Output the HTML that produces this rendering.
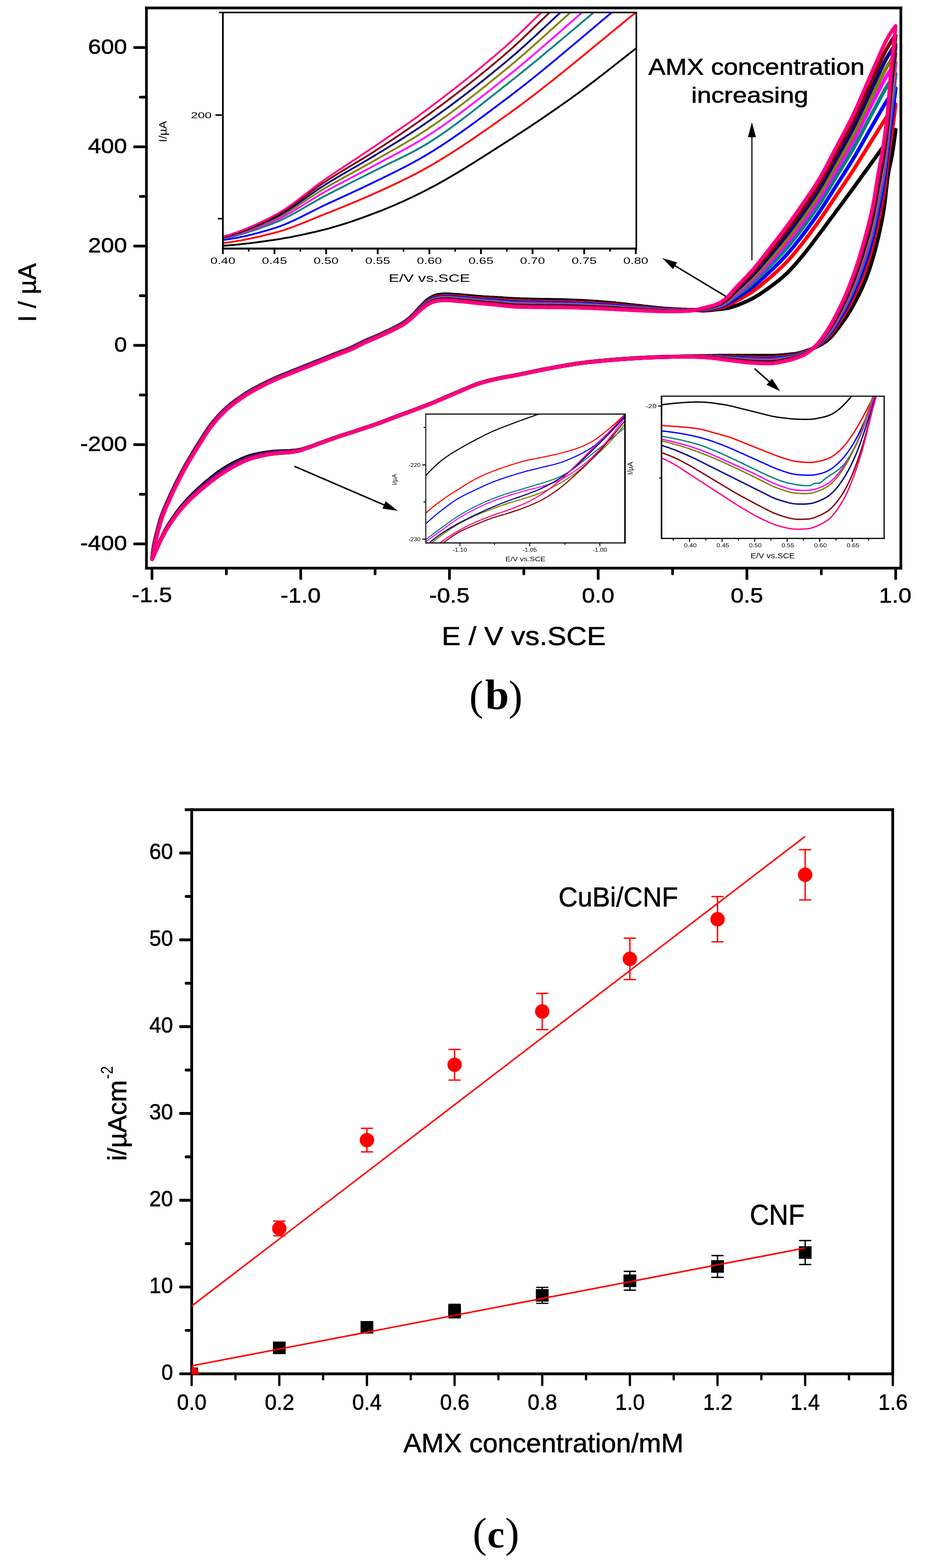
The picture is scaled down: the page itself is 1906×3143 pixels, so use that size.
<!DOCTYPE html>
<html lang="en"><head><meta charset="utf-8"><title>Figure (b), (c)</title>
<style>
html,body{margin:0;padding:0;background:#fff;}
body{width:1906px;height:3143px;overflow:hidden;font-family:"Liberation Sans",sans-serif;}
svg{display:block;}
</style></head><body>
<svg width="1906" height="3143" viewBox="0 0 1906 3143" role="img" aria-label="Cyclic voltammograms (b) and calibration plot (c)">
<g id="cv-main">
<path d="M304.8,1120.5 L306.0,1108.6 L307.0,1100.5 L308.0,1094.4 L309.0,1089.2 L310.0,1084.6 L311.0,1080.2 L312.0,1075.9 L313.0,1071.7 L314.0,1067.7 L315.0,1063.9 L316.0,1060.1 L317.0,1056.3 L318.0,1052.6 L319.0,1049.0 L320.0,1045.5 L321.0,1042.1 L322.0,1039.0 L323.0,1036.0 L324.0,1033.1 L325.0,1030.3 L326.0,1027.6 L327.0,1025.0 L328.0,1022.5 L329.0,1020.0 L330.0,1017.6 L334.0,1008.5 L338.0,999.8 L342.0,990.9 L346.0,982.2 L350.0,973.8 L354.0,965.8 L358.0,957.9 L362.0,950.1 L366.0,942.5 L370.0,935.3 L374.0,928.3 L378.0,921.5 L382.0,914.7 L386.0,907.9 L390.0,901.3 L394.0,894.8 L398.0,888.5 L402.0,882.2 L406.0,875.8 L410.0,869.5 L414.0,863.4 L418.0,857.6 L422.0,852.2 L426.0,847.1 L430.0,842.2 L434.0,837.6 L438.0,833.1 L442.0,828.9 L446.0,824.8 L450.0,820.9 L454.0,817.2 L458.0,813.7 L462.0,810.3 L466.0,807.2 L470.0,804.2 L474.0,801.3 L478.0,798.5 L482.0,795.7 L486.0,793.0 L490.0,790.3 L494.0,787.8 L498.0,785.3 L502.0,782.9 L506.0,780.6 L510.0,778.4 L514.0,776.3 L518.0,774.2 L522.0,772.1 L526.0,770.0 L530.0,768.0 L534.0,766.0 L538.0,764.1 L542.0,762.2 L546.0,760.3 L550.0,758.5 L554.0,756.7 L558.0,755.0 L562.0,753.3 L566.0,751.6 L570.0,750.1 L574.0,748.5 L578.0,746.9 L582.0,745.3 L586.0,743.7 L590.0,742.1 L594.0,740.5 L598.0,738.9 L602.0,737.3 L606.0,735.7 L610.0,734.1 L614.0,732.5 L618.0,730.9 L622.0,729.3 L626.0,727.7 L630.0,726.1 L634.0,724.6 L638.0,723.0 L642.0,721.4 L646.0,719.7 L650.0,718.1 L654.0,716.5 L658.0,714.9 L662.0,713.3 L666.0,711.6 L670.0,710.0 L674.0,708.4 L678.0,706.9 L682.0,705.3 L686.0,703.9 L690.0,702.5 L694.0,701.0 L698.0,699.5 L702.0,697.8 L706.0,695.9 L710.0,693.9 L714.0,691.9 L718.0,689.8 L722.0,687.8 L726.0,685.8 L730.0,684.0 L734.0,682.3 L738.0,680.5 L742.0,678.8 L746.0,677.1 L750.0,675.4 L754.0,673.7 L758.0,671.9 L762.0,670.1 L766.0,668.3 L770.0,666.5 L774.0,664.6 L778.0,662.8 L782.0,660.8 L786.0,658.9 L790.0,656.9 L794.0,654.8 L798.0,652.7 L802.0,650.6 L806.0,648.3 L810.0,645.7 L814.0,642.8 L818.0,639.7 L822.0,636.3 L826.0,632.6 L830.0,628.7 L834.0,624.3 L838.0,619.7 L842.0,615.3 L846.0,611.3 L850.0,607.3 L854.0,603.5 L858.0,600.3 L862.0,597.8 L866.0,595.5 L870.0,593.6 L874.0,592.1 L878.0,591.3 L882.0,590.8 L886.0,590.3 L890.0,590.1 L894.0,590.0 L898.0,590.1 L902.0,590.2 L906.0,590.4 L910.0,590.7 L914.0,591.0 L918.0,591.3 L922.0,591.6 L926.0,591.9 L930.0,592.3 L934.0,592.6 L938.0,593.0 L942.0,593.4 L946.0,593.8 L950.0,594.1 L954.0,594.5 L958.0,594.8 L962.0,595.1 L966.0,595.4 L970.0,595.7 L974.0,595.9 L978.0,596.1 L982.0,596.4 L986.0,596.6 L990.0,596.8 L994.0,597.0 L998.0,597.3 L1002.0,597.5 L1006.0,597.8 L1010.0,598.1 L1014.0,598.3 L1018.0,598.6 L1022.0,598.8 L1026.0,599.1 L1030.0,599.3 L1034.0,599.5 L1038.0,599.6 L1042.0,599.8 L1046.0,599.9 L1050.0,600.0 L1054.0,600.1 L1058.0,600.2 L1062.0,600.3 L1066.0,600.4 L1070.0,600.5 L1074.0,600.6 L1078.0,600.7 L1082.0,600.7 L1086.0,600.8 L1090.0,600.9 L1094.0,600.9 L1098.0,601.0 L1102.0,601.1 L1106.0,601.2 L1110.0,601.2 L1114.0,601.3 L1118.0,601.4 L1122.0,601.5 L1126.0,601.6 L1130.0,601.7 L1134.0,601.8 L1138.0,601.9 L1142.0,602.1 L1146.0,602.2 L1150.0,602.4 L1154.0,602.5 L1158.0,602.7 L1162.0,602.9 L1166.0,603.1 L1170.0,603.3 L1174.0,603.6 L1178.0,603.8 L1182.0,604.0 L1186.0,604.3 L1190.0,604.6 L1194.0,604.8 L1198.0,605.1 L1202.0,605.4 L1206.0,605.7 L1210.0,605.9 L1214.0,606.3 L1218.0,606.6 L1222.0,607.0 L1226.0,607.3 L1230.0,607.7 L1234.0,608.1 L1238.0,608.6 L1242.0,609.0 L1246.0,609.4 L1250.0,609.8 L1254.0,610.3 L1258.0,610.7 L1262.0,611.1 L1266.0,611.6 L1270.0,612.0 L1274.0,612.4 L1278.0,612.8 L1282.0,613.2 L1286.0,613.6 L1290.0,614.1 L1294.0,614.6 L1298.0,615.0 L1302.0,615.5 L1306.0,615.9 L1310.0,616.3 L1314.0,616.8 L1318.0,617.2 L1322.0,617.6 L1326.0,617.9 L1330.0,618.3 L1334.0,618.6 L1338.0,618.9 L1342.0,619.1 L1346.0,619.3 L1350.0,619.5 L1354.0,619.7 L1358.0,619.9 L1362.0,620.0 L1366.0,620.2 L1370.0,620.4 L1374.0,620.5 L1378.0,620.7 L1382.0,620.9 L1386.0,621.0 L1390.0,621.2 L1394.0,621.4 L1398.0,621.8 L1402.0,622.3 L1406.0,622.7 L1410.0,622.7 L1414.0,622.5 L1418.0,622.2 L1422.0,621.9 L1426.0,621.5 L1430.0,621.1 L1434.0,620.6 L1438.0,620.2 L1442.0,619.8 L1446.0,619.4 L1450.0,619.0 L1454.0,618.4 L1458.0,617.8 L1462.0,616.8 L1466.0,615.7 L1470.0,614.4 L1474.0,613.1 L1478.0,611.7 L1482.0,610.2 L1486.0,608.6 L1490.0,606.9 L1494.0,605.1 L1498.0,603.3 L1502.0,601.3 L1506.0,599.3 L1510.0,597.2 L1514.0,595.0 L1518.0,592.6 L1522.0,590.1 L1526.0,587.4 L1530.0,584.7 L1534.0,581.9 L1538.0,579.1 L1542.0,576.2 L1546.0,573.3 L1550.0,570.4 L1554.0,567.3 L1558.0,564.2 L1562.0,561.0 L1566.0,557.7 L1570.0,554.2 L1574.0,550.6 L1578.0,546.9 L1582.0,542.8 L1586.0,538.6 L1590.0,534.3 L1594.0,529.8 L1598.0,525.1 L1602.0,520.4 L1606.0,515.7 L1610.0,510.9 L1614.0,506.0 L1618.0,500.9 L1622.0,495.7 L1626.0,490.4 L1630.0,485.1 L1634.0,479.7 L1638.0,474.4 L1642.0,469.1 L1646.0,463.8 L1650.0,458.4 L1654.0,453.0 L1658.0,447.6 L1662.0,442.2 L1666.0,436.8 L1670.0,431.4 L1674.0,425.9 L1678.0,420.6 L1682.0,415.2 L1686.0,409.8 L1690.0,404.4 L1694.0,399.0 L1698.0,393.6 L1700.0,390.9 L1701.0,389.5 L1702.0,388.2 L1703.0,386.8 L1704.0,385.5 L1705.0,384.1 L1706.0,382.7 L1707.0,381.4 L1708.0,380.0 L1709.0,378.6 L1710.0,377.3 L1711.0,375.9 L1712.0,374.5 L1713.0,373.1 L1714.0,371.7 L1715.0,370.4 L1716.0,369.0 L1717.0,367.6 L1718.0,366.2 L1719.0,364.8 L1720.0,363.4 L1721.0,362.1 L1722.0,360.7 L1723.0,359.3 L1724.0,357.9 L1725.0,356.5 L1726.0,355.1 L1727.0,353.7 L1728.0,352.3 L1729.0,351.0 L1730.0,349.6 L1731.0,348.2 L1732.0,346.8 L1733.0,345.4 L1734.0,344.1 L1735.0,342.7 L1736.0,341.3 L1737.0,339.9 L1738.0,338.5 L1739.0,337.2 L1740.0,335.8 L1741.0,334.4 L1742.0,333.0 L1743.0,331.6 L1744.0,330.3 L1745.0,328.9 L1746.0,327.5 L1747.0,326.1 L1748.0,324.7 L1749.0,323.4 L1750.0,322.0 L1751.0,320.6 L1752.0,319.2 L1753.0,317.8 L1754.0,316.5 L1755.0,315.1 L1756.0,313.7 L1757.0,312.3 L1758.0,311.0 L1759.0,309.6 L1760.0,308.2 L1761.0,306.8 L1762.0,305.4 L1763.0,304.1 L1764.0,302.7 L1765.0,301.3 L1766.0,299.9 L1767.0,298.5 L1768.0,297.2 L1769.0,295.8 L1770.0,294.4 L1771.0,293.0 L1772.0,291.7 L1773.0,290.3 L1774.0,288.9 L1775.0,287.5 L1776.0,286.1 L1777.0,284.8 L1778.0,283.4 L1779.0,282.0 L1780.0,280.6 L1781.0,279.3 L1782.0,277.9 L1783.0,276.5 L1784.0,275.1 L1785.0,273.8 L1786.0,272.4 L1787.0,271.0 L1788.0,269.6 L1789.0,268.3 L1790.0,266.9 L1791.0,265.5 L1792.0,264.1 L1793.0,262.8 L1794.0,261.4 L1795.0,260.0 L1795.0,260.0 L1794.0,268.0 L1793.0,275.8 L1792.0,283.3 L1791.0,290.5 L1790.0,297.4 L1789.0,303.9 L1788.0,310.0 L1787.0,315.6 L1786.0,320.6 L1785.0,325.2 L1784.0,329.7 L1783.0,334.2 L1782.0,339.0 L1781.0,344.2 L1780.0,350.0 L1779.0,356.9 L1778.0,364.9 L1777.0,373.7 L1776.0,382.9 L1775.0,392.1 L1774.0,400.9 L1773.0,409.0 L1772.0,416.0 L1771.0,422.2 L1770.0,428.1 L1769.0,433.8 L1768.0,439.3 L1767.0,444.6 L1766.0,449.6 L1765.0,454.5 L1764.0,459.2 L1763.0,463.8 L1762.0,468.2 L1761.0,472.6 L1760.0,476.8 L1759.0,481.0 L1758.0,485.0 L1757.0,489.1 L1756.0,493.0 L1755.0,496.9 L1754.0,500.7 L1753.0,504.5 L1752.0,508.1 L1751.0,511.7 L1750.0,515.3 L1749.0,518.8 L1748.0,522.2 L1747.0,525.5 L1746.0,528.8 L1745.0,532.0 L1744.0,535.1 L1743.0,538.1 L1742.0,541.1 L1741.0,544.0 L1740.0,546.9 L1739.0,549.6 L1738.0,552.3 L1737.0,555.0 L1736.0,557.6 L1735.0,560.1 L1734.0,562.6 L1733.0,565.0 L1732.0,567.4 L1731.0,569.8 L1730.0,572.1 L1729.0,574.4 L1728.0,576.6 L1727.0,578.8 L1726.0,581.0 L1725.0,583.1 L1724.0,585.2 L1723.0,587.3 L1722.0,589.3 L1721.0,591.3 L1720.0,593.3 L1719.0,595.3 L1718.0,597.2 L1717.0,599.1 L1716.0,601.1 L1715.0,602.9 L1714.0,604.8 L1713.0,606.7 L1712.0,608.5 L1711.0,610.3 L1710.0,612.1 L1709.0,613.9 L1708.0,615.7 L1707.0,617.4 L1706.0,619.2 L1705.0,620.9 L1704.0,622.6 L1703.0,624.2 L1702.0,625.9 L1701.0,627.5 L1700.0,629.1 L1698.0,632.3 L1694.0,638.4 L1690.0,644.1 L1686.0,649.6 L1682.0,655.1 L1678.0,660.4 L1674.0,665.6 L1670.0,670.4 L1666.0,674.9 L1662.0,678.8 L1658.0,682.2 L1654.0,685.1 L1650.0,687.8 L1646.0,690.2 L1642.0,692.5 L1638.0,694.6 L1634.0,696.4 L1630.0,698.2 L1626.0,699.8 L1622.0,701.2 L1618.0,702.6 L1614.0,704.0 L1610.0,705.3 L1606.0,706.4 L1602.0,707.5 L1598.0,708.4 L1594.0,709.1 L1590.0,709.6 L1586.0,710.1 L1582.0,710.5 L1578.0,710.9 L1574.0,711.3 L1570.0,711.7 L1566.0,712.0 L1562.0,712.3 L1558.0,712.5 L1554.0,712.7 L1550.0,712.9 L1546.0,713.0 L1542.0,713.0 L1538.0,713.0 L1534.0,713.0 L1530.0,713.0 L1526.0,713.0 L1522.0,713.0 L1518.0,713.0 L1514.0,713.0 L1510.0,713.0 L1506.0,713.0 L1502.0,713.0 L1498.0,713.0 L1494.0,713.0 L1490.0,713.0 L1486.0,713.0 L1482.0,713.0 L1478.0,713.0 L1474.0,713.0 L1470.0,713.0 L1466.0,713.0 L1462.0,713.0 L1458.0,713.0 L1454.0,713.1 L1450.0,713.1 L1446.0,713.1 L1442.0,713.1 L1438.0,713.2 L1434.0,713.2 L1430.0,713.3 L1426.0,713.3 L1422.0,713.3 L1418.0,713.4 L1414.0,713.4 L1410.0,713.5 L1406.0,713.5 L1402.0,713.6 L1398.0,713.7 L1394.0,713.8 L1390.0,713.9 L1386.0,714.0 L1382.0,714.1 L1378.0,714.2 L1374.0,714.3 L1370.0,714.4 L1366.0,714.5 L1362.0,714.6 L1358.0,714.6 L1354.0,714.7 L1350.0,714.8 L1346.0,714.9 L1342.0,715.0 L1338.0,715.1 L1334.0,715.2 L1330.0,715.3 L1326.0,715.4 L1322.0,715.5 L1318.0,715.6 L1314.0,715.8 L1310.0,715.9 L1306.0,716.0 L1302.0,716.2 L1298.0,716.4 L1294.0,716.5 L1290.0,716.7 L1286.0,716.9 L1282.0,717.2 L1278.0,717.4 L1274.0,717.6 L1270.0,717.9 L1266.0,718.2 L1262.0,718.4 L1258.0,718.7 L1254.0,719.0 L1250.0,719.3 L1246.0,719.6 L1242.0,719.9 L1238.0,720.1 L1234.0,720.4 L1230.0,720.8 L1226.0,721.1 L1222.0,721.4 L1218.0,721.8 L1214.0,722.1 L1210.0,722.5 L1206.0,722.8 L1202.0,723.2 L1198.0,723.6 L1194.0,724.0 L1190.0,724.4 L1186.0,724.9 L1182.0,725.3 L1178.0,725.8 L1174.0,726.2 L1170.0,726.7 L1166.0,727.2 L1162.0,727.8 L1158.0,728.3 L1154.0,728.9 L1150.0,729.5 L1146.0,730.2 L1142.0,730.8 L1138.0,731.5 L1134.0,732.2 L1130.0,732.9 L1126.0,733.6 L1122.0,734.3 L1118.0,735.0 L1114.0,735.7 L1110.0,736.4 L1106.0,737.1 L1102.0,737.9 L1098.0,738.6 L1094.0,739.4 L1090.0,740.2 L1086.0,741.0 L1082.0,741.8 L1078.0,742.6 L1074.0,743.5 L1070.0,744.3 L1066.0,745.1 L1062.0,746.0 L1058.0,746.8 L1054.0,747.7 L1050.0,748.5 L1046.0,749.3 L1042.0,750.1 L1038.0,750.9 L1034.0,751.7 L1030.0,752.4 L1026.0,753.1 L1022.0,753.9 L1018.0,754.6 L1014.0,755.3 L1010.0,756.1 L1006.0,756.8 L1002.0,757.6 L998.0,758.5 L994.0,759.3 L990.0,760.3 L986.0,761.2 L982.0,762.2 L978.0,763.2 L974.0,764.2 L970.0,765.3 L966.0,766.5 L962.0,767.7 L958.0,769.0 L954.0,770.4 L950.0,771.9 L946.0,773.5 L942.0,775.2 L938.0,776.9 L934.0,778.6 L930.0,780.3 L926.0,782.0 L922.0,783.7 L918.0,785.4 L914.0,787.1 L910.0,788.8 L906.0,790.5 L902.0,792.3 L898.0,794.0 L894.0,795.7 L890.0,797.4 L886.0,799.1 L882.0,800.8 L878.0,802.5 L874.0,804.2 L870.0,805.9 L866.0,807.6 L862.0,809.2 L858.0,810.8 L854.0,812.4 L850.0,813.9 L846.0,815.4 L842.0,817.0 L838.0,818.5 L834.0,820.0 L830.0,821.5 L826.0,823.0 L822.0,824.4 L818.0,825.9 L814.0,827.4 L810.0,828.9 L806.0,830.3 L802.0,831.8 L798.0,833.3 L794.0,834.7 L790.0,836.2 L786.0,837.8 L782.0,839.3 L778.0,840.9 L774.0,842.4 L770.0,844.0 L766.0,845.5 L762.0,847.0 L758.0,848.4 L754.0,849.8 L750.0,851.2 L746.0,852.6 L742.0,853.9 L738.0,855.2 L734.0,856.6 L730.0,857.9 L726.0,859.2 L722.0,860.6 L718.0,861.9 L714.0,863.2 L710.0,864.5 L706.0,865.9 L702.0,867.2 L698.0,868.4 L694.0,869.7 L690.0,871.0 L686.0,872.2 L682.0,873.5 L678.0,874.8 L674.0,876.2 L670.0,877.6 L666.0,879.0 L662.0,880.4 L658.0,881.9 L654.0,883.3 L650.0,884.7 L646.0,886.2 L642.0,887.6 L638.0,889.1 L634.0,890.7 L630.0,892.2 L626.0,893.7 L622.0,895.1 L618.0,896.4 L614.0,897.5 L610.0,898.8 L606.0,900.2 L602.0,901.4 L598.0,902.0 L594.0,902.6 L590.0,903.1 L586.0,903.4 L582.0,903.7 L578.0,903.9 L574.0,904.1 L570.0,904.2 L566.0,904.3 L562.0,904.4 L558.0,904.6 L554.0,904.9 L550.0,905.2 L546.0,905.6 L542.0,906.0 L538.0,906.4 L534.0,906.9 L530.0,907.6 L526.0,908.3 L522.0,909.0 L518.0,909.8 L514.0,910.6 L510.0,911.5 L506.0,912.5 L502.0,913.5 L498.0,914.8 L494.0,916.2 L490.0,917.8 L486.0,919.5 L482.0,921.2 L478.0,923.1 L474.0,925.0 L470.0,927.0 L466.0,929.1 L462.0,931.3 L458.0,933.6 L454.0,935.9 L450.0,938.4 L446.0,941.0 L442.0,943.7 L438.0,946.4 L434.0,949.3 L430.0,952.4 L426.0,955.5 L422.0,958.7 L418.0,961.9 L414.0,965.2 L410.0,968.6 L406.0,972.1 L402.0,975.7 L398.0,979.3 L394.0,983.1 L390.0,986.9 L386.0,990.8 L382.0,994.9 L378.0,999.1 L374.0,1003.3 L370.0,1007.8 L366.0,1012.4 L362.0,1017.1 L358.0,1022.2 L354.0,1027.5 L350.0,1033.1 L346.0,1038.9 L342.0,1044.8 L338.0,1051.0 L334.0,1057.7 L330.0,1064.9 L329.0,1066.9 L328.0,1068.8 L327.0,1070.8 L326.0,1072.9 L325.0,1075.0 L324.0,1077.0 L323.0,1079.2 L322.0,1081.3 L321.0,1083.5 L320.0,1085.7 L319.0,1088.0 L318.0,1090.3 L317.0,1092.6 L316.0,1095.0 L315.0,1097.3 L314.0,1099.6 L313.0,1101.9 L312.0,1104.1 L311.0,1106.4 L310.0,1108.7 L309.0,1111.0 L308.0,1113.2 L307.0,1115.5 L306.0,1117.8 L304.8,1120.5" fill="none" stroke="#000000" stroke-width="7.5" stroke-linejoin="round" stroke-linecap="round" />
<path d="M304.8,1120.5 L306.0,1110.1 L307.0,1102.8 L308.0,1097.0 L309.0,1091.9 L310.0,1087.2 L311.0,1082.6 L312.0,1078.1 L313.0,1073.8 L314.0,1069.8 L315.0,1065.9 L316.0,1062.1 L317.0,1058.3 L318.0,1054.6 L319.0,1050.9 L320.0,1047.4 L321.0,1044.0 L322.0,1040.8 L323.0,1037.7 L324.0,1034.8 L325.0,1032.0 L326.0,1029.3 L327.0,1026.6 L328.0,1024.0 L329.0,1021.5 L330.0,1019.1 L334.0,1010.0 L338.0,1001.3 L342.0,992.4 L346.0,983.6 L350.0,975.2 L354.0,967.2 L358.0,959.3 L362.0,951.5 L366.0,943.8 L370.0,936.5 L374.0,929.6 L378.0,922.7 L382.0,915.9 L386.0,909.2 L390.0,902.5 L394.0,896.0 L398.0,889.7 L402.0,883.4 L406.0,877.1 L410.0,870.7 L414.0,864.6 L418.0,858.7 L422.0,853.3 L426.0,848.2 L430.0,843.3 L434.0,838.6 L438.0,834.2 L442.0,829.9 L446.0,825.8 L450.0,821.9 L454.0,818.2 L458.0,814.6 L462.0,811.3 L466.0,808.1 L470.0,805.1 L474.0,802.2 L478.0,799.4 L482.0,796.6 L486.0,793.9 L490.0,791.2 L494.0,788.7 L498.0,786.2 L502.0,783.8 L506.0,781.5 L510.0,779.3 L514.0,777.2 L518.0,775.1 L522.0,773.0 L526.0,770.9 L530.0,768.9 L534.0,766.9 L538.0,764.9 L542.0,763.0 L546.0,761.1 L550.0,759.3 L554.0,757.5 L558.0,755.8 L562.0,754.1 L566.0,752.5 L570.0,750.9 L574.0,749.3 L578.0,747.8 L582.0,746.2 L586.0,744.6 L590.0,742.9 L594.0,741.3 L598.0,739.7 L602.0,738.1 L606.0,736.5 L610.0,734.9 L614.0,733.3 L618.0,731.7 L622.0,730.1 L626.0,728.6 L630.0,727.0 L634.0,725.4 L638.0,723.8 L642.0,722.2 L646.0,720.6 L650.0,718.9 L654.0,717.3 L658.0,715.7 L662.0,714.1 L666.0,712.5 L670.0,710.9 L674.0,709.3 L678.0,707.7 L682.0,706.1 L686.0,704.7 L690.0,703.3 L694.0,701.8 L698.0,700.3 L702.0,698.6 L706.0,696.7 L710.0,694.8 L714.0,692.7 L718.0,690.6 L722.0,688.6 L726.0,686.7 L730.0,684.9 L734.0,683.1 L738.0,681.4 L742.0,679.7 L746.0,678.0 L750.0,676.3 L754.0,674.5 L758.0,672.8 L762.0,671.0 L766.0,669.1 L770.0,667.3 L774.0,665.5 L778.0,663.6 L782.0,661.7 L786.0,659.7 L790.0,657.7 L794.0,655.7 L798.0,653.6 L802.0,651.5 L806.0,649.1 L810.0,646.6 L814.0,643.8 L818.0,640.6 L822.0,637.2 L826.0,633.6 L830.0,629.8 L834.0,625.5 L838.0,621.1 L842.0,617.0 L846.0,613.1 L850.0,609.3 L854.0,605.8 L858.0,602.7 L862.0,600.3 L866.0,598.1 L870.0,596.3 L874.0,594.9 L878.0,594.1 L882.0,593.6 L886.0,593.3 L890.0,593.0 L894.0,592.9 L898.0,593.0 L902.0,593.2 L906.0,593.4 L910.0,593.7 L914.0,594.0 L918.0,594.3 L922.0,594.7 L926.0,595.0 L930.0,595.3 L934.0,595.7 L938.0,596.1 L942.0,596.5 L946.0,596.9 L950.0,597.3 L954.0,597.7 L958.0,598.0 L962.0,598.3 L966.0,598.6 L970.0,598.9 L974.0,599.2 L978.0,599.4 L982.0,599.7 L986.0,600.0 L990.0,600.2 L994.0,600.5 L998.0,600.8 L1002.0,601.1 L1006.0,601.4 L1010.0,601.7 L1014.0,602.0 L1018.0,602.3 L1022.0,602.6 L1026.0,602.8 L1030.0,603.1 L1034.0,603.3 L1038.0,603.5 L1042.0,603.6 L1046.0,603.7 L1050.0,603.8 L1054.0,603.9 L1058.0,604.0 L1062.0,604.1 L1066.0,604.2 L1070.0,604.2 L1074.0,604.3 L1078.0,604.4 L1082.0,604.4 L1086.0,604.5 L1090.0,604.5 L1094.0,604.6 L1098.0,604.7 L1102.0,604.7 L1106.0,604.8 L1110.0,604.8 L1114.0,604.9 L1118.0,605.0 L1122.0,605.1 L1126.0,605.1 L1130.0,605.2 L1134.0,605.3 L1138.0,605.4 L1142.0,605.6 L1146.0,605.7 L1150.0,605.8 L1154.0,606.0 L1158.0,606.2 L1162.0,606.3 L1166.0,606.5 L1170.0,606.7 L1174.0,606.9 L1178.0,607.2 L1182.0,607.4 L1186.0,607.6 L1190.0,607.8 L1194.0,608.1 L1198.0,608.3 L1202.0,608.6 L1206.0,608.8 L1210.0,609.1 L1214.0,609.4 L1218.0,609.7 L1222.0,610.0 L1226.0,610.3 L1230.0,610.7 L1234.0,611.1 L1238.0,611.4 L1242.0,611.8 L1246.0,612.2 L1250.0,612.5 L1254.0,612.9 L1258.0,613.3 L1262.0,613.7 L1266.0,614.0 L1270.0,614.4 L1274.0,614.7 L1278.0,615.1 L1282.0,615.5 L1286.0,615.8 L1290.0,616.2 L1294.0,616.6 L1298.0,617.0 L1302.0,617.4 L1306.0,617.8 L1310.0,618.1 L1314.0,618.5 L1318.0,618.8 L1322.0,619.2 L1326.0,619.5 L1330.0,619.7 L1334.0,620.0 L1338.0,620.2 L1342.0,620.4 L1346.0,620.5 L1350.0,620.7 L1354.0,620.8 L1358.0,620.9 L1362.0,621.0 L1366.0,621.1 L1370.0,621.2 L1374.0,621.3 L1378.0,621.3 L1382.0,621.4 L1386.0,621.4 L1390.0,621.4 L1394.0,621.5 L1398.0,621.6 L1402.0,621.7 L1406.0,621.7 L1410.0,621.4 L1414.0,621.0 L1418.0,620.5 L1422.0,620.0 L1426.0,619.5 L1430.0,618.8 L1434.0,618.2 L1438.0,617.5 L1442.0,616.8 L1446.0,615.9 L1450.0,614.8 L1454.0,613.7 L1458.0,612.3 L1462.0,610.6 L1466.0,608.6 L1470.0,606.5 L1474.0,604.4 L1478.0,602.3 L1482.0,600.1 L1486.0,597.9 L1490.0,595.6 L1494.0,593.3 L1498.0,590.9 L1502.0,588.4 L1506.0,585.8 L1510.0,583.1 L1514.0,580.2 L1518.0,577.2 L1522.0,574.1 L1526.0,570.8 L1530.0,567.5 L1534.0,564.1 L1538.0,560.7 L1542.0,557.3 L1546.0,553.9 L1550.0,550.4 L1554.0,546.9 L1558.0,543.3 L1562.0,539.6 L1566.0,535.8 L1570.0,531.9 L1574.0,527.9 L1578.0,523.7 L1582.0,519.3 L1586.0,514.8 L1590.0,510.1 L1594.0,505.3 L1598.0,500.4 L1602.0,495.5 L1606.0,490.5 L1610.0,485.5 L1614.0,480.3 L1618.0,475.1 L1622.0,469.7 L1626.0,464.3 L1630.0,458.8 L1634.0,453.3 L1638.0,447.7 L1642.0,442.1 L1646.0,436.4 L1650.0,430.6 L1654.0,424.7 L1658.0,418.8 L1662.0,412.8 L1666.0,406.8 L1670.0,400.9 L1674.0,394.9 L1678.0,389.0 L1682.0,383.1 L1686.0,377.2 L1690.0,371.3 L1694.0,365.4 L1698.0,359.4 L1700.0,356.4 L1701.0,354.9 L1702.0,353.4 L1703.0,351.9 L1704.0,350.4 L1705.0,348.8 L1706.0,347.3 L1707.0,345.8 L1708.0,344.3 L1709.0,342.7 L1710.0,341.2 L1711.0,339.6 L1712.0,338.1 L1713.0,336.5 L1714.0,334.9 L1715.0,333.4 L1716.0,331.8 L1717.0,330.2 L1718.0,328.6 L1719.0,327.0 L1720.0,325.4 L1721.0,323.8 L1722.0,322.2 L1723.0,320.6 L1724.0,319.0 L1725.0,317.4 L1726.0,315.8 L1727.0,314.2 L1728.0,312.6 L1729.0,311.0 L1730.0,309.3 L1731.0,307.7 L1732.0,306.1 L1733.0,304.5 L1734.0,302.9 L1735.0,301.3 L1736.0,299.7 L1737.0,298.0 L1738.0,296.4 L1739.0,294.8 L1740.0,293.2 L1741.0,291.6 L1742.0,290.0 L1743.0,288.4 L1744.0,286.8 L1745.0,285.1 L1746.0,283.5 L1747.0,281.9 L1748.0,280.3 L1749.0,278.7 L1750.0,277.2 L1751.0,275.6 L1752.0,274.0 L1753.0,272.4 L1754.0,270.8 L1755.0,269.2 L1756.0,267.6 L1757.0,266.0 L1758.0,264.4 L1759.0,262.8 L1760.0,261.2 L1761.0,259.6 L1762.0,258.0 L1763.0,256.4 L1764.0,254.8 L1765.0,253.2 L1766.0,251.6 L1767.0,250.0 L1768.0,248.4 L1769.0,246.9 L1770.0,245.3 L1771.0,243.7 L1772.0,242.2 L1773.0,240.6 L1774.0,239.1 L1775.0,237.5 L1776.0,236.0 L1777.0,234.5 L1778.0,233.0 L1779.0,231.5 L1780.0,230.1 L1781.0,228.6 L1782.0,227.2 L1783.0,225.7 L1784.0,224.3 L1785.0,222.9 L1786.0,221.4 L1787.0,220.0 L1788.0,218.6 L1789.0,217.2 L1790.0,215.8 L1791.0,214.5 L1792.0,213.1 L1793.0,211.7 L1794.0,210.4 L1795.0,209.0 L1795.0,209.0 L1794.0,217.9 L1793.0,226.4 L1792.0,234.4 L1791.0,242.1 L1790.0,249.4 L1789.0,256.5 L1788.0,263.3 L1787.0,269.8 L1786.0,276.2 L1785.0,282.6 L1784.0,289.0 L1783.0,295.6 L1782.0,302.4 L1781.0,309.5 L1780.0,316.8 L1779.0,324.6 L1778.0,333.0 L1777.0,341.7 L1776.0,350.7 L1775.0,359.5 L1774.0,368.0 L1773.0,375.8 L1772.0,382.8 L1771.0,389.1 L1770.0,395.2 L1769.0,401.0 L1768.0,406.7 L1767.0,412.1 L1766.0,417.3 L1765.0,422.3 L1764.0,427.1 L1763.0,431.9 L1762.0,436.5 L1761.0,441.2 L1760.0,445.7 L1759.0,450.3 L1758.0,454.9 L1757.0,459.5 L1756.0,464.0 L1755.0,468.5 L1754.0,472.9 L1753.0,477.2 L1752.0,481.5 L1751.0,485.6 L1750.0,489.5 L1749.0,493.3 L1748.0,497.0 L1747.0,500.7 L1746.0,504.2 L1745.0,507.7 L1744.0,511.1 L1743.0,514.5 L1742.0,517.7 L1741.0,520.9 L1740.0,524.0 L1739.0,527.0 L1738.0,530.0 L1737.0,532.9 L1736.0,535.8 L1735.0,538.6 L1734.0,541.3 L1733.0,544.1 L1732.0,546.8 L1731.0,549.4 L1730.0,552.0 L1729.0,554.6 L1728.0,557.1 L1727.0,559.6 L1726.0,562.1 L1725.0,564.5 L1724.0,566.9 L1723.0,569.3 L1722.0,571.6 L1721.0,573.9 L1720.0,576.2 L1719.0,578.4 L1718.0,580.7 L1717.0,582.9 L1716.0,585.0 L1715.0,587.2 L1714.0,589.3 L1713.0,591.4 L1712.0,593.5 L1711.0,595.6 L1710.0,597.6 L1709.0,599.6 L1708.0,601.6 L1707.0,603.6 L1706.0,605.5 L1705.0,607.4 L1704.0,609.4 L1703.0,611.2 L1702.0,613.1 L1701.0,615.0 L1700.0,616.8 L1698.0,620.4 L1694.0,627.3 L1690.0,633.8 L1686.0,640.1 L1682.0,646.3 L1678.0,652.3 L1674.0,658.0 L1670.0,663.5 L1666.0,668.6 L1662.0,673.3 L1658.0,677.4 L1654.0,681.1 L1650.0,684.5 L1646.0,687.8 L1642.0,690.8 L1638.0,693.4 L1634.0,695.8 L1630.0,698.1 L1626.0,700.1 L1622.0,702.0 L1618.0,703.8 L1614.0,705.4 L1610.0,706.9 L1606.0,708.2 L1602.0,709.4 L1598.0,710.5 L1594.0,711.4 L1590.0,712.1 L1586.0,712.7 L1582.0,713.3 L1578.0,713.8 L1574.0,714.3 L1570.0,714.8 L1566.0,715.3 L1562.0,715.7 L1558.0,716.1 L1554.0,716.4 L1550.0,716.6 L1546.0,716.8 L1542.0,716.8 L1538.0,716.8 L1534.0,716.8 L1530.0,716.8 L1526.0,716.8 L1522.0,716.7 L1518.0,716.7 L1514.0,716.6 L1510.0,716.6 L1506.0,716.5 L1502.0,716.4 L1498.0,716.4 L1494.0,716.3 L1490.0,716.1 L1486.0,716.0 L1482.0,715.9 L1478.0,715.8 L1474.0,715.7 L1470.0,715.6 L1466.0,715.4 L1462.0,715.3 L1458.0,715.2 L1454.0,715.1 L1450.0,714.9 L1446.0,714.8 L1442.0,714.7 L1438.0,714.6 L1434.0,714.5 L1430.0,714.4 L1426.0,714.3 L1422.0,714.2 L1418.0,714.2 L1414.0,714.1 L1410.0,714.1 L1406.0,714.1 L1402.0,714.1 L1398.0,714.1 L1394.0,714.2 L1390.0,714.2 L1386.0,714.2 L1382.0,714.3 L1378.0,714.4 L1374.0,714.4 L1370.0,714.5 L1366.0,714.6 L1362.0,714.7 L1358.0,714.7 L1354.0,714.8 L1350.0,714.9 L1346.0,715.0 L1342.0,715.1 L1338.0,715.2 L1334.0,715.3 L1330.0,715.4 L1326.0,715.5 L1322.0,715.6 L1318.0,715.8 L1314.0,715.9 L1310.0,716.0 L1306.0,716.2 L1302.0,716.3 L1298.0,716.5 L1294.0,716.7 L1290.0,716.9 L1286.0,717.1 L1282.0,717.3 L1278.0,717.5 L1274.0,717.8 L1270.0,718.0 L1266.0,718.3 L1262.0,718.6 L1258.0,718.9 L1254.0,719.1 L1250.0,719.4 L1246.0,719.7 L1242.0,720.0 L1238.0,720.3 L1234.0,720.6 L1230.0,720.9 L1226.0,721.2 L1222.0,721.6 L1218.0,721.9 L1214.0,722.2 L1210.0,722.6 L1206.0,723.0 L1202.0,723.4 L1198.0,723.8 L1194.0,724.2 L1190.0,724.6 L1186.0,725.0 L1182.0,725.4 L1178.0,725.9 L1174.0,726.4 L1170.0,726.9 L1166.0,727.4 L1162.0,727.9 L1158.0,728.5 L1154.0,729.1 L1150.0,729.7 L1146.0,730.3 L1142.0,731.0 L1138.0,731.6 L1134.0,732.3 L1130.0,733.0 L1126.0,733.7 L1122.0,734.4 L1118.0,735.1 L1114.0,735.8 L1110.0,736.6 L1106.0,737.3 L1102.0,738.0 L1098.0,738.8 L1094.0,739.5 L1090.0,740.3 L1086.0,741.1 L1082.0,741.9 L1078.0,742.8 L1074.0,743.6 L1070.0,744.4 L1066.0,745.3 L1062.0,746.1 L1058.0,747.0 L1054.0,747.8 L1050.0,748.6 L1046.0,749.4 L1042.0,750.3 L1038.0,751.0 L1034.0,751.8 L1030.0,752.5 L1026.0,753.3 L1022.0,754.0 L1018.0,754.7 L1014.0,755.5 L1010.0,756.2 L1006.0,757.0 L1002.0,757.8 L998.0,758.6 L994.0,759.5 L990.0,760.4 L986.0,761.3 L982.0,762.3 L978.0,763.3 L974.0,764.4 L970.0,765.5 L966.0,766.6 L962.0,767.8 L958.0,769.1 L954.0,770.5 L950.0,772.0 L946.0,773.6 L942.0,775.3 L938.0,777.0 L934.0,778.7 L930.0,780.5 L926.0,782.1 L922.0,783.8 L918.0,785.5 L914.0,787.2 L910.0,789.0 L906.0,790.7 L902.0,792.4 L898.0,794.1 L894.0,795.8 L890.0,797.6 L886.0,799.3 L882.0,801.0 L878.0,802.7 L874.0,804.4 L870.0,806.1 L866.0,807.7 L862.0,809.3 L858.0,810.9 L854.0,812.5 L850.0,814.1 L846.0,815.6 L842.0,817.1 L838.0,818.6 L834.0,820.1 L830.0,821.6 L826.0,823.1 L822.0,824.6 L818.0,826.1 L814.0,827.5 L810.0,829.0 L806.0,830.5 L802.0,831.9 L798.0,833.4 L794.0,834.9 L790.0,836.4 L786.0,837.9 L782.0,839.5 L778.0,841.0 L774.0,842.6 L770.0,844.1 L766.0,845.6 L762.0,847.1 L758.0,848.6 L754.0,850.0 L750.0,851.4 L746.0,852.7 L742.0,854.1 L738.0,855.4 L734.0,856.7 L730.0,858.1 L726.0,859.4 L722.0,860.8 L718.0,862.1 L714.0,863.4 L710.0,864.7 L706.0,866.1 L702.0,867.4 L698.0,868.7 L694.0,869.9 L690.0,871.2 L686.0,872.4 L682.0,873.7 L678.0,875.1 L674.0,876.5 L670.0,877.9 L666.0,879.3 L662.0,880.7 L658.0,882.1 L654.0,883.6 L650.0,885.0 L646.0,886.5 L642.0,887.9 L638.0,889.4 L634.0,890.9 L630.0,892.5 L626.0,894.0 L622.0,895.4 L618.0,896.7 L614.0,897.9 L610.0,899.3 L606.0,900.8 L602.0,902.1 L598.0,902.9 L594.0,903.6 L590.0,904.2 L586.0,904.6 L582.0,905.0 L578.0,905.3 L574.0,905.5 L570.0,905.7 L566.0,905.9 L562.0,906.1 L558.0,906.4 L554.0,906.7 L550.0,907.1 L546.0,907.5 L542.0,908.0 L538.0,908.5 L534.0,909.1 L530.0,909.9 L526.0,910.6 L522.0,911.4 L518.0,912.3 L514.0,913.2 L510.0,914.1 L506.0,915.2 L502.0,916.3 L498.0,917.6 L494.0,919.1 L490.0,920.8 L486.0,922.6 L482.0,924.4 L478.0,926.3 L474.0,928.3 L470.0,930.3 L466.0,932.5 L462.0,934.7 L458.0,937.1 L454.0,939.5 L450.0,942.0 L446.0,944.6 L442.0,947.2 L438.0,950.0 L434.0,952.9 L430.0,955.9 L426.0,958.9 L422.0,962.1 L418.0,965.3 L414.0,968.5 L410.0,971.8 L406.0,975.2 L402.0,978.7 L398.0,982.3 L394.0,985.9 L390.0,989.6 L386.0,993.5 L382.0,997.4 L378.0,1001.5 L374.0,1005.7 L370.0,1010.0 L366.0,1014.5 L362.0,1019.2 L358.0,1024.2 L354.0,1029.4 L350.0,1034.9 L346.0,1040.5 L342.0,1046.4 L338.0,1052.5 L334.0,1059.1 L330.0,1066.2 L329.0,1068.1 L328.0,1070.0 L327.0,1072.0 L326.0,1074.0 L325.0,1076.0 L324.0,1078.1 L323.0,1080.1 L322.0,1082.2 L321.0,1084.3 L320.0,1086.5 L319.0,1088.8 L318.0,1091.0 L317.0,1093.3 L316.0,1095.6 L315.0,1097.8 L314.0,1100.1 L313.0,1102.3 L312.0,1104.5 L311.0,1106.7 L310.0,1109.0 L309.0,1111.2 L308.0,1113.4 L307.0,1115.6 L306.0,1117.8 L304.8,1120.5" fill="none" stroke="#ff0000" stroke-width="7.5" stroke-linejoin="round" stroke-linecap="round" />
<path d="M304.8,1120.5 L306.0,1111.1 L307.0,1104.3 L308.0,1098.6 L309.0,1093.6 L310.0,1088.8 L311.0,1084.1 L312.0,1079.5 L313.0,1075.2 L314.0,1071.1 L315.0,1067.2 L316.0,1063.3 L317.0,1059.5 L318.0,1055.8 L319.0,1052.1 L320.0,1048.6 L321.0,1045.2 L322.0,1041.9 L323.0,1038.8 L324.0,1035.9 L325.0,1033.0 L326.0,1030.3 L327.0,1027.6 L328.0,1025.0 L329.0,1022.5 L330.0,1020.1 L334.0,1010.9 L338.0,1002.2 L342.0,993.3 L346.0,984.5 L350.0,976.1 L354.0,968.0 L358.0,960.1 L362.0,952.3 L366.0,944.7 L370.0,937.4 L374.0,930.4 L378.0,923.6 L382.0,916.7 L386.0,910.0 L390.0,903.3 L394.0,896.8 L398.0,890.5 L402.0,884.2 L406.0,877.8 L410.0,871.5 L414.0,865.3 L418.0,859.5 L422.0,854.0 L426.0,848.9 L430.0,844.0 L434.0,839.3 L438.0,834.8 L442.0,830.6 L446.0,826.5 L450.0,822.6 L454.0,818.8 L458.0,815.3 L462.0,811.9 L466.0,808.7 L470.0,805.7 L474.0,802.8 L478.0,800.0 L482.0,797.2 L486.0,794.5 L490.0,791.8 L494.0,789.2 L498.0,786.7 L502.0,784.4 L506.0,782.1 L510.0,779.9 L514.0,777.7 L518.0,775.6 L522.0,773.5 L526.0,771.4 L530.0,769.4 L534.0,767.4 L538.0,765.4 L542.0,763.5 L546.0,761.7 L550.0,759.8 L554.0,758.1 L558.0,756.3 L562.0,754.6 L566.0,753.0 L570.0,751.4 L574.0,749.8 L578.0,748.3 L582.0,746.7 L586.0,745.1 L590.0,743.5 L594.0,741.8 L598.0,740.2 L602.0,738.6 L606.0,737.0 L610.0,735.4 L614.0,733.8 L618.0,732.3 L622.0,730.7 L626.0,729.1 L630.0,727.5 L634.0,725.9 L638.0,724.3 L642.0,722.7 L646.0,721.1 L650.0,719.5 L654.0,717.8 L658.0,716.2 L662.0,714.6 L666.0,713.0 L670.0,711.4 L674.0,709.8 L678.0,708.2 L682.0,706.7 L686.0,705.2 L690.0,703.8 L694.0,702.3 L698.0,700.8 L702.0,699.1 L706.0,697.3 L710.0,695.3 L714.0,693.3 L718.0,691.2 L722.0,689.2 L726.0,687.2 L730.0,685.4 L734.0,683.6 L738.0,681.9 L742.0,680.2 L746.0,678.5 L750.0,676.8 L754.0,675.1 L758.0,673.3 L762.0,671.5 L766.0,669.7 L770.0,667.9 L774.0,666.0 L778.0,664.1 L782.0,662.2 L786.0,660.3 L790.0,658.3 L794.0,656.2 L798.0,654.2 L802.0,652.0 L806.0,649.7 L810.0,647.2 L814.0,644.3 L818.0,641.2 L822.0,637.8 L826.0,634.2 L830.0,630.4 L834.0,626.3 L838.0,622.0 L842.0,618.0 L846.0,614.3 L850.0,610.6 L854.0,607.2 L858.0,604.2 L862.0,601.9 L866.0,599.8 L870.0,598.0 L874.0,596.6 L878.0,595.9 L882.0,595.5 L886.0,595.1 L890.0,594.9 L894.0,594.8 L898.0,594.9 L902.0,595.0 L906.0,595.3 L910.0,595.6 L914.0,595.9 L918.0,596.3 L922.0,596.6 L926.0,596.9 L930.0,597.3 L934.0,597.6 L938.0,598.0 L942.0,598.4 L946.0,598.9 L950.0,599.3 L954.0,599.7 L958.0,600.0 L962.0,600.4 L966.0,600.7 L970.0,601.0 L974.0,601.3 L978.0,601.5 L982.0,601.8 L986.0,602.1 L990.0,602.4 L994.0,602.7 L998.0,603.0 L1002.0,603.3 L1006.0,603.6 L1010.0,604.0 L1014.0,604.3 L1018.0,604.6 L1022.0,604.9 L1026.0,605.2 L1030.0,605.5 L1034.0,605.7 L1038.0,605.9 L1042.0,606.0 L1046.0,606.1 L1050.0,606.2 L1054.0,606.3 L1058.0,606.4 L1062.0,606.4 L1066.0,606.5 L1070.0,606.6 L1074.0,606.6 L1078.0,606.7 L1082.0,606.8 L1086.0,606.8 L1090.0,606.9 L1094.0,606.9 L1098.0,607.0 L1102.0,607.0 L1106.0,607.1 L1110.0,607.1 L1114.0,607.2 L1118.0,607.3 L1122.0,607.3 L1126.0,607.4 L1130.0,607.5 L1134.0,607.6 L1138.0,607.7 L1142.0,607.8 L1146.0,607.9 L1150.0,608.0 L1154.0,608.2 L1158.0,608.3 L1162.0,608.5 L1166.0,608.7 L1170.0,608.9 L1174.0,609.1 L1178.0,609.3 L1182.0,609.5 L1186.0,609.7 L1190.0,609.9 L1194.0,610.2 L1198.0,610.4 L1202.0,610.6 L1206.0,610.9 L1210.0,611.1 L1214.0,611.4 L1218.0,611.6 L1222.0,611.9 L1226.0,612.2 L1230.0,612.6 L1234.0,612.9 L1238.0,613.2 L1242.0,613.6 L1246.0,613.9 L1250.0,614.3 L1254.0,614.6 L1258.0,614.9 L1262.0,615.3 L1266.0,615.6 L1270.0,615.9 L1274.0,616.2 L1278.0,616.5 L1282.0,616.9 L1286.0,617.2 L1290.0,617.6 L1294.0,617.9 L1298.0,618.2 L1302.0,618.6 L1306.0,618.9 L1310.0,619.3 L1314.0,619.6 L1318.0,619.9 L1322.0,620.2 L1326.0,620.4 L1330.0,620.7 L1334.0,620.9 L1338.0,621.0 L1342.0,621.2 L1346.0,621.3 L1350.0,621.4 L1354.0,621.5 L1358.0,621.5 L1362.0,621.6 L1366.0,621.6 L1370.0,621.7 L1374.0,621.7 L1378.0,621.7 L1382.0,621.7 L1386.0,621.7 L1390.0,621.6 L1394.0,621.5 L1398.0,621.4 L1402.0,621.3 L1406.0,621.0 L1410.0,620.6 L1414.0,620.0 L1418.0,619.5 L1422.0,618.9 L1426.0,618.2 L1430.0,617.4 L1434.0,616.6 L1438.0,615.8 L1442.0,614.8 L1446.0,613.6 L1450.0,612.2 L1454.0,610.6 L1458.0,608.9 L1462.0,606.7 L1466.0,604.1 L1470.0,601.5 L1474.0,598.9 L1478.0,596.3 L1482.0,593.7 L1486.0,591.2 L1490.0,588.5 L1494.0,585.8 L1498.0,583.0 L1502.0,580.2 L1506.0,577.2 L1510.0,574.1 L1514.0,570.8 L1518.0,567.5 L1522.0,563.9 L1526.0,560.3 L1530.0,556.6 L1534.0,552.9 L1538.0,549.1 L1542.0,545.4 L1546.0,541.6 L1550.0,537.8 L1554.0,533.9 L1558.0,530.0 L1562.0,526.0 L1566.0,521.9 L1570.0,517.7 L1574.0,513.4 L1578.0,509.0 L1582.0,504.4 L1586.0,499.7 L1590.0,494.8 L1594.0,489.9 L1598.0,484.8 L1602.0,479.7 L1606.0,474.6 L1610.0,469.4 L1614.0,464.1 L1618.0,458.8 L1622.0,453.3 L1626.0,447.8 L1630.0,442.2 L1634.0,436.5 L1638.0,430.8 L1642.0,425.0 L1646.0,419.0 L1650.0,413.0 L1654.0,406.8 L1658.0,400.5 L1662.0,394.2 L1666.0,387.9 L1670.0,381.6 L1674.0,375.3 L1678.0,369.0 L1682.0,362.8 L1686.0,356.6 L1690.0,350.3 L1694.0,344.1 L1698.0,337.8 L1700.0,334.6 L1701.0,333.0 L1702.0,331.4 L1703.0,329.8 L1704.0,328.2 L1705.0,326.5 L1706.0,324.9 L1707.0,323.3 L1708.0,321.7 L1709.0,320.0 L1710.0,318.4 L1711.0,316.7 L1712.0,315.0 L1713.0,313.3 L1714.0,311.7 L1715.0,310.0 L1716.0,308.3 L1717.0,306.6 L1718.0,304.8 L1719.0,303.1 L1720.0,301.4 L1721.0,299.6 L1722.0,297.9 L1723.0,296.2 L1724.0,294.4 L1725.0,292.7 L1726.0,290.9 L1727.0,289.2 L1728.0,287.4 L1729.0,285.6 L1730.0,283.9 L1731.0,282.1 L1732.0,280.4 L1733.0,278.6 L1734.0,276.8 L1735.0,275.1 L1736.0,273.3 L1737.0,271.5 L1738.0,269.8 L1739.0,268.0 L1740.0,266.3 L1741.0,264.5 L1742.0,262.7 L1743.0,261.0 L1744.0,259.2 L1745.0,257.5 L1746.0,255.7 L1747.0,254.0 L1748.0,252.3 L1749.0,250.5 L1750.0,248.8 L1751.0,247.1 L1752.0,245.4 L1753.0,243.6 L1754.0,241.9 L1755.0,240.2 L1756.0,238.5 L1757.0,236.7 L1758.0,235.0 L1759.0,233.2 L1760.0,231.5 L1761.0,229.8 L1762.0,228.0 L1763.0,226.3 L1764.0,224.5 L1765.0,222.8 L1766.0,221.0 L1767.0,219.3 L1768.0,217.6 L1769.0,215.9 L1770.0,214.2 L1771.0,212.5 L1772.0,210.8 L1773.0,209.2 L1774.0,207.5 L1775.0,205.9 L1776.0,204.3 L1777.0,202.7 L1778.0,201.1 L1779.0,199.6 L1780.0,198.1 L1781.0,196.6 L1782.0,195.1 L1783.0,193.6 L1784.0,192.1 L1785.0,190.7 L1786.0,189.2 L1787.0,187.8 L1788.0,186.4 L1789.0,185.0 L1790.0,183.6 L1791.0,182.2 L1792.0,180.8 L1793.0,179.5 L1794.0,178.1 L1795.0,176.8 L1795.0,176.8 L1794.0,186.1 L1793.0,195.1 L1792.0,203.5 L1791.0,211.5 L1790.0,219.1 L1789.0,226.5 L1788.0,233.7 L1787.0,240.9 L1786.0,248.1 L1785.0,255.6 L1784.0,263.3 L1783.0,271.2 L1782.0,279.3 L1781.0,287.5 L1780.0,295.8 L1779.0,304.2 L1778.0,312.8 L1777.0,321.5 L1776.0,330.3 L1775.0,338.9 L1774.0,347.2 L1773.0,354.9 L1772.0,361.8 L1771.0,368.2 L1770.0,374.3 L1769.0,380.3 L1768.0,386.0 L1767.0,391.5 L1766.0,396.8 L1765.0,401.9 L1764.0,406.8 L1763.0,411.7 L1762.0,416.5 L1761.0,421.3 L1760.0,426.1 L1759.0,430.9 L1758.0,435.8 L1757.0,440.8 L1756.0,445.7 L1755.0,450.5 L1754.0,455.3 L1753.0,460.0 L1752.0,464.6 L1751.0,469.0 L1750.0,473.2 L1749.0,477.2 L1748.0,481.1 L1747.0,485.0 L1746.0,488.7 L1745.0,492.4 L1744.0,496.0 L1743.0,499.5 L1742.0,502.9 L1741.0,506.2 L1740.0,509.5 L1739.0,512.7 L1738.0,515.8 L1737.0,518.9 L1736.0,522.0 L1735.0,524.9 L1734.0,527.9 L1733.0,530.8 L1732.0,533.7 L1731.0,536.5 L1730.0,539.3 L1729.0,542.1 L1728.0,544.8 L1727.0,547.5 L1726.0,550.1 L1725.0,552.7 L1724.0,555.3 L1723.0,557.9 L1722.0,560.4 L1721.0,562.9 L1720.0,565.3 L1719.0,567.8 L1718.0,570.2 L1717.0,572.5 L1716.0,574.9 L1715.0,577.2 L1714.0,579.5 L1713.0,581.8 L1712.0,584.0 L1711.0,586.2 L1710.0,588.4 L1709.0,590.5 L1708.0,592.7 L1707.0,594.8 L1706.0,596.9 L1705.0,599.0 L1704.0,601.0 L1703.0,603.0 L1702.0,605.0 L1701.0,607.0 L1700.0,609.0 L1698.0,612.8 L1694.0,620.3 L1690.0,627.3 L1686.0,634.1 L1682.0,640.7 L1678.0,647.1 L1674.0,653.3 L1670.0,659.1 L1666.0,664.6 L1662.0,669.7 L1658.0,674.3 L1654.0,678.5 L1650.0,682.5 L1646.0,686.2 L1642.0,689.7 L1638.0,692.7 L1634.0,695.4 L1630.0,698.0 L1626.0,700.3 L1622.0,702.5 L1618.0,704.5 L1614.0,706.3 L1610.0,708.0 L1606.0,709.4 L1602.0,710.7 L1598.0,711.8 L1594.0,712.8 L1590.0,713.6 L1586.0,714.4 L1582.0,715.1 L1578.0,715.7 L1574.0,716.3 L1570.0,716.8 L1566.0,717.3 L1562.0,717.8 L1558.0,718.3 L1554.0,718.7 L1550.0,719.0 L1546.0,719.2 L1542.0,719.3 L1538.0,719.3 L1534.0,719.2 L1530.0,719.2 L1526.0,719.2 L1522.0,719.1 L1518.0,719.0 L1514.0,718.9 L1510.0,718.8 L1506.0,718.8 L1502.0,718.6 L1498.0,718.5 L1494.0,718.3 L1490.0,718.1 L1486.0,717.9 L1482.0,717.7 L1478.0,717.5 L1474.0,717.4 L1470.0,717.2 L1466.0,717.0 L1462.0,716.8 L1458.0,716.5 L1454.0,716.3 L1450.0,716.1 L1446.0,715.9 L1442.0,715.7 L1438.0,715.5 L1434.0,715.3 L1430.0,715.1 L1426.0,715.0 L1422.0,714.8 L1418.0,714.7 L1414.0,714.6 L1410.0,714.5 L1406.0,714.5 L1402.0,714.4 L1398.0,714.4 L1394.0,714.4 L1390.0,714.4 L1386.0,714.4 L1382.0,714.4 L1378.0,714.5 L1374.0,714.5 L1370.0,714.6 L1366.0,714.6 L1362.0,714.7 L1358.0,714.8 L1354.0,714.9 L1350.0,715.0 L1346.0,715.1 L1342.0,715.2 L1338.0,715.3 L1334.0,715.4 L1330.0,715.5 L1326.0,715.6 L1322.0,715.7 L1318.0,715.9 L1314.0,716.0 L1310.0,716.1 L1306.0,716.3 L1302.0,716.4 L1298.0,716.6 L1294.0,716.8 L1290.0,717.0 L1286.0,717.2 L1282.0,717.4 L1278.0,717.6 L1274.0,717.9 L1270.0,718.1 L1266.0,718.4 L1262.0,718.7 L1258.0,718.9 L1254.0,719.2 L1250.0,719.5 L1246.0,719.8 L1242.0,720.1 L1238.0,720.4 L1234.0,720.7 L1230.0,721.0 L1226.0,721.3 L1222.0,721.7 L1218.0,722.0 L1214.0,722.3 L1210.0,722.7 L1206.0,723.1 L1202.0,723.5 L1198.0,723.8 L1194.0,724.2 L1190.0,724.7 L1186.0,725.1 L1182.0,725.5 L1178.0,726.0 L1174.0,726.5 L1170.0,726.9 L1166.0,727.5 L1162.0,728.0 L1158.0,728.6 L1154.0,729.2 L1150.0,729.8 L1146.0,730.4 L1142.0,731.1 L1138.0,731.7 L1134.0,732.4 L1130.0,733.1 L1126.0,733.8 L1122.0,734.5 L1118.0,735.2 L1114.0,735.9 L1110.0,736.6 L1106.0,737.4 L1102.0,738.1 L1098.0,738.9 L1094.0,739.6 L1090.0,740.4 L1086.0,741.2 L1082.0,742.0 L1078.0,742.9 L1074.0,743.7 L1070.0,744.5 L1066.0,745.4 L1062.0,746.2 L1058.0,747.1 L1054.0,747.9 L1050.0,748.7 L1046.0,749.5 L1042.0,750.3 L1038.0,751.1 L1034.0,751.9 L1030.0,752.6 L1026.0,753.4 L1022.0,754.1 L1018.0,754.8 L1014.0,755.6 L1010.0,756.3 L1006.0,757.1 L1002.0,757.9 L998.0,758.7 L994.0,759.6 L990.0,760.5 L986.0,761.4 L982.0,762.4 L978.0,763.4 L974.0,764.4 L970.0,765.5 L966.0,766.7 L962.0,767.9 L958.0,769.2 L954.0,770.6 L950.0,772.1 L946.0,773.7 L942.0,775.4 L938.0,777.1 L934.0,778.8 L930.0,780.6 L926.0,782.2 L922.0,783.9 L918.0,785.6 L914.0,787.3 L910.0,789.1 L906.0,790.8 L902.0,792.5 L898.0,794.2 L894.0,795.9 L890.0,797.6 L886.0,799.4 L882.0,801.1 L878.0,802.8 L874.0,804.5 L870.0,806.1 L866.0,807.8 L862.0,809.4 L858.0,811.0 L854.0,812.6 L850.0,814.2 L846.0,815.7 L842.0,817.2 L838.0,818.7 L834.0,820.2 L830.0,821.7 L826.0,823.2 L822.0,824.7 L818.0,826.2 L814.0,827.6 L810.0,829.1 L806.0,830.6 L802.0,832.0 L798.0,833.5 L794.0,835.0 L790.0,836.5 L786.0,838.0 L782.0,839.6 L778.0,841.1 L774.0,842.7 L770.0,844.2 L766.0,845.7 L762.0,847.2 L758.0,848.7 L754.0,850.1 L750.0,851.5 L746.0,852.8 L742.0,854.2 L738.0,855.5 L734.0,856.8 L730.0,858.2 L726.0,859.5 L722.0,860.8 L718.0,862.2 L714.0,863.5 L710.0,864.8 L706.0,866.1 L702.0,867.5 L698.0,868.7 L694.0,870.0 L690.0,871.3 L686.0,872.5 L682.0,873.8 L678.0,875.2 L674.0,876.5 L670.0,877.9 L666.0,879.4 L662.0,880.8 L658.0,882.2 L654.0,883.6 L650.0,885.1 L646.0,886.5 L642.0,888.0 L638.0,889.5 L634.0,891.0 L630.0,892.6 L626.0,894.1 L622.0,895.5 L618.0,896.8 L614.0,898.0 L610.0,899.4 L606.0,901.0 L602.0,902.3 L598.0,903.1 L594.0,903.8 L590.0,904.4 L586.0,905.0 L582.0,905.4 L578.0,905.7 L574.0,905.9 L570.0,906.1 L566.0,906.3 L562.0,906.6 L558.0,906.9 L554.0,907.2 L550.0,907.6 L546.0,908.1 L542.0,908.6 L538.0,909.1 L534.0,909.8 L530.0,910.5 L526.0,911.3 L522.0,912.1 L518.0,913.0 L514.0,913.9 L510.0,914.9 L506.0,915.9 L502.0,917.1 L498.0,918.4 L494.0,919.9 L490.0,921.6 L486.0,923.4 L482.0,925.3 L478.0,927.2 L474.0,929.2 L470.0,931.3 L466.0,933.5 L462.0,935.7 L458.0,938.0 L454.0,940.4 L450.0,943.0 L446.0,945.6 L442.0,948.2 L438.0,951.0 L434.0,953.9 L430.0,956.8 L426.0,959.9 L422.0,963.0 L418.0,966.2 L414.0,969.4 L410.0,972.7 L406.0,976.1 L402.0,979.6 L398.0,983.1 L394.0,986.7 L390.0,990.4 L386.0,994.2 L382.0,998.1 L378.0,1002.1 L374.0,1006.3 L370.0,1010.6 L366.0,1015.1 L362.0,1019.8 L358.0,1024.7 L354.0,1029.9 L350.0,1035.4 L346.0,1041.0 L342.0,1046.9 L338.0,1053.0 L334.0,1059.5 L330.0,1066.6 L329.0,1068.5 L328.0,1070.4 L327.0,1072.3 L326.0,1074.3 L325.0,1076.3 L324.0,1078.3 L323.0,1080.4 L322.0,1082.4 L321.0,1084.6 L320.0,1086.8 L319.0,1089.0 L318.0,1091.2 L317.0,1093.5 L316.0,1095.7 L315.0,1098.0 L314.0,1100.2 L313.0,1102.4 L312.0,1104.6 L311.0,1106.8 L310.0,1109.0 L309.0,1111.2 L308.0,1113.5 L307.0,1115.7 L306.0,1117.9 L304.8,1120.5" fill="none" stroke="#0000ff" stroke-width="7.5" stroke-linejoin="round" stroke-linecap="round" />
<path d="M304.8,1120.5 L306.0,1111.9 L307.0,1105.6 L308.0,1100.1 L309.0,1095.1 L310.0,1090.2 L311.0,1085.4 L312.0,1080.7 L313.0,1076.4 L314.0,1072.3 L315.0,1068.3 L316.0,1064.5 L317.0,1060.7 L318.0,1056.9 L319.0,1053.3 L320.0,1049.7 L321.0,1046.2 L322.0,1042.9 L323.0,1039.8 L324.0,1036.8 L325.0,1034.0 L326.0,1031.2 L327.0,1028.5 L328.0,1025.9 L329.0,1023.4 L330.0,1020.9 L334.0,1011.7 L338.0,1003.0 L342.0,994.1 L346.0,985.3 L350.0,976.9 L354.0,968.8 L358.0,960.9 L362.0,953.1 L366.0,945.5 L370.0,938.1 L374.0,931.1 L378.0,924.3 L382.0,917.5 L386.0,910.7 L390.0,904.0 L394.0,897.5 L398.0,891.2 L402.0,884.9 L406.0,878.5 L410.0,872.2 L414.0,866.0 L418.0,860.1 L422.0,854.7 L426.0,849.5 L430.0,844.6 L434.0,839.9 L438.0,835.5 L442.0,831.2 L446.0,827.1 L450.0,823.1 L454.0,819.4 L458.0,815.8 L462.0,812.5 L466.0,809.3 L470.0,806.3 L474.0,803.4 L478.0,800.5 L482.0,797.7 L486.0,795.0 L490.0,792.3 L494.0,789.8 L498.0,787.3 L502.0,784.9 L506.0,782.6 L510.0,780.4 L514.0,778.2 L518.0,776.1 L522.0,774.0 L526.0,771.9 L530.0,769.9 L534.0,767.9 L538.0,765.9 L542.0,764.0 L546.0,762.2 L550.0,760.3 L554.0,758.5 L558.0,756.8 L562.0,755.1 L566.0,753.5 L570.0,751.9 L574.0,750.3 L578.0,748.7 L582.0,747.2 L586.0,745.5 L590.0,743.9 L594.0,742.3 L598.0,740.7 L602.0,739.1 L606.0,737.5 L610.0,735.9 L614.0,734.3 L618.0,732.7 L622.0,731.1 L626.0,729.5 L630.0,728.0 L634.0,726.4 L638.0,724.8 L642.0,723.2 L646.0,721.6 L650.0,719.9 L654.0,718.3 L658.0,716.7 L662.0,715.1 L666.0,713.5 L670.0,711.9 L674.0,710.3 L678.0,708.7 L682.0,707.1 L686.0,705.7 L690.0,704.2 L694.0,702.8 L698.0,701.3 L702.0,699.6 L706.0,697.8 L710.0,695.8 L714.0,693.8 L718.0,691.7 L722.0,689.7 L726.0,687.7 L730.0,685.9 L734.0,684.1 L738.0,682.4 L742.0,680.7 L746.0,679.0 L750.0,677.3 L754.0,675.5 L758.0,673.8 L762.0,672.0 L766.0,670.2 L770.0,668.3 L774.0,666.5 L778.0,664.6 L782.0,662.7 L786.0,660.8 L790.0,658.8 L794.0,656.7 L798.0,654.6 L802.0,652.5 L806.0,650.2 L810.0,647.7 L814.0,644.9 L818.0,641.7 L822.0,638.3 L826.0,634.8 L830.0,631.1 L834.0,627.0 L838.0,622.9 L842.0,619.0 L846.0,615.4 L850.0,611.8 L854.0,608.4 L858.0,605.6 L862.0,603.3 L866.0,601.3 L870.0,599.5 L874.0,598.2 L878.0,597.6 L882.0,597.1 L886.0,596.8 L890.0,596.5 L894.0,596.5 L898.0,596.6 L902.0,596.7 L906.0,597.0 L910.0,597.3 L914.0,597.6 L918.0,598.0 L922.0,598.3 L926.0,598.7 L930.0,599.0 L934.0,599.4 L938.0,599.8 L942.0,600.2 L946.0,600.6 L950.0,601.1 L954.0,601.5 L958.0,601.8 L962.0,602.2 L966.0,602.5 L970.0,602.8 L974.0,603.1 L978.0,603.4 L982.0,603.7 L986.0,604.0 L990.0,604.3 L994.0,604.6 L998.0,604.9 L1002.0,605.3 L1006.0,605.7 L1010.0,606.0 L1014.0,606.4 L1018.0,606.7 L1022.0,607.1 L1026.0,607.4 L1030.0,607.7 L1034.0,607.9 L1038.0,608.1 L1042.0,608.2 L1046.0,608.3 L1050.0,608.4 L1054.0,608.4 L1058.0,608.5 L1062.0,608.6 L1066.0,608.7 L1070.0,608.7 L1074.0,608.8 L1078.0,608.8 L1082.0,608.9 L1086.0,608.9 L1090.0,609.0 L1094.0,609.0 L1098.0,609.0 L1102.0,609.1 L1106.0,609.1 L1110.0,609.2 L1114.0,609.2 L1118.0,609.3 L1122.0,609.4 L1126.0,609.4 L1130.0,609.5 L1134.0,609.6 L1138.0,609.7 L1142.0,609.8 L1146.0,609.9 L1150.0,610.0 L1154.0,610.1 L1158.0,610.3 L1162.0,610.5 L1166.0,610.6 L1170.0,610.8 L1174.0,611.0 L1178.0,611.2 L1182.0,611.4 L1186.0,611.6 L1190.0,611.8 L1194.0,612.0 L1198.0,612.2 L1202.0,612.5 L1206.0,612.7 L1210.0,612.9 L1214.0,613.2 L1218.0,613.4 L1222.0,613.7 L1226.0,614.0 L1230.0,614.3 L1234.0,614.6 L1238.0,614.9 L1242.0,615.2 L1246.0,615.5 L1250.0,615.8 L1254.0,616.1 L1258.0,616.4 L1262.0,616.7 L1266.0,617.0 L1270.0,617.3 L1274.0,617.6 L1278.0,617.9 L1282.0,618.2 L1286.0,618.5 L1290.0,618.8 L1294.0,619.1 L1298.0,619.4 L1302.0,619.7 L1306.0,620.0 L1310.0,620.3 L1314.0,620.6 L1318.0,620.8 L1322.0,621.1 L1326.0,621.3 L1330.0,621.5 L1334.0,621.7 L1338.0,621.8 L1342.0,621.9 L1346.0,622.0 L1350.0,622.1 L1354.0,622.1 L1358.0,622.1 L1362.0,622.1 L1366.0,622.1 L1370.0,622.1 L1374.0,622.1 L1378.0,622.1 L1382.0,622.0 L1386.0,621.9 L1390.0,621.7 L1394.0,621.5 L1398.0,621.3 L1402.0,620.9 L1406.0,620.4 L1410.0,619.8 L1414.0,619.2 L1418.0,618.5 L1422.0,617.8 L1426.0,617.0 L1430.0,616.2 L1434.0,615.3 L1438.0,614.2 L1442.0,613.1 L1446.0,611.6 L1450.0,609.9 L1454.0,607.9 L1458.0,605.8 L1462.0,603.1 L1466.0,600.1 L1470.0,596.9 L1474.0,593.9 L1478.0,590.9 L1482.0,588.0 L1486.0,585.1 L1490.0,582.1 L1494.0,579.0 L1498.0,575.9 L1502.0,572.7 L1506.0,569.4 L1510.0,566.0 L1514.0,562.4 L1518.0,558.7 L1522.0,554.8 L1526.0,550.8 L1530.0,546.8 L1534.0,542.7 L1538.0,538.6 L1542.0,534.6 L1546.0,530.5 L1550.0,526.4 L1554.0,522.2 L1558.0,518.0 L1562.0,513.7 L1566.0,509.4 L1570.0,505.0 L1574.0,500.4 L1578.0,495.8 L1582.0,491.0 L1586.0,486.0 L1590.0,481.0 L1594.0,475.9 L1598.0,470.7 L1602.0,465.5 L1606.0,460.2 L1610.0,454.8 L1614.0,449.5 L1618.0,444.0 L1622.0,438.5 L1626.0,432.9 L1630.0,427.2 L1634.0,421.4 L1638.0,415.5 L1642.0,409.5 L1646.0,403.4 L1650.0,397.1 L1654.0,390.6 L1658.0,384.1 L1662.0,377.5 L1666.0,370.8 L1670.0,364.2 L1674.0,357.6 L1678.0,351.0 L1682.0,344.5 L1686.0,338.0 L1690.0,331.4 L1694.0,324.9 L1698.0,318.2 L1700.0,314.9 L1701.0,313.2 L1702.0,311.5 L1703.0,309.8 L1704.0,308.1 L1705.0,306.4 L1706.0,304.7 L1707.0,303.0 L1708.0,301.2 L1709.0,299.5 L1710.0,297.7 L1711.0,296.0 L1712.0,294.2 L1713.0,292.4 L1714.0,290.6 L1715.0,288.8 L1716.0,287.0 L1717.0,285.2 L1718.0,283.4 L1719.0,281.5 L1720.0,279.7 L1721.0,277.8 L1722.0,275.9 L1723.0,274.1 L1724.0,272.2 L1725.0,270.3 L1726.0,268.4 L1727.0,266.6 L1728.0,264.7 L1729.0,262.8 L1730.0,260.9 L1731.0,259.0 L1732.0,257.1 L1733.0,255.2 L1734.0,253.3 L1735.0,251.4 L1736.0,249.5 L1737.0,247.6 L1738.0,245.7 L1739.0,243.8 L1740.0,241.9 L1741.0,240.0 L1742.0,238.1 L1743.0,236.2 L1744.0,234.4 L1745.0,232.5 L1746.0,230.6 L1747.0,228.7 L1748.0,226.9 L1749.0,225.0 L1750.0,223.2 L1751.0,221.3 L1752.0,219.5 L1753.0,217.7 L1754.0,215.8 L1755.0,214.0 L1756.0,212.1 L1757.0,210.3 L1758.0,208.4 L1759.0,206.5 L1760.0,204.7 L1761.0,202.8 L1762.0,200.9 L1763.0,199.0 L1764.0,197.2 L1765.0,195.3 L1766.0,193.4 L1767.0,191.6 L1768.0,189.8 L1769.0,187.9 L1770.0,186.1 L1771.0,184.3 L1772.0,182.6 L1773.0,180.8 L1774.0,179.1 L1775.0,177.3 L1776.0,175.7 L1777.0,174.0 L1778.0,172.4 L1779.0,170.7 L1780.0,169.2 L1781.0,167.6 L1782.0,166.1 L1783.0,164.6 L1784.0,163.0 L1785.0,161.6 L1786.0,160.1 L1787.0,158.6 L1788.0,157.2 L1789.0,155.8 L1790.0,154.4 L1791.0,153.0 L1792.0,151.7 L1793.0,150.3 L1794.0,149.0 L1795.0,147.7 L1795.0,147.7 L1794.0,157.5 L1793.0,166.8 L1792.0,175.6 L1791.0,183.8 L1790.0,191.7 L1789.0,199.4 L1788.0,207.0 L1787.0,214.8 L1786.0,222.8 L1785.0,231.2 L1784.0,240.1 L1783.0,249.2 L1782.0,258.4 L1781.0,267.7 L1780.0,276.8 L1779.0,285.8 L1778.0,294.5 L1777.0,303.2 L1776.0,311.9 L1775.0,320.3 L1774.0,328.4 L1773.0,335.9 L1772.0,342.8 L1771.0,349.3 L1770.0,355.5 L1769.0,361.6 L1768.0,367.4 L1767.0,373.0 L1766.0,378.3 L1765.0,383.5 L1764.0,388.5 L1763.0,393.5 L1762.0,398.4 L1761.0,403.3 L1760.0,408.3 L1759.0,413.4 L1758.0,418.6 L1757.0,423.9 L1756.0,429.1 L1755.0,434.3 L1754.0,439.5 L1753.0,444.5 L1752.0,449.4 L1751.0,454.0 L1750.0,458.4 L1749.0,462.7 L1748.0,466.8 L1747.0,470.8 L1746.0,474.7 L1745.0,478.5 L1744.0,482.3 L1743.0,485.9 L1742.0,489.5 L1741.0,493.0 L1740.0,496.4 L1739.0,499.8 L1738.0,503.1 L1737.0,506.3 L1736.0,509.5 L1735.0,512.6 L1734.0,515.7 L1733.0,518.8 L1732.0,521.8 L1731.0,524.9 L1730.0,527.8 L1729.0,530.8 L1728.0,533.7 L1727.0,536.5 L1726.0,539.3 L1725.0,542.1 L1724.0,544.9 L1723.0,547.6 L1722.0,550.3 L1721.0,552.9 L1720.0,555.6 L1719.0,558.2 L1718.0,560.7 L1717.0,563.2 L1716.0,565.7 L1715.0,568.2 L1714.0,570.6 L1713.0,573.0 L1712.0,575.4 L1711.0,577.8 L1710.0,580.1 L1709.0,582.4 L1708.0,584.6 L1707.0,586.9 L1706.0,589.1 L1705.0,591.3 L1704.0,593.5 L1703.0,595.6 L1702.0,597.7 L1701.0,599.8 L1700.0,601.9 L1698.0,606.0 L1694.0,613.9 L1690.0,621.5 L1686.0,628.7 L1682.0,635.7 L1678.0,642.4 L1674.0,649.0 L1670.0,655.2 L1666.0,661.1 L1662.0,666.5 L1658.0,671.6 L1654.0,676.2 L1650.0,680.6 L1646.0,684.8 L1642.0,688.7 L1638.0,692.1 L1634.0,695.1 L1630.0,697.9 L1626.0,700.5 L1622.0,702.9 L1618.0,705.2 L1614.0,707.2 L1610.0,708.9 L1606.0,710.4 L1602.0,711.8 L1598.0,713.0 L1594.0,714.1 L1590.0,715.1 L1586.0,715.9 L1582.0,716.7 L1578.0,717.4 L1574.0,718.0 L1570.0,718.6 L1566.0,719.2 L1562.0,719.8 L1558.0,720.3 L1554.0,720.8 L1550.0,721.1 L1546.0,721.4 L1542.0,721.5 L1538.0,721.5 L1534.0,721.4 L1530.0,721.4 L1526.0,721.3 L1522.0,721.2 L1518.0,721.1 L1514.0,721.0 L1510.0,720.9 L1506.0,720.8 L1502.0,720.6 L1498.0,720.4 L1494.0,720.2 L1490.0,719.9 L1486.0,719.7 L1482.0,719.4 L1478.0,719.1 L1474.0,718.9 L1470.0,718.6 L1466.0,718.4 L1462.0,718.1 L1458.0,717.8 L1454.0,717.5 L1450.0,717.2 L1446.0,716.9 L1442.0,716.6 L1438.0,716.3 L1434.0,716.0 L1430.0,715.8 L1426.0,715.6 L1422.0,715.3 L1418.0,715.2 L1414.0,715.0 L1410.0,714.9 L1406.0,714.8 L1402.0,714.7 L1398.0,714.7 L1394.0,714.6 L1390.0,714.6 L1386.0,714.6 L1382.0,714.6 L1378.0,714.6 L1374.0,714.6 L1370.0,714.7 L1366.0,714.7 L1362.0,714.8 L1358.0,714.9 L1354.0,714.9 L1350.0,715.0 L1346.0,715.1 L1342.0,715.2 L1338.0,715.3 L1334.0,715.4 L1330.0,715.5 L1326.0,715.7 L1322.0,715.8 L1318.0,715.9 L1314.0,716.1 L1310.0,716.2 L1306.0,716.3 L1302.0,716.5 L1298.0,716.7 L1294.0,716.9 L1290.0,717.1 L1286.0,717.3 L1282.0,717.5 L1278.0,717.7 L1274.0,718.0 L1270.0,718.2 L1266.0,718.5 L1262.0,718.8 L1258.0,719.0 L1254.0,719.3 L1250.0,719.6 L1246.0,719.9 L1242.0,720.2 L1238.0,720.5 L1234.0,720.8 L1230.0,721.1 L1226.0,721.4 L1222.0,721.7 L1218.0,722.1 L1214.0,722.4 L1210.0,722.8 L1206.0,723.2 L1202.0,723.5 L1198.0,723.9 L1194.0,724.3 L1190.0,724.8 L1186.0,725.2 L1182.0,725.6 L1178.0,726.1 L1174.0,726.5 L1170.0,727.0 L1166.0,727.5 L1162.0,728.1 L1158.0,728.7 L1154.0,729.2 L1150.0,729.9 L1146.0,730.5 L1142.0,731.1 L1138.0,731.8 L1134.0,732.5 L1130.0,733.2 L1126.0,733.9 L1122.0,734.6 L1118.0,735.3 L1114.0,736.0 L1110.0,736.7 L1106.0,737.4 L1102.0,738.2 L1098.0,738.9 L1094.0,739.7 L1090.0,740.5 L1086.0,741.3 L1082.0,742.1 L1078.0,743.0 L1074.0,743.8 L1070.0,744.6 L1066.0,745.5 L1062.0,746.3 L1058.0,747.1 L1054.0,748.0 L1050.0,748.8 L1046.0,749.6 L1042.0,750.4 L1038.0,751.2 L1034.0,752.0 L1030.0,752.7 L1026.0,753.5 L1022.0,754.2 L1018.0,754.9 L1014.0,755.7 L1010.0,756.4 L1006.0,757.2 L1002.0,758.0 L998.0,758.8 L994.0,759.7 L990.0,760.6 L986.0,761.5 L982.0,762.5 L978.0,763.5 L974.0,764.5 L970.0,765.6 L966.0,766.8 L962.0,768.0 L958.0,769.3 L954.0,770.7 L950.0,772.2 L946.0,773.8 L942.0,775.5 L938.0,777.2 L934.0,778.9 L930.0,780.6 L926.0,782.3 L922.0,784.0 L918.0,785.7 L914.0,787.4 L910.0,789.1 L906.0,790.9 L902.0,792.6 L898.0,794.3 L894.0,796.0 L890.0,797.7 L886.0,799.4 L882.0,801.1 L878.0,802.9 L874.0,804.5 L870.0,806.2 L866.0,807.9 L862.0,809.5 L858.0,811.1 L854.0,812.7 L850.0,814.2 L846.0,815.8 L842.0,817.3 L838.0,818.8 L834.0,820.3 L830.0,821.8 L826.0,823.3 L822.0,824.8 L818.0,826.2 L814.0,827.7 L810.0,829.2 L806.0,830.6 L802.0,832.1 L798.0,833.6 L794.0,835.1 L790.0,836.6 L786.0,838.1 L782.0,839.7 L778.0,841.2 L774.0,842.8 L770.0,844.3 L766.0,845.8 L762.0,847.3 L758.0,848.7 L754.0,850.2 L750.0,851.5 L746.0,852.9 L742.0,854.3 L738.0,855.6 L734.0,856.9 L730.0,858.3 L726.0,859.6 L722.0,860.9 L718.0,862.3 L714.0,863.6 L710.0,864.9 L706.0,866.2 L702.0,867.5 L698.0,868.8 L694.0,870.1 L690.0,871.4 L686.0,872.6 L682.0,873.9 L678.0,875.3 L674.0,876.6 L670.0,878.0 L666.0,879.5 L662.0,880.9 L658.0,882.3 L654.0,883.7 L650.0,885.2 L646.0,886.6 L642.0,888.1 L638.0,889.6 L634.0,891.1 L630.0,892.7 L626.0,894.2 L622.0,895.6 L618.0,896.9 L614.0,898.1 L610.0,899.5 L606.0,901.2 L602.0,902.5 L598.0,903.4 L594.0,904.2 L590.0,904.8 L586.0,905.4 L582.0,905.8 L578.0,906.2 L574.0,906.4 L570.0,906.7 L566.0,906.9 L562.0,907.2 L558.0,907.5 L554.0,907.9 L550.0,908.3 L546.0,908.8 L542.0,909.3 L538.0,909.9 L534.0,910.5 L530.0,911.3 L526.0,912.1 L522.0,913.0 L518.0,913.9 L514.0,914.8 L510.0,915.8 L506.0,916.9 L502.0,918.1 L498.0,919.4 L494.0,921.0 L490.0,922.7 L486.0,924.5 L482.0,926.4 L478.0,928.3 L474.0,930.4 L470.0,932.5 L466.0,934.7 L462.0,937.0 L458.0,939.3 L454.0,941.7 L450.0,944.2 L446.0,946.8 L442.0,949.5 L438.0,952.3 L434.0,955.2 L430.0,958.1 L426.0,961.2 L422.0,964.3 L418.0,967.4 L414.0,970.6 L410.0,973.9 L406.0,977.2 L402.0,980.7 L398.0,984.2 L394.0,987.7 L390.0,991.4 L386.0,995.1 L382.0,999.0 L378.0,1003.0 L374.0,1007.2 L370.0,1011.5 L366.0,1015.9 L362.0,1020.6 L358.0,1025.5 L354.0,1030.6 L350.0,1036.0 L346.0,1041.6 L342.0,1047.4 L338.0,1053.5 L334.0,1060.0 L330.0,1067.1 L329.0,1068.9 L328.0,1070.8 L327.0,1072.7 L326.0,1074.7 L325.0,1076.7 L324.0,1078.7 L323.0,1080.7 L322.0,1082.8 L321.0,1084.9 L320.0,1087.0 L319.0,1089.2 L318.0,1091.5 L317.0,1093.7 L316.0,1095.9 L315.0,1098.2 L314.0,1100.4 L313.0,1102.6 L312.0,1104.8 L311.0,1107.0 L310.0,1109.1 L309.0,1111.3 L308.0,1113.5 L307.0,1115.7 L306.0,1117.9 L304.8,1120.5" fill="none" stroke="#008080" stroke-width="7.5" stroke-linejoin="round" stroke-linecap="round" />
<path d="M304.8,1120.5 L306.0,1112.6 L307.0,1106.6 L308.0,1101.3 L309.0,1096.2 L310.0,1091.3 L311.0,1086.4 L312.0,1081.7 L313.0,1077.3 L314.0,1073.2 L315.0,1069.2 L316.0,1065.3 L317.0,1061.5 L318.0,1057.8 L319.0,1054.1 L320.0,1050.5 L321.0,1047.0 L322.0,1043.7 L323.0,1040.5 L324.0,1037.5 L325.0,1034.7 L326.0,1031.9 L327.0,1029.2 L328.0,1026.6 L329.0,1024.1 L330.0,1021.6 L334.0,1012.3 L338.0,1003.6 L342.0,994.8 L346.0,985.9 L350.0,977.5 L354.0,969.4 L358.0,961.5 L362.0,953.7 L366.0,946.0 L370.0,938.7 L374.0,931.7 L378.0,924.8 L382.0,918.0 L386.0,911.3 L390.0,904.6 L394.0,898.1 L398.0,891.7 L402.0,885.4 L406.0,879.1 L410.0,872.7 L414.0,866.5 L418.0,860.6 L422.0,855.2 L426.0,850.0 L430.0,845.1 L434.0,840.4 L438.0,835.9 L442.0,831.6 L446.0,827.5 L450.0,823.6 L454.0,819.8 L458.0,816.2 L462.0,812.9 L466.0,809.7 L470.0,806.7 L474.0,803.8 L478.0,800.9 L482.0,798.1 L486.0,795.4 L490.0,792.7 L494.0,790.1 L498.0,787.6 L502.0,785.2 L506.0,782.9 L510.0,780.7 L514.0,778.6 L518.0,776.5 L522.0,774.4 L526.0,772.3 L530.0,770.3 L534.0,768.3 L538.0,766.3 L542.0,764.4 L546.0,762.5 L550.0,760.7 L554.0,758.9 L558.0,757.1 L562.0,755.4 L566.0,753.8 L570.0,752.2 L574.0,750.7 L578.0,749.1 L582.0,747.5 L586.0,745.9 L590.0,744.3 L594.0,742.7 L598.0,741.1 L602.0,739.4 L606.0,737.9 L610.0,736.3 L614.0,734.7 L618.0,733.1 L622.0,731.5 L626.0,729.9 L630.0,728.3 L634.0,726.7 L638.0,725.1 L642.0,723.5 L646.0,721.9 L650.0,720.3 L654.0,718.7 L658.0,717.0 L662.0,715.4 L666.0,713.8 L670.0,712.2 L674.0,710.6 L678.0,709.0 L682.0,707.5 L686.0,706.0 L690.0,704.6 L694.0,703.2 L698.0,701.6 L702.0,700.0 L706.0,698.1 L710.0,696.2 L714.0,694.1 L718.0,692.1 L722.0,690.0 L726.0,688.1 L730.0,686.2 L734.0,684.5 L738.0,682.7 L742.0,681.0 L746.0,679.3 L750.0,677.6 L754.0,675.9 L758.0,674.1 L762.0,672.3 L766.0,670.5 L770.0,668.7 L774.0,666.9 L778.0,665.0 L782.0,663.1 L786.0,661.1 L790.0,659.2 L794.0,657.1 L798.0,655.0 L802.0,652.9 L806.0,650.6 L810.0,648.1 L814.0,645.3 L818.0,642.1 L822.0,638.7 L826.0,635.2 L830.0,631.5 L834.0,627.5 L838.0,623.5 L842.0,619.7 L846.0,616.1 L850.0,612.7 L854.0,609.4 L858.0,606.6 L862.0,604.4 L866.0,602.4 L870.0,600.7 L874.0,599.4 L878.0,598.8 L882.0,598.3 L886.0,598.0 L890.0,597.8 L894.0,597.7 L898.0,597.8 L902.0,598.0 L906.0,598.2 L910.0,598.6 L914.0,598.9 L918.0,599.3 L922.0,599.7 L926.0,600.0 L930.0,600.3 L934.0,600.7 L938.0,601.1 L942.0,601.6 L946.0,602.0 L950.0,602.4 L954.0,602.8 L958.0,603.2 L962.0,603.6 L966.0,603.9 L970.0,604.2 L974.0,604.5 L978.0,604.8 L982.0,605.2 L986.0,605.5 L990.0,605.8 L994.0,606.1 L998.0,606.4 L1002.0,606.8 L1006.0,607.2 L1010.0,607.6 L1014.0,608.0 L1018.0,608.3 L1022.0,608.7 L1026.0,609.0 L1030.0,609.3 L1034.0,609.5 L1038.0,609.7 L1042.0,609.8 L1046.0,609.9 L1050.0,610.0 L1054.0,610.1 L1058.0,610.1 L1062.0,610.2 L1066.0,610.3 L1070.0,610.3 L1074.0,610.4 L1078.0,610.4 L1082.0,610.4 L1086.0,610.5 L1090.0,610.5 L1094.0,610.6 L1098.0,610.6 L1102.0,610.6 L1106.0,610.7 L1110.0,610.7 L1114.0,610.8 L1118.0,610.8 L1122.0,610.9 L1126.0,611.0 L1130.0,611.0 L1134.0,611.1 L1138.0,611.2 L1142.0,611.3 L1146.0,611.4 L1150.0,611.5 L1154.0,611.6 L1158.0,611.8 L1162.0,611.9 L1166.0,612.1 L1170.0,612.3 L1174.0,612.4 L1178.0,612.6 L1182.0,612.8 L1186.0,613.0 L1190.0,613.2 L1194.0,613.4 L1198.0,613.6 L1202.0,613.8 L1206.0,614.0 L1210.0,614.3 L1214.0,614.5 L1218.0,614.7 L1222.0,615.0 L1226.0,615.3 L1230.0,615.5 L1234.0,615.8 L1238.0,616.1 L1242.0,616.4 L1246.0,616.7 L1250.0,617.0 L1254.0,617.3 L1258.0,617.5 L1262.0,617.8 L1266.0,618.1 L1270.0,618.3 L1274.0,618.6 L1278.0,618.9 L1282.0,619.1 L1286.0,619.4 L1290.0,619.7 L1294.0,620.0 L1298.0,620.2 L1302.0,620.5 L1306.0,620.8 L1310.0,621.0 L1314.0,621.3 L1318.0,621.5 L1322.0,621.7 L1326.0,621.9 L1330.0,622.1 L1334.0,622.3 L1338.0,622.4 L1342.0,622.5 L1346.0,622.5 L1350.0,622.5 L1354.0,622.6 L1358.0,622.5 L1362.0,622.5 L1366.0,622.5 L1370.0,622.5 L1374.0,622.4 L1378.0,622.3 L1382.0,622.2 L1386.0,622.0 L1390.0,621.8 L1394.0,621.6 L1398.0,621.2 L1402.0,620.7 L1406.0,620.0 L1410.0,619.3 L1414.0,618.5 L1418.0,617.8 L1422.0,617.0 L1426.0,616.2 L1430.0,615.2 L1434.0,614.2 L1438.0,613.1 L1442.0,611.8 L1446.0,610.1 L1450.0,608.1 L1454.0,605.9 L1458.0,603.4 L1462.0,600.4 L1466.0,597.1 L1470.0,593.5 L1474.0,590.2 L1478.0,586.9 L1482.0,583.7 L1486.0,580.5 L1490.0,577.2 L1494.0,574.0 L1498.0,570.6 L1502.0,567.2 L1506.0,563.6 L1510.0,559.9 L1514.0,556.1 L1518.0,552.1 L1522.0,547.9 L1526.0,543.7 L1530.0,539.4 L1534.0,535.1 L1538.0,530.8 L1542.0,526.5 L1546.0,522.2 L1550.0,517.8 L1554.0,513.5 L1558.0,509.0 L1562.0,504.6 L1566.0,500.0 L1570.0,495.4 L1574.0,490.7 L1578.0,485.8 L1582.0,480.9 L1586.0,475.8 L1590.0,470.7 L1594.0,465.4 L1598.0,460.1 L1602.0,454.8 L1606.0,449.4 L1610.0,443.9 L1614.0,438.5 L1618.0,433.0 L1622.0,427.4 L1626.0,421.7 L1630.0,415.9 L1634.0,410.1 L1638.0,404.1 L1642.0,398.0 L1646.0,391.7 L1650.0,385.2 L1654.0,378.5 L1658.0,371.7 L1662.0,364.9 L1666.0,358.0 L1670.0,351.1 L1674.0,344.3 L1678.0,337.5 L1682.0,330.7 L1686.0,324.0 L1690.0,317.2 L1694.0,310.4 L1698.0,303.6 L1700.0,300.1 L1701.0,298.3 L1702.0,296.6 L1703.0,294.8 L1704.0,293.1 L1705.0,291.3 L1706.0,289.5 L1707.0,287.7 L1708.0,285.9 L1709.0,284.1 L1710.0,282.3 L1711.0,280.4 L1712.0,278.6 L1713.0,276.7 L1714.0,274.9 L1715.0,273.0 L1716.0,271.1 L1717.0,269.2 L1718.0,267.2 L1719.0,265.3 L1720.0,263.4 L1721.0,261.4 L1722.0,259.5 L1723.0,257.5 L1724.0,255.5 L1725.0,253.6 L1726.0,251.6 L1727.0,249.6 L1728.0,247.6 L1729.0,245.6 L1730.0,243.6 L1731.0,241.6 L1732.0,239.6 L1733.0,237.7 L1734.0,235.7 L1735.0,233.7 L1736.0,231.7 L1737.0,229.7 L1738.0,227.7 L1739.0,225.7 L1740.0,223.7 L1741.0,221.7 L1742.0,219.7 L1743.0,217.7 L1744.0,215.7 L1745.0,213.7 L1746.0,211.8 L1747.0,209.8 L1748.0,207.9 L1749.0,205.9 L1750.0,204.0 L1751.0,202.0 L1752.0,200.1 L1753.0,198.2 L1754.0,196.3 L1755.0,194.3 L1756.0,192.4 L1757.0,190.4 L1758.0,188.5 L1759.0,186.5 L1760.0,184.5 L1761.0,182.5 L1762.0,180.6 L1763.0,178.6 L1764.0,176.6 L1765.0,174.7 L1766.0,172.7 L1767.0,170.8 L1768.0,168.9 L1769.0,167.0 L1770.0,165.1 L1771.0,163.2 L1772.0,161.3 L1773.0,159.5 L1774.0,157.7 L1775.0,155.9 L1776.0,154.2 L1777.0,152.5 L1778.0,150.8 L1779.0,149.1 L1780.0,147.5 L1781.0,145.9 L1782.0,144.3 L1783.0,142.8 L1784.0,141.3 L1785.0,139.7 L1786.0,138.3 L1787.0,136.8 L1788.0,135.4 L1789.0,133.9 L1790.0,132.5 L1791.0,131.2 L1792.0,129.8 L1793.0,128.5 L1794.0,127.1 L1795.0,125.8 L1795.0,125.8 L1794.0,136.0 L1793.0,145.6 L1792.0,154.6 L1791.0,163.0 L1790.0,171.1 L1789.0,179.1 L1788.0,187.0 L1787.0,195.2 L1786.0,203.8 L1785.0,213.0 L1784.0,222.7 L1783.0,232.7 L1782.0,242.8 L1781.0,252.8 L1780.0,262.6 L1779.0,272.0 L1778.0,280.8 L1777.0,289.5 L1776.0,298.1 L1775.0,306.4 L1774.0,314.3 L1773.0,321.7 L1772.0,328.6 L1771.0,335.1 L1770.0,341.4 L1769.0,347.5 L1768.0,353.4 L1767.0,359.0 L1766.0,364.4 L1765.0,369.7 L1764.0,374.8 L1763.0,379.8 L1762.0,384.8 L1761.0,389.9 L1760.0,395.0 L1759.0,400.3 L1758.0,405.7 L1757.0,411.2 L1756.0,416.7 L1755.0,422.2 L1754.0,427.6 L1753.0,432.8 L1752.0,437.9 L1751.0,442.8 L1750.0,447.4 L1749.0,451.7 L1748.0,456.0 L1747.0,460.2 L1746.0,464.2 L1745.0,468.2 L1744.0,472.0 L1743.0,475.8 L1742.0,479.5 L1741.0,483.1 L1740.0,486.6 L1739.0,490.1 L1738.0,493.5 L1737.0,496.8 L1736.0,500.1 L1735.0,503.4 L1734.0,506.6 L1733.0,509.8 L1732.0,513.0 L1731.0,516.1 L1730.0,519.2 L1729.0,522.3 L1728.0,525.3 L1727.0,528.3 L1726.0,531.2 L1725.0,534.2 L1724.0,537.0 L1723.0,539.9 L1722.0,542.7 L1721.0,545.5 L1720.0,548.2 L1719.0,550.9 L1718.0,553.6 L1717.0,556.3 L1716.0,558.9 L1715.0,561.4 L1714.0,564.0 L1713.0,566.5 L1712.0,569.0 L1711.0,571.4 L1710.0,573.8 L1709.0,576.2 L1708.0,578.6 L1707.0,580.9 L1706.0,583.2 L1705.0,585.5 L1704.0,587.8 L1703.0,590.0 L1702.0,592.3 L1701.0,594.5 L1700.0,596.6 L1698.0,600.9 L1694.0,609.2 L1690.0,617.0 L1686.0,624.6 L1682.0,631.9 L1678.0,638.9 L1674.0,645.7 L1670.0,652.2 L1666.0,658.4 L1662.0,664.1 L1658.0,669.5 L1654.0,674.5 L1650.0,679.3 L1646.0,683.8 L1642.0,687.9 L1638.0,691.6 L1634.0,694.8 L1630.0,697.9 L1626.0,700.7 L1622.0,703.3 L1618.0,705.6 L1614.0,707.8 L1610.0,709.6 L1606.0,711.2 L1602.0,712.7 L1598.0,714.0 L1594.0,715.1 L1590.0,716.1 L1586.0,717.0 L1582.0,717.9 L1578.0,718.6 L1574.0,719.3 L1570.0,720.0 L1566.0,720.6 L1562.0,721.3 L1558.0,721.8 L1554.0,722.3 L1550.0,722.7 L1546.0,723.0 L1542.0,723.1 L1538.0,723.1 L1534.0,723.1 L1530.0,723.0 L1526.0,722.9 L1522.0,722.8 L1518.0,722.7 L1514.0,722.6 L1510.0,722.4 L1506.0,722.3 L1502.0,722.1 L1498.0,721.8 L1494.0,721.6 L1490.0,721.3 L1486.0,720.9 L1482.0,720.6 L1478.0,720.3 L1474.0,720.0 L1470.0,719.7 L1466.0,719.4 L1462.0,719.1 L1458.0,718.7 L1454.0,718.3 L1450.0,718.0 L1446.0,717.6 L1442.0,717.3 L1438.0,716.9 L1434.0,716.6 L1430.0,716.3 L1426.0,716.0 L1422.0,715.7 L1418.0,715.5 L1414.0,715.3 L1410.0,715.2 L1406.0,715.1 L1402.0,715.0 L1398.0,714.9 L1394.0,714.8 L1390.0,714.7 L1386.0,714.7 L1382.0,714.7 L1378.0,714.7 L1374.0,714.7 L1370.0,714.7 L1366.0,714.8 L1362.0,714.8 L1358.0,714.9 L1354.0,715.0 L1350.0,715.1 L1346.0,715.2 L1342.0,715.3 L1338.0,715.4 L1334.0,715.5 L1330.0,715.6 L1326.0,715.7 L1322.0,715.9 L1318.0,716.0 L1314.0,716.1 L1310.0,716.3 L1306.0,716.4 L1302.0,716.6 L1298.0,716.7 L1294.0,716.9 L1290.0,717.1 L1286.0,717.3 L1282.0,717.6 L1278.0,717.8 L1274.0,718.0 L1270.0,718.3 L1266.0,718.5 L1262.0,718.8 L1258.0,719.1 L1254.0,719.4 L1250.0,719.7 L1246.0,719.9 L1242.0,720.2 L1238.0,720.5 L1234.0,720.8 L1230.0,721.1 L1226.0,721.5 L1222.0,721.8 L1218.0,722.1 L1214.0,722.5 L1210.0,722.8 L1206.0,723.2 L1202.0,723.6 L1198.0,724.0 L1194.0,724.4 L1190.0,724.8 L1186.0,725.2 L1182.0,725.7 L1178.0,726.1 L1174.0,726.6 L1170.0,727.1 L1166.0,727.6 L1162.0,728.1 L1158.0,728.7 L1154.0,729.3 L1150.0,729.9 L1146.0,730.6 L1142.0,731.2 L1138.0,731.9 L1134.0,732.6 L1130.0,733.2 L1126.0,733.9 L1122.0,734.6 L1118.0,735.4 L1114.0,736.1 L1110.0,736.8 L1106.0,737.5 L1102.0,738.2 L1098.0,739.0 L1094.0,739.8 L1090.0,740.6 L1086.0,741.4 L1082.0,742.2 L1078.0,743.0 L1074.0,743.9 L1070.0,744.7 L1066.0,745.5 L1062.0,746.4 L1058.0,747.2 L1054.0,748.0 L1050.0,748.9 L1046.0,749.7 L1042.0,750.5 L1038.0,751.3 L1034.0,752.0 L1030.0,752.8 L1026.0,753.5 L1022.0,754.2 L1018.0,755.0 L1014.0,755.7 L1010.0,756.5 L1006.0,757.2 L1002.0,758.0 L998.0,758.9 L994.0,759.7 L990.0,760.6 L986.0,761.6 L982.0,762.5 L978.0,763.5 L974.0,764.6 L970.0,765.7 L966.0,766.8 L962.0,768.1 L958.0,769.3 L954.0,770.8 L950.0,772.3 L946.0,773.9 L942.0,775.6 L938.0,777.3 L934.0,779.0 L930.0,780.7 L926.0,782.4 L922.0,784.1 L918.0,785.8 L914.0,787.5 L910.0,789.2 L906.0,790.9 L902.0,792.7 L898.0,794.4 L894.0,796.1 L890.0,797.8 L886.0,799.5 L882.0,801.2 L878.0,802.9 L874.0,804.6 L870.0,806.3 L866.0,808.0 L862.0,809.6 L858.0,811.2 L854.0,812.8 L850.0,814.3 L846.0,815.8 L842.0,817.4 L838.0,818.9 L834.0,820.4 L830.0,821.9 L826.0,823.3 L822.0,824.8 L818.0,826.3 L814.0,827.8 L810.0,829.2 L806.0,830.7 L802.0,832.2 L798.0,833.6 L794.0,835.1 L790.0,836.6 L786.0,838.2 L782.0,839.7 L778.0,841.3 L774.0,842.8 L770.0,844.4 L766.0,845.9 L762.0,847.4 L758.0,848.8 L754.0,850.2 L750.0,851.6 L746.0,853.0 L742.0,854.3 L738.0,855.6 L734.0,857.0 L730.0,858.3 L726.0,859.6 L722.0,861.0 L718.0,862.3 L714.0,863.6 L710.0,865.0 L706.0,866.3 L702.0,867.6 L698.0,868.9 L694.0,870.1 L690.0,871.4 L686.0,872.7 L682.0,874.0 L678.0,875.3 L674.0,876.7 L670.0,878.1 L666.0,879.5 L662.0,880.9 L658.0,882.3 L654.0,883.8 L650.0,885.2 L646.0,886.7 L642.0,888.1 L638.0,889.6 L634.0,891.1 L630.0,892.7 L626.0,894.2 L622.0,895.6 L618.0,896.9 L614.0,898.1 L610.0,899.6 L606.0,901.2 L602.0,902.6 L598.0,903.5 L594.0,904.3 L590.0,904.9 L586.0,905.5 L582.0,905.9 L578.0,906.3 L574.0,906.6 L570.0,906.8 L566.0,907.0 L562.0,907.3 L558.0,907.6 L554.0,908.0 L550.0,908.5 L546.0,908.9 L542.0,909.5 L538.0,910.1 L534.0,910.7 L530.0,911.5 L526.0,912.3 L522.0,913.2 L518.0,914.1 L514.0,915.0 L510.0,916.0 L506.0,917.1 L502.0,918.3 L498.0,919.7 L494.0,921.2 L490.0,923.0 L486.0,924.8 L482.0,926.7 L478.0,928.6 L474.0,930.7 L470.0,932.8 L466.0,935.0 L462.0,937.3 L458.0,939.6 L454.0,942.0 L450.0,944.5 L446.0,947.1 L442.0,949.8 L438.0,952.6 L434.0,955.5 L430.0,958.4 L426.0,961.5 L422.0,964.5 L418.0,967.7 L414.0,970.9 L410.0,974.2 L406.0,977.5 L402.0,980.9 L398.0,984.4 L394.0,988.0 L390.0,991.6 L386.0,995.4 L382.0,999.2 L378.0,1003.2 L374.0,1007.4 L370.0,1011.6 L366.0,1016.1 L362.0,1020.7 L358.0,1025.6 L354.0,1030.8 L350.0,1036.2 L346.0,1041.8 L342.0,1047.6 L338.0,1053.7 L334.0,1060.1 L330.0,1067.2 L329.0,1069.0 L328.0,1070.9 L327.0,1072.8 L326.0,1074.8 L325.0,1076.8 L324.0,1078.8 L323.0,1080.8 L322.0,1082.9 L321.0,1085.0 L320.0,1087.1 L319.0,1089.3 L318.0,1091.5 L317.0,1093.8 L316.0,1096.0 L315.0,1098.2 L314.0,1100.4 L313.0,1102.6 L312.0,1104.8 L311.0,1107.0 L310.0,1109.2 L309.0,1111.3 L308.0,1113.5 L307.0,1115.7 L306.0,1117.9 L304.8,1120.5" fill="none" stroke="#ff00ff" stroke-width="7.5" stroke-linejoin="round" stroke-linecap="round" />
<path d="M304.8,1120.5 L306.0,1113.1 L307.0,1107.4 L308.0,1102.2 L309.0,1097.2 L310.0,1092.2 L311.0,1087.2 L312.0,1082.5 L313.0,1078.1 L314.0,1073.9 L315.0,1069.9 L316.0,1066.0 L317.0,1062.2 L318.0,1058.5 L319.0,1054.8 L320.0,1051.1 L321.0,1047.6 L322.0,1044.3 L323.0,1041.1 L324.0,1038.1 L325.0,1035.2 L326.0,1032.4 L327.0,1029.8 L328.0,1027.1 L329.0,1024.6 L330.0,1022.1 L334.0,1012.8 L338.0,1004.1 L342.0,995.3 L346.0,986.4 L350.0,978.0 L354.0,969.9 L358.0,962.0 L362.0,954.2 L366.0,946.5 L370.0,939.1 L374.0,932.1 L378.0,925.3 L382.0,918.5 L386.0,911.7 L390.0,905.0 L394.0,898.5 L398.0,892.1 L402.0,885.9 L406.0,879.5 L410.0,873.1 L414.0,866.9 L418.0,861.0 L422.0,855.6 L426.0,850.4 L430.0,845.5 L434.0,840.8 L438.0,836.3 L442.0,832.0 L446.0,827.9 L450.0,823.9 L454.0,820.2 L458.0,816.6 L462.0,813.2 L466.0,810.0 L470.0,807.0 L474.0,804.1 L478.0,801.2 L482.0,798.5 L486.0,795.7 L490.0,793.0 L494.0,790.5 L498.0,788.0 L502.0,785.5 L506.0,783.3 L510.0,781.0 L514.0,778.9 L518.0,776.8 L522.0,774.7 L526.0,772.6 L530.0,770.6 L534.0,768.6 L538.0,766.6 L542.0,764.7 L546.0,762.8 L550.0,761.0 L554.0,759.2 L558.0,757.4 L562.0,755.7 L566.0,754.1 L570.0,752.5 L574.0,750.9 L578.0,749.4 L582.0,747.8 L586.0,746.2 L590.0,744.6 L594.0,743.0 L598.0,741.3 L602.0,739.7 L606.0,738.1 L610.0,736.5 L614.0,735.0 L618.0,733.4 L622.0,731.8 L626.0,730.2 L630.0,728.6 L634.0,727.0 L638.0,725.4 L642.0,723.8 L646.0,722.2 L650.0,720.6 L654.0,718.9 L658.0,717.3 L662.0,715.7 L666.0,714.1 L670.0,712.5 L674.0,710.9 L678.0,709.3 L682.0,707.8 L686.0,706.3 L690.0,704.9 L694.0,703.4 L698.0,701.9 L702.0,700.3 L706.0,698.4 L710.0,696.5 L714.0,694.4 L718.0,692.4 L722.0,690.3 L726.0,688.4 L730.0,686.5 L734.0,684.8 L738.0,683.0 L742.0,681.3 L746.0,679.6 L750.0,677.9 L754.0,676.2 L758.0,674.4 L762.0,672.6 L766.0,670.8 L770.0,669.0 L774.0,667.1 L778.0,665.3 L782.0,663.4 L786.0,661.4 L790.0,659.4 L794.0,657.4 L798.0,655.3 L802.0,653.2 L806.0,650.9 L810.0,648.4 L814.0,645.6 L818.0,642.4 L822.0,639.0 L826.0,635.5 L830.0,631.9 L834.0,628.0 L838.0,624.0 L842.0,620.2 L846.0,616.8 L850.0,613.4 L854.0,610.2 L858.0,607.4 L862.0,605.3 L866.0,603.3 L870.0,601.6 L874.0,600.4 L878.0,599.7 L882.0,599.3 L886.0,599.0 L890.0,598.8 L894.0,598.8 L898.0,598.8 L902.0,599.0 L906.0,599.3 L910.0,599.6 L914.0,600.0 L918.0,600.3 L922.0,600.7 L926.0,601.1 L930.0,601.4 L934.0,601.8 L938.0,602.2 L942.0,602.6 L946.0,603.1 L950.0,603.5 L954.0,603.9 L958.0,604.3 L962.0,604.7 L966.0,605.0 L970.0,605.3 L974.0,605.7 L978.0,606.0 L982.0,606.3 L986.0,606.6 L990.0,607.0 L994.0,607.3 L998.0,607.6 L1002.0,608.0 L1006.0,608.4 L1010.0,608.8 L1014.0,609.2 L1018.0,609.6 L1022.0,610.0 L1026.0,610.3 L1030.0,610.6 L1034.0,610.9 L1038.0,611.0 L1042.0,611.1 L1046.0,611.2 L1050.0,611.3 L1054.0,611.4 L1058.0,611.4 L1062.0,611.5 L1066.0,611.6 L1070.0,611.6 L1074.0,611.6 L1078.0,611.7 L1082.0,611.7 L1086.0,611.8 L1090.0,611.8 L1094.0,611.8 L1098.0,611.9 L1102.0,611.9 L1106.0,611.9 L1110.0,612.0 L1114.0,612.0 L1118.0,612.1 L1122.0,612.1 L1126.0,612.2 L1130.0,612.3 L1134.0,612.3 L1138.0,612.4 L1142.0,612.5 L1146.0,612.6 L1150.0,612.7 L1154.0,612.8 L1158.0,613.0 L1162.0,613.1 L1166.0,613.3 L1170.0,613.4 L1174.0,613.6 L1178.0,613.8 L1182.0,614.0 L1186.0,614.2 L1190.0,614.4 L1194.0,614.6 L1198.0,614.8 L1202.0,615.0 L1206.0,615.2 L1210.0,615.4 L1214.0,615.6 L1218.0,615.8 L1222.0,616.0 L1226.0,616.3 L1230.0,616.6 L1234.0,616.8 L1238.0,617.1 L1242.0,617.4 L1246.0,617.6 L1250.0,617.9 L1254.0,618.2 L1258.0,618.4 L1262.0,618.7 L1266.0,618.9 L1270.0,619.2 L1274.0,619.4 L1278.0,619.7 L1282.0,619.9 L1286.0,620.2 L1290.0,620.4 L1294.0,620.7 L1298.0,620.9 L1302.0,621.2 L1306.0,621.4 L1310.0,621.7 L1314.0,621.9 L1318.0,622.1 L1322.0,622.3 L1326.0,622.5 L1330.0,622.6 L1334.0,622.7 L1338.0,622.8 L1342.0,622.9 L1346.0,622.9 L1350.0,622.9 L1354.0,622.9 L1358.0,622.9 L1362.0,622.9 L1366.0,622.8 L1370.0,622.7 L1374.0,622.7 L1378.0,622.6 L1382.0,622.4 L1386.0,622.2 L1390.0,621.9 L1394.0,621.6 L1398.0,621.1 L1402.0,620.5 L1406.0,619.6 L1410.0,618.8 L1414.0,618.0 L1418.0,617.2 L1422.0,616.4 L1426.0,615.4 L1430.0,614.5 L1434.0,613.4 L1438.0,612.1 L1442.0,610.7 L1446.0,608.9 L1450.0,606.7 L1454.0,604.2 L1458.0,601.5 L1462.0,598.3 L1466.0,594.6 L1470.0,590.8 L1474.0,587.1 L1478.0,583.7 L1482.0,580.2 L1486.0,576.8 L1490.0,573.3 L1494.0,569.9 L1498.0,566.3 L1502.0,562.7 L1506.0,558.9 L1510.0,555.0 L1514.0,550.9 L1518.0,546.7 L1522.0,542.4 L1526.0,538.0 L1530.0,533.5 L1534.0,529.0 L1538.0,524.4 L1542.0,519.9 L1546.0,515.4 L1550.0,510.9 L1554.0,506.4 L1558.0,501.8 L1562.0,497.1 L1566.0,492.4 L1570.0,487.6 L1574.0,482.8 L1578.0,477.8 L1582.0,472.7 L1586.0,467.5 L1590.0,462.3 L1594.0,457.0 L1598.0,451.6 L1602.0,446.1 L1606.0,440.6 L1610.0,435.1 L1614.0,429.6 L1618.0,424.0 L1622.0,418.4 L1626.0,412.6 L1630.0,406.8 L1634.0,400.9 L1638.0,394.8 L1642.0,388.6 L1646.0,382.2 L1650.0,375.5 L1654.0,368.7 L1658.0,361.7 L1662.0,354.7 L1666.0,347.6 L1670.0,340.5 L1674.0,333.5 L1678.0,326.6 L1682.0,319.6 L1686.0,312.7 L1690.0,305.8 L1694.0,298.8 L1698.0,291.7 L1700.0,288.1 L1701.0,286.3 L1702.0,284.5 L1703.0,282.7 L1704.0,280.9 L1705.0,279.1 L1706.0,277.2 L1707.0,275.4 L1708.0,273.5 L1709.0,271.6 L1710.0,269.8 L1711.0,267.9 L1712.0,266.0 L1713.0,264.0 L1714.0,262.1 L1715.0,260.1 L1716.0,258.2 L1717.0,256.2 L1718.0,254.2 L1719.0,252.2 L1720.0,250.2 L1721.0,248.2 L1722.0,246.1 L1723.0,244.1 L1724.0,242.1 L1725.0,240.0 L1726.0,237.9 L1727.0,235.9 L1728.0,233.8 L1729.0,231.8 L1730.0,229.7 L1731.0,227.6 L1732.0,225.5 L1733.0,223.4 L1734.0,221.4 L1735.0,219.3 L1736.0,217.2 L1737.0,215.1 L1738.0,213.0 L1739.0,211.0 L1740.0,208.9 L1741.0,206.8 L1742.0,204.7 L1743.0,202.7 L1744.0,200.6 L1745.0,198.6 L1746.0,196.5 L1747.0,194.5 L1748.0,192.5 L1749.0,190.4 L1750.0,188.4 L1751.0,186.4 L1752.0,184.4 L1753.0,182.4 L1754.0,180.4 L1755.0,178.4 L1756.0,176.4 L1757.0,174.4 L1758.0,172.3 L1759.0,170.3 L1760.0,168.2 L1761.0,166.2 L1762.0,164.1 L1763.0,162.1 L1764.0,160.0 L1765.0,158.0 L1766.0,156.0 L1767.0,154.0 L1768.0,152.0 L1769.0,150.0 L1770.0,148.0 L1771.0,146.1 L1772.0,144.2 L1773.0,142.3 L1774.0,140.4 L1775.0,138.6 L1776.0,136.8 L1777.0,135.0 L1778.0,133.3 L1779.0,131.6 L1780.0,129.9 L1781.0,128.3 L1782.0,126.7 L1783.0,125.2 L1784.0,123.6 L1785.0,122.1 L1786.0,120.6 L1787.0,119.1 L1788.0,117.7 L1789.0,116.2 L1790.0,114.8 L1791.0,113.5 L1792.0,112.1 L1793.0,110.8 L1794.0,109.4 L1795.0,108.2 L1795.0,108.2 L1794.0,118.6 L1793.0,128.5 L1792.0,137.6 L1791.0,146.2 L1790.0,154.5 L1789.0,162.6 L1788.0,170.8 L1787.0,179.3 L1786.0,188.4 L1785.0,198.2 L1784.0,208.6 L1783.0,219.3 L1782.0,230.1 L1781.0,240.8 L1780.0,251.1 L1779.0,260.8 L1778.0,269.7 L1777.0,278.4 L1776.0,286.9 L1775.0,295.1 L1774.0,302.9 L1773.0,310.2 L1772.0,317.1 L1771.0,323.6 L1770.0,330.0 L1769.0,336.1 L1768.0,342.1 L1767.0,347.8 L1766.0,353.2 L1765.0,358.5 L1764.0,363.6 L1763.0,368.7 L1762.0,373.8 L1761.0,379.0 L1760.0,384.2 L1759.0,389.7 L1758.0,395.2 L1757.0,400.9 L1756.0,406.6 L1755.0,412.3 L1754.0,417.9 L1753.0,423.4 L1752.0,428.7 L1751.0,433.7 L1750.0,438.4 L1749.0,442.9 L1748.0,447.3 L1747.0,451.5 L1746.0,455.7 L1745.0,459.7 L1744.0,463.7 L1743.0,467.6 L1742.0,471.3 L1741.0,475.0 L1740.0,478.7 L1739.0,482.2 L1738.0,485.7 L1737.0,489.2 L1736.0,492.6 L1735.0,495.9 L1734.0,499.2 L1733.0,502.5 L1732.0,505.8 L1731.0,509.0 L1730.0,512.2 L1729.0,515.4 L1728.0,518.5 L1727.0,521.6 L1726.0,524.7 L1725.0,527.7 L1724.0,530.7 L1723.0,533.6 L1722.0,536.6 L1721.0,539.4 L1720.0,542.3 L1719.0,545.1 L1718.0,547.9 L1717.0,550.6 L1716.0,553.3 L1715.0,556.0 L1714.0,558.6 L1713.0,561.2 L1712.0,563.8 L1711.0,566.3 L1710.0,568.8 L1709.0,571.2 L1708.0,573.7 L1707.0,576.1 L1706.0,578.5 L1705.0,580.9 L1704.0,583.2 L1703.0,585.5 L1702.0,587.8 L1701.0,590.1 L1700.0,592.3 L1698.0,596.8 L1694.0,605.3 L1690.0,613.5 L1686.0,621.3 L1682.0,628.8 L1678.0,636.1 L1674.0,643.1 L1670.0,649.8 L1666.0,656.2 L1662.0,662.2 L1658.0,667.8 L1654.0,673.1 L1650.0,678.1 L1646.0,682.9 L1642.0,687.3 L1638.0,691.2 L1634.0,694.6 L1630.0,697.8 L1626.0,700.8 L1622.0,703.5 L1618.0,706.0 L1614.0,708.3 L1610.0,710.2 L1606.0,711.8 L1602.0,713.3 L1598.0,714.7 L1594.0,715.9 L1590.0,717.0 L1586.0,717.9 L1582.0,718.8 L1578.0,719.6 L1574.0,720.4 L1570.0,721.1 L1566.0,721.8 L1562.0,722.5 L1558.0,723.1 L1554.0,723.6 L1550.0,724.0 L1546.0,724.3 L1542.0,724.5 L1538.0,724.5 L1534.0,724.4 L1530.0,724.3 L1526.0,724.2 L1522.0,724.1 L1518.0,724.0 L1514.0,723.8 L1510.0,723.7 L1506.0,723.5 L1502.0,723.3 L1498.0,723.0 L1494.0,722.7 L1490.0,722.4 L1486.0,722.0 L1482.0,721.6 L1478.0,721.3 L1474.0,720.9 L1470.0,720.6 L1466.0,720.2 L1462.0,719.8 L1458.0,719.4 L1454.0,719.0 L1450.0,718.6 L1446.0,718.2 L1442.0,717.8 L1438.0,717.4 L1434.0,717.0 L1430.0,716.7 L1426.0,716.3 L1422.0,716.1 L1418.0,715.8 L1414.0,715.6 L1410.0,715.4 L1406.0,715.3 L1402.0,715.1 L1398.0,715.0 L1394.0,714.9 L1390.0,714.9 L1386.0,714.8 L1382.0,714.7 L1378.0,714.7 L1374.0,714.7 L1370.0,714.8 L1366.0,714.8 L1362.0,714.9 L1358.0,714.9 L1354.0,715.0 L1350.0,715.1 L1346.0,715.2 L1342.0,715.3 L1338.0,715.4 L1334.0,715.5 L1330.0,715.6 L1326.0,715.8 L1322.0,715.9 L1318.0,716.0 L1314.0,716.2 L1310.0,716.3 L1306.0,716.5 L1302.0,716.6 L1298.0,716.8 L1294.0,717.0 L1290.0,717.2 L1286.0,717.4 L1282.0,717.6 L1278.0,717.8 L1274.0,718.1 L1270.0,718.3 L1266.0,718.6 L1262.0,718.9 L1258.0,719.1 L1254.0,719.4 L1250.0,719.7 L1246.0,720.0 L1242.0,720.3 L1238.0,720.6 L1234.0,720.9 L1230.0,721.2 L1226.0,721.5 L1222.0,721.8 L1218.0,722.2 L1214.0,722.5 L1210.0,722.9 L1206.0,723.3 L1202.0,723.7 L1198.0,724.0 L1194.0,724.4 L1190.0,724.9 L1186.0,725.3 L1182.0,725.7 L1178.0,726.2 L1174.0,726.7 L1170.0,727.1 L1166.0,727.7 L1162.0,728.2 L1158.0,728.8 L1154.0,729.4 L1150.0,730.0 L1146.0,730.6 L1142.0,731.3 L1138.0,731.9 L1134.0,732.6 L1130.0,733.3 L1126.0,734.0 L1122.0,734.7 L1118.0,735.4 L1114.0,736.1 L1110.0,736.8 L1106.0,737.6 L1102.0,738.3 L1098.0,739.1 L1094.0,739.8 L1090.0,740.6 L1086.0,741.4 L1082.0,742.2 L1078.0,743.1 L1074.0,743.9 L1070.0,744.7 L1066.0,745.6 L1062.0,746.4 L1058.0,747.3 L1054.0,748.1 L1050.0,748.9 L1046.0,749.7 L1042.0,750.5 L1038.0,751.3 L1034.0,752.1 L1030.0,752.8 L1026.0,753.6 L1022.0,754.3 L1018.0,755.0 L1014.0,755.8 L1010.0,756.5 L1006.0,757.3 L1002.0,758.1 L998.0,758.9 L994.0,759.8 L990.0,760.7 L986.0,761.6 L982.0,762.6 L978.0,763.6 L974.0,764.6 L970.0,765.7 L966.0,766.9 L962.0,768.1 L958.0,769.4 L954.0,770.8 L950.0,772.3 L946.0,773.9 L942.0,775.6 L938.0,777.3 L934.0,779.0 L930.0,780.8 L926.0,782.4 L922.0,784.1 L918.0,785.8 L914.0,787.5 L910.0,789.2 L906.0,791.0 L902.0,792.7 L898.0,794.4 L894.0,796.1 L890.0,797.8 L886.0,799.5 L882.0,801.3 L878.0,803.0 L874.0,804.7 L870.0,806.3 L866.0,808.0 L862.0,809.6 L858.0,811.2 L854.0,812.8 L850.0,814.4 L846.0,815.9 L842.0,817.4 L838.0,818.9 L834.0,820.4 L830.0,821.9 L826.0,823.4 L822.0,824.9 L818.0,826.4 L814.0,827.8 L810.0,829.3 L806.0,830.7 L802.0,832.2 L798.0,833.7 L794.0,835.2 L790.0,836.7 L786.0,838.2 L782.0,839.8 L778.0,841.3 L774.0,842.9 L770.0,844.4 L766.0,845.9 L762.0,847.4 L758.0,848.9 L754.0,850.3 L750.0,851.6 L746.0,853.0 L742.0,854.4 L738.0,855.7 L734.0,857.0 L730.0,858.4 L726.0,859.7 L722.0,861.0 L718.0,862.4 L714.0,863.7 L710.0,865.0 L706.0,866.3 L702.0,867.6 L698.0,868.9 L694.0,870.2 L690.0,871.4 L686.0,872.7 L682.0,874.0 L678.0,875.3 L674.0,876.7 L670.0,878.1 L666.0,879.5 L662.0,881.0 L658.0,882.4 L654.0,883.8 L650.0,885.3 L646.0,886.7 L642.0,888.2 L638.0,889.7 L634.0,891.2 L630.0,892.7 L626.0,894.2 L622.0,895.7 L618.0,897.0 L614.0,898.2 L610.0,899.7 L606.0,901.3 L602.0,902.7 L598.0,903.7 L594.0,904.5 L590.0,905.1 L586.0,905.7 L582.0,906.2 L578.0,906.6 L574.0,906.9 L570.0,907.1 L566.0,907.3 L562.0,907.6 L558.0,908.0 L554.0,908.4 L550.0,908.8 L546.0,909.3 L542.0,909.9 L538.0,910.5 L534.0,911.2 L530.0,911.9 L526.0,912.8 L522.0,913.6 L518.0,914.6 L514.0,915.5 L510.0,916.5 L506.0,917.7 L502.0,918.9 L498.0,920.2 L494.0,921.8 L490.0,923.5 L486.0,925.4 L482.0,927.3 L478.0,929.2 L474.0,931.3 L470.0,933.4 L466.0,935.6 L462.0,937.9 L458.0,940.3 L454.0,942.7 L450.0,945.2 L446.0,947.8 L442.0,950.5 L438.0,953.3 L434.0,956.1 L430.0,959.1 L426.0,962.1 L422.0,965.2 L418.0,968.3 L414.0,971.5 L410.0,974.8 L406.0,978.1 L402.0,981.5 L398.0,985.0 L394.0,988.5 L390.0,992.2 L386.0,995.9 L382.0,999.7 L378.0,1003.7 L374.0,1007.8 L370.0,1012.1 L366.0,1016.5 L362.0,1021.1 L358.0,1026.0 L354.0,1031.1 L350.0,1036.5 L346.0,1042.1 L342.0,1047.9 L338.0,1054.0 L334.0,1060.4 L330.0,1067.4 L329.0,1069.3 L328.0,1071.1 L327.0,1073.1 L326.0,1075.0 L325.0,1077.0 L324.0,1079.0 L323.0,1081.0 L322.0,1083.0 L321.0,1085.1 L320.0,1087.3 L319.0,1089.5 L318.0,1091.7 L317.0,1093.9 L316.0,1096.1 L315.0,1098.3 L314.0,1100.5 L313.0,1102.7 L312.0,1104.9 L311.0,1107.0 L310.0,1109.2 L309.0,1111.4 L308.0,1113.6 L307.0,1115.7 L306.0,1117.9 L304.8,1120.5" fill="none" stroke="#808000" stroke-width="7.5" stroke-linejoin="round" stroke-linecap="round" />
<path d="M304.8,1120.5 L306.0,1113.6 L307.0,1108.2 L308.0,1103.1 L309.0,1098.1 L310.0,1093.1 L311.0,1088.1 L312.0,1083.3 L313.0,1078.8 L314.0,1074.6 L315.0,1070.6 L316.0,1066.7 L317.0,1062.9 L318.0,1059.2 L319.0,1055.5 L320.0,1051.8 L321.0,1048.3 L322.0,1044.9 L323.0,1041.8 L324.0,1038.7 L325.0,1035.8 L326.0,1033.0 L327.0,1030.3 L328.0,1027.7 L329.0,1025.2 L330.0,1022.7 L334.0,1013.3 L338.0,1004.6 L342.0,995.8 L346.0,986.9 L350.0,978.5 L354.0,970.4 L358.0,962.5 L362.0,954.7 L366.0,947.0 L370.0,939.6 L374.0,932.6 L378.0,925.7 L382.0,918.9 L386.0,912.2 L390.0,905.5 L394.0,898.9 L398.0,892.6 L402.0,886.3 L406.0,880.0 L410.0,873.6 L414.0,867.4 L418.0,861.5 L422.0,856.0 L426.0,850.8 L430.0,845.9 L434.0,841.2 L438.0,836.7 L442.0,832.4 L446.0,828.3 L450.0,824.3 L454.0,820.5 L458.0,816.9 L462.0,813.6 L466.0,810.4 L470.0,807.3 L474.0,804.4 L478.0,801.6 L482.0,798.8 L486.0,796.1 L490.0,793.4 L494.0,790.8 L498.0,788.3 L502.0,785.9 L506.0,783.6 L510.0,781.4 L514.0,779.2 L518.0,777.1 L522.0,775.0 L526.0,772.9 L530.0,770.9 L534.0,768.9 L538.0,766.9 L542.0,765.0 L546.0,763.1 L550.0,761.3 L554.0,759.5 L558.0,757.7 L562.0,756.0 L566.0,754.4 L570.0,752.8 L574.0,751.2 L578.0,749.7 L582.0,748.1 L586.0,746.5 L590.0,744.9 L594.0,743.3 L598.0,741.6 L602.0,740.0 L606.0,738.4 L610.0,736.8 L614.0,735.3 L618.0,733.7 L622.0,732.1 L626.0,730.5 L630.0,728.9 L634.0,727.3 L638.0,725.7 L642.0,724.1 L646.0,722.5 L650.0,720.9 L654.0,719.2 L658.0,717.6 L662.0,716.0 L666.0,714.4 L670.0,712.8 L674.0,711.2 L678.0,709.6 L682.0,708.1 L686.0,706.6 L690.0,705.2 L694.0,703.7 L698.0,702.2 L702.0,700.6 L706.0,698.7 L710.0,696.8 L714.0,694.7 L718.0,692.7 L722.0,690.6 L726.0,688.7 L730.0,686.8 L734.0,685.1 L738.0,683.3 L742.0,681.6 L746.0,679.9 L750.0,678.2 L754.0,676.5 L758.0,674.7 L762.0,672.9 L766.0,671.1 L770.0,669.3 L774.0,667.5 L778.0,665.6 L782.0,663.7 L786.0,661.8 L790.0,659.8 L794.0,657.7 L798.0,655.6 L802.0,653.5 L806.0,651.2 L810.0,648.8 L814.0,645.9 L818.0,642.8 L822.0,639.4 L826.0,635.9 L830.0,632.3 L834.0,628.4 L838.0,624.5 L842.0,620.8 L846.0,617.5 L850.0,614.1 L854.0,611.0 L858.0,608.3 L862.0,606.2 L866.0,604.3 L870.0,602.6 L874.0,601.4 L878.0,600.8 L882.0,600.4 L886.0,600.1 L890.0,599.9 L894.0,599.8 L898.0,599.9 L902.0,600.1 L906.0,600.4 L910.0,600.7 L914.0,601.1 L918.0,601.4 L922.0,601.8 L926.0,602.2 L930.0,602.5 L934.0,602.9 L938.0,603.3 L942.0,603.8 L946.0,604.2 L950.0,604.6 L954.0,605.1 L958.0,605.5 L962.0,605.8 L966.0,606.2 L970.0,606.5 L974.0,606.9 L978.0,607.2 L982.0,607.5 L986.0,607.9 L990.0,608.2 L994.0,608.5 L998.0,608.9 L1002.0,609.3 L1006.0,609.7 L1010.0,610.2 L1014.0,610.6 L1018.0,611.0 L1022.0,611.4 L1026.0,611.7 L1030.0,612.0 L1034.0,612.3 L1038.0,612.4 L1042.0,612.5 L1046.0,612.6 L1050.0,612.7 L1054.0,612.8 L1058.0,612.8 L1062.0,612.9 L1066.0,612.9 L1070.0,613.0 L1074.0,613.0 L1078.0,613.0 L1082.0,613.1 L1086.0,613.1 L1090.0,613.2 L1094.0,613.2 L1098.0,613.2 L1102.0,613.2 L1106.0,613.3 L1110.0,613.3 L1114.0,613.4 L1118.0,613.4 L1122.0,613.4 L1126.0,613.5 L1130.0,613.6 L1134.0,613.6 L1138.0,613.7 L1142.0,613.8 L1146.0,613.9 L1150.0,614.0 L1154.0,614.1 L1158.0,614.2 L1162.0,614.4 L1166.0,614.5 L1170.0,614.7 L1174.0,614.8 L1178.0,615.0 L1182.0,615.2 L1186.0,615.4 L1190.0,615.6 L1194.0,615.8 L1198.0,615.9 L1202.0,616.1 L1206.0,616.3 L1210.0,616.5 L1214.0,616.7 L1218.0,616.9 L1222.0,617.2 L1226.0,617.4 L1230.0,617.6 L1234.0,617.9 L1238.0,618.1 L1242.0,618.4 L1246.0,618.7 L1250.0,618.9 L1254.0,619.1 L1258.0,619.4 L1262.0,619.6 L1266.0,619.9 L1270.0,620.1 L1274.0,620.3 L1278.0,620.5 L1282.0,620.7 L1286.0,621.0 L1290.0,621.2 L1294.0,621.4 L1298.0,621.7 L1302.0,621.9 L1306.0,622.1 L1310.0,622.3 L1314.0,622.5 L1318.0,622.7 L1322.0,622.9 L1326.0,623.0 L1330.0,623.1 L1334.0,623.2 L1338.0,623.3 L1342.0,623.4 L1346.0,623.4 L1350.0,623.4 L1354.0,623.3 L1358.0,623.3 L1362.0,623.2 L1366.0,623.1 L1370.0,623.0 L1374.0,622.9 L1378.0,622.8 L1382.0,622.6 L1386.0,622.3 L1390.0,622.0 L1394.0,621.6 L1398.0,621.1 L1402.0,620.2 L1406.0,619.3 L1410.0,618.3 L1414.0,617.5 L1418.0,616.6 L1422.0,615.7 L1426.0,614.7 L1430.0,613.6 L1434.0,612.5 L1438.0,611.1 L1442.0,609.6 L1446.0,607.6 L1450.0,605.2 L1454.0,602.5 L1458.0,599.5 L1462.0,596.0 L1466.0,592.0 L1470.0,587.9 L1474.0,583.9 L1478.0,580.2 L1482.0,576.5 L1486.0,572.9 L1490.0,569.2 L1494.0,565.5 L1498.0,561.8 L1502.0,557.9 L1506.0,553.9 L1510.0,549.8 L1514.0,545.5 L1518.0,541.1 L1522.0,536.5 L1526.0,531.9 L1530.0,527.2 L1534.0,522.4 L1538.0,517.7 L1542.0,513.0 L1546.0,508.3 L1550.0,503.6 L1554.0,498.8 L1558.0,494.1 L1562.0,489.2 L1566.0,484.4 L1570.0,479.4 L1574.0,474.4 L1578.0,469.3 L1582.0,464.1 L1586.0,458.8 L1590.0,453.4 L1594.0,448.0 L1598.0,442.5 L1602.0,437.0 L1606.0,431.4 L1610.0,425.8 L1614.0,420.2 L1618.0,414.5 L1622.0,408.8 L1626.0,403.1 L1630.0,397.2 L1634.0,391.2 L1638.0,385.0 L1642.0,378.7 L1646.0,372.1 L1650.0,365.3 L1654.0,358.3 L1658.0,351.1 L1662.0,343.9 L1666.0,336.6 L1670.0,329.3 L1674.0,322.1 L1678.0,315.0 L1682.0,307.8 L1686.0,300.7 L1690.0,293.6 L1694.0,286.4 L1698.0,279.1 L1700.0,275.5 L1701.0,273.6 L1702.0,271.8 L1703.0,269.9 L1704.0,268.0 L1705.0,266.1 L1706.0,264.2 L1707.0,262.3 L1708.0,260.4 L1709.0,258.5 L1710.0,256.5 L1711.0,254.5 L1712.0,252.6 L1713.0,250.6 L1714.0,248.6 L1715.0,246.5 L1716.0,244.5 L1717.0,242.4 L1718.0,240.4 L1719.0,238.3 L1720.0,236.2 L1721.0,234.1 L1722.0,232.0 L1723.0,229.9 L1724.0,227.8 L1725.0,225.6 L1726.0,223.5 L1727.0,221.4 L1728.0,219.2 L1729.0,217.1 L1730.0,214.9 L1731.0,212.7 L1732.0,210.6 L1733.0,208.4 L1734.0,206.2 L1735.0,204.1 L1736.0,201.9 L1737.0,199.7 L1738.0,197.6 L1739.0,195.4 L1740.0,193.2 L1741.0,191.1 L1742.0,188.9 L1743.0,186.8 L1744.0,184.6 L1745.0,182.5 L1746.0,180.4 L1747.0,178.3 L1748.0,176.1 L1749.0,174.0 L1750.0,171.9 L1751.0,169.9 L1752.0,167.8 L1753.0,165.7 L1754.0,163.7 L1755.0,161.6 L1756.0,159.5 L1757.0,157.4 L1758.0,155.2 L1759.0,153.1 L1760.0,151.0 L1761.0,148.8 L1762.0,146.7 L1763.0,144.6 L1764.0,142.4 L1765.0,140.3 L1766.0,138.2 L1767.0,136.1 L1768.0,134.1 L1769.0,132.0 L1770.0,130.0 L1771.0,128.0 L1772.0,126.0 L1773.0,124.0 L1774.0,122.1 L1775.0,120.2 L1776.0,118.4 L1777.0,116.5 L1778.0,114.8 L1779.0,113.0 L1780.0,111.4 L1781.0,109.7 L1782.0,108.1 L1783.0,106.5 L1784.0,104.9 L1785.0,103.4 L1786.0,101.9 L1787.0,100.4 L1788.0,98.9 L1789.0,97.5 L1790.0,96.1 L1791.0,94.7 L1792.0,93.4 L1793.0,92.0 L1794.0,90.7 L1795.0,89.4 L1795.0,89.4 L1794.0,100.2 L1793.0,110.3 L1792.0,119.7 L1791.0,128.4 L1790.0,136.9 L1789.0,145.2 L1788.0,153.7 L1787.0,162.5 L1786.0,172.1 L1785.0,182.5 L1784.0,193.6 L1783.0,205.1 L1782.0,216.7 L1781.0,228.0 L1780.0,238.9 L1779.0,248.9 L1778.0,258.0 L1777.0,266.7 L1776.0,275.1 L1775.0,283.1 L1774.0,290.8 L1773.0,298.0 L1772.0,304.9 L1771.0,311.5 L1770.0,317.8 L1769.0,324.1 L1768.0,330.1 L1767.0,335.8 L1766.0,341.3 L1765.0,346.6 L1764.0,351.8 L1763.0,357.0 L1762.0,362.2 L1761.0,367.4 L1760.0,372.8 L1759.0,378.4 L1758.0,384.2 L1757.0,390.1 L1756.0,396.0 L1755.0,401.9 L1754.0,407.7 L1753.0,413.4 L1752.0,418.9 L1751.0,424.1 L1750.0,429.0 L1749.0,433.6 L1748.0,438.1 L1747.0,442.4 L1746.0,446.7 L1745.0,450.8 L1744.0,454.9 L1743.0,458.9 L1742.0,462.7 L1741.0,466.5 L1740.0,470.3 L1739.0,473.9 L1738.0,477.5 L1737.0,481.1 L1736.0,484.6 L1735.0,488.0 L1734.0,491.4 L1733.0,494.8 L1732.0,498.2 L1731.0,501.5 L1730.0,504.9 L1729.0,508.1 L1728.0,511.4 L1727.0,514.6 L1726.0,517.7 L1725.0,520.9 L1724.0,524.0 L1723.0,527.0 L1722.0,530.1 L1721.0,533.0 L1720.0,536.0 L1719.0,538.9 L1718.0,541.8 L1717.0,544.6 L1716.0,547.4 L1715.0,550.2 L1714.0,552.9 L1713.0,555.6 L1712.0,558.3 L1711.0,560.9 L1710.0,563.4 L1709.0,566.0 L1708.0,568.5 L1707.0,571.0 L1706.0,573.5 L1705.0,575.9 L1704.0,578.4 L1703.0,580.8 L1702.0,583.1 L1701.0,585.5 L1700.0,587.8 L1698.0,592.4 L1694.0,601.2 L1690.0,609.7 L1686.0,617.8 L1682.0,625.6 L1678.0,633.1 L1674.0,640.3 L1670.0,647.3 L1666.0,653.9 L1662.0,660.1 L1658.0,666.0 L1654.0,671.6 L1650.0,676.9 L1646.0,682.0 L1642.0,686.7 L1638.0,690.8 L1634.0,694.4 L1630.0,697.8 L1626.0,700.9 L1622.0,703.8 L1618.0,706.5 L1614.0,708.8 L1610.0,710.8 L1606.0,712.5 L1602.0,714.1 L1598.0,715.5 L1594.0,716.7 L1590.0,717.9 L1586.0,718.9 L1582.0,719.9 L1578.0,720.7 L1574.0,721.5 L1570.0,722.2 L1566.0,723.0 L1562.0,723.7 L1558.0,724.4 L1554.0,725.0 L1550.0,725.4 L1546.0,725.7 L1542.0,725.9 L1538.0,725.9 L1534.0,725.8 L1530.0,725.7 L1526.0,725.6 L1522.0,725.5 L1518.0,725.3 L1514.0,725.2 L1510.0,725.0 L1506.0,724.8 L1502.0,724.5 L1498.0,724.2 L1494.0,723.9 L1490.0,723.5 L1486.0,723.1 L1482.0,722.7 L1478.0,722.3 L1474.0,721.9 L1470.0,721.5 L1466.0,721.1 L1462.0,720.7 L1458.0,720.2 L1454.0,719.8 L1450.0,719.3 L1446.0,718.8 L1442.0,718.4 L1438.0,717.9 L1434.0,717.5 L1430.0,717.1 L1426.0,716.7 L1422.0,716.4 L1418.0,716.1 L1414.0,715.8 L1410.0,715.6 L1406.0,715.5 L1402.0,715.3 L1398.0,715.2 L1394.0,715.1 L1390.0,715.0 L1386.0,714.9 L1382.0,714.8 L1378.0,714.8 L1374.0,714.8 L1370.0,714.8 L1366.0,714.8 L1362.0,714.9 L1358.0,715.0 L1354.0,715.0 L1350.0,715.1 L1346.0,715.2 L1342.0,715.3 L1338.0,715.4 L1334.0,715.6 L1330.0,715.7 L1326.0,715.8 L1322.0,715.9 L1318.0,716.1 L1314.0,716.2 L1310.0,716.4 L1306.0,716.5 L1302.0,716.7 L1298.0,716.8 L1294.0,717.0 L1290.0,717.2 L1286.0,717.4 L1282.0,717.7 L1278.0,717.9 L1274.0,718.1 L1270.0,718.4 L1266.0,718.7 L1262.0,718.9 L1258.0,719.2 L1254.0,719.5 L1250.0,719.8 L1246.0,720.1 L1242.0,720.3 L1238.0,720.6 L1234.0,720.9 L1230.0,721.3 L1226.0,721.6 L1222.0,721.9 L1218.0,722.2 L1214.0,722.6 L1210.0,723.0 L1206.0,723.3 L1202.0,723.7 L1198.0,724.1 L1194.0,724.5 L1190.0,724.9 L1186.0,725.3 L1182.0,725.8 L1178.0,726.2 L1174.0,726.7 L1170.0,727.2 L1166.0,727.7 L1162.0,728.3 L1158.0,728.8 L1154.0,729.4 L1150.0,730.0 L1146.0,730.7 L1142.0,731.3 L1138.0,732.0 L1134.0,732.7 L1130.0,733.3 L1126.0,734.0 L1122.0,734.8 L1118.0,735.5 L1114.0,736.2 L1110.0,736.9 L1106.0,737.6 L1102.0,738.4 L1098.0,739.1 L1094.0,739.9 L1090.0,740.7 L1086.0,741.5 L1082.0,742.3 L1078.0,743.1 L1074.0,744.0 L1070.0,744.8 L1066.0,745.6 L1062.0,746.5 L1058.0,747.3 L1054.0,748.2 L1050.0,749.0 L1046.0,749.8 L1042.0,750.6 L1038.0,751.4 L1034.0,752.1 L1030.0,752.9 L1026.0,753.6 L1022.0,754.4 L1018.0,755.1 L1014.0,755.8 L1010.0,756.6 L1006.0,757.3 L1002.0,758.1 L998.0,759.0 L994.0,759.8 L990.0,760.7 L986.0,761.7 L982.0,762.6 L978.0,763.7 L974.0,764.7 L970.0,765.8 L966.0,767.0 L962.0,768.2 L958.0,769.4 L954.0,770.9 L950.0,772.4 L946.0,774.0 L942.0,775.7 L938.0,777.4 L934.0,779.1 L930.0,780.8 L926.0,782.5 L922.0,784.2 L918.0,785.9 L914.0,787.6 L910.0,789.3 L906.0,791.0 L902.0,792.8 L898.0,794.5 L894.0,796.2 L890.0,797.9 L886.0,799.6 L882.0,801.3 L878.0,803.0 L874.0,804.7 L870.0,806.4 L866.0,808.1 L862.0,809.7 L858.0,811.3 L854.0,812.9 L850.0,814.4 L846.0,815.9 L842.0,817.5 L838.0,819.0 L834.0,820.5 L830.0,822.0 L826.0,823.5 L822.0,824.9 L818.0,826.4 L814.0,827.9 L810.0,829.3 L806.0,830.8 L802.0,832.3 L798.0,833.7 L794.0,835.2 L790.0,836.7 L786.0,838.3 L782.0,839.8 L778.0,841.4 L774.0,842.9 L770.0,844.5 L766.0,846.0 L762.0,847.5 L758.0,848.9 L754.0,850.3 L750.0,851.7 L746.0,853.1 L742.0,854.4 L738.0,855.7 L734.0,857.1 L730.0,858.4 L726.0,859.7 L722.0,861.1 L718.0,862.4 L714.0,863.7 L710.0,865.0 L706.0,866.4 L702.0,867.7 L698.0,868.9 L694.0,870.2 L690.0,871.5 L686.0,872.7 L682.0,874.0 L678.0,875.4 L674.0,876.7 L670.0,878.1 L666.0,879.5 L662.0,881.0 L658.0,882.4 L654.0,883.8 L650.0,885.2 L646.0,886.7 L642.0,888.2 L638.0,889.6 L634.0,891.2 L630.0,892.7 L626.0,894.2 L622.0,895.6 L618.0,896.9 L614.0,898.2 L610.0,899.6 L606.0,901.3 L602.0,902.7 L598.0,903.6 L594.0,904.4 L590.0,905.1 L586.0,905.6 L582.0,906.1 L578.0,906.5 L574.0,906.8 L570.0,907.0 L566.0,907.2 L562.0,907.5 L558.0,907.9 L554.0,908.3 L550.0,908.7 L546.0,909.2 L542.0,909.7 L538.0,910.3 L534.0,911.0 L530.0,911.8 L526.0,912.6 L522.0,913.5 L518.0,914.4 L514.0,915.4 L510.0,916.4 L506.0,917.5 L502.0,918.7 L498.0,920.1 L494.0,921.6 L490.0,923.4 L486.0,925.2 L482.0,927.1 L478.0,929.0 L474.0,931.1 L470.0,933.2 L466.0,935.4 L462.0,937.7 L458.0,940.0 L454.0,942.5 L450.0,945.0 L446.0,947.6 L442.0,950.3 L438.0,953.0 L434.0,955.9 L430.0,958.9 L426.0,961.9 L422.0,965.0 L418.0,968.1 L414.0,971.3 L410.0,974.6 L406.0,977.9 L402.0,981.3 L398.0,984.8 L394.0,988.4 L390.0,992.0 L386.0,995.7 L382.0,999.5 L378.0,1003.5 L374.0,1007.7 L370.0,1011.9 L366.0,1016.4 L362.0,1021.0 L358.0,1025.9 L354.0,1031.0 L350.0,1036.4 L346.0,1042.0 L342.0,1047.8 L338.0,1053.9 L334.0,1060.3 L330.0,1067.3 L329.0,1069.2 L328.0,1071.1 L327.0,1073.0 L326.0,1074.9 L325.0,1076.9 L324.0,1078.9 L323.0,1080.9 L322.0,1083.0 L321.0,1085.1 L320.0,1087.2 L319.0,1089.4 L318.0,1091.6 L317.0,1093.8 L316.0,1096.1 L315.0,1098.3 L314.0,1100.5 L313.0,1102.7 L312.0,1104.9 L311.0,1107.0 L310.0,1109.2 L309.0,1111.4 L308.0,1113.6 L307.0,1115.7 L306.0,1117.9 L304.8,1120.5" fill="none" stroke="#000080" stroke-width="7.5" stroke-linejoin="round" stroke-linecap="round" />
<path d="M304.8,1120.5 L306.0,1114.2 L307.0,1109.1 L308.0,1104.1 L309.0,1099.1 L310.0,1094.0 L311.0,1089.0 L312.0,1084.1 L313.0,1079.6 L314.0,1075.4 L315.0,1071.4 L316.0,1067.5 L317.0,1063.7 L318.0,1059.9 L319.0,1056.2 L320.0,1052.5 L321.0,1049.0 L322.0,1045.6 L323.0,1042.4 L324.0,1039.4 L325.0,1036.4 L326.0,1033.6 L327.0,1030.9 L328.0,1028.3 L329.0,1025.7 L330.0,1023.2 L334.0,1013.9 L338.0,1005.2 L342.0,996.3 L346.0,987.5 L350.0,979.0 L354.0,970.9 L358.0,963.0 L362.0,955.1 L366.0,947.5 L370.0,940.1 L374.0,933.0 L378.0,926.2 L382.0,919.4 L386.0,912.6 L390.0,905.9 L394.0,899.4 L398.0,893.0 L402.0,886.8 L406.0,880.4 L410.0,874.0 L414.0,867.8 L418.0,861.9 L422.0,856.4 L426.0,851.2 L430.0,846.3 L434.0,841.6 L438.0,837.1 L442.0,832.8 L446.0,828.6 L450.0,824.7 L454.0,820.9 L458.0,817.3 L462.0,813.9 L466.0,810.7 L470.0,807.7 L474.0,804.8 L478.0,801.9 L482.0,799.1 L486.0,796.4 L490.0,793.7 L494.0,791.1 L498.0,788.6 L502.0,786.2 L506.0,783.9 L510.0,781.7 L514.0,779.5 L518.0,777.4 L522.0,775.3 L526.0,773.2 L530.0,771.2 L534.0,769.2 L538.0,767.2 L542.0,765.3 L546.0,763.4 L550.0,761.6 L554.0,759.8 L558.0,758.0 L562.0,756.3 L566.0,754.7 L570.0,753.1 L574.0,751.5 L578.0,750.0 L582.0,748.4 L586.0,746.8 L590.0,745.2 L594.0,743.6 L598.0,741.9 L602.0,740.3 L606.0,738.7 L610.0,737.1 L614.0,735.6 L618.0,734.0 L622.0,732.4 L626.0,730.8 L630.0,729.2 L634.0,727.6 L638.0,726.0 L642.0,724.4 L646.0,722.8 L650.0,721.2 L654.0,719.6 L658.0,717.9 L662.0,716.3 L666.0,714.7 L670.0,713.1 L674.0,711.5 L678.0,709.9 L682.0,708.4 L686.0,706.9 L690.0,705.5 L694.0,704.0 L698.0,702.5 L702.0,700.9 L706.0,699.1 L710.0,697.1 L714.0,695.1 L718.0,693.0 L722.0,691.0 L726.0,689.0 L730.0,687.1 L734.0,685.4 L738.0,683.6 L742.0,681.9 L746.0,680.2 L750.0,678.5 L754.0,676.8 L758.0,675.0 L762.0,673.2 L766.0,671.4 L770.0,669.6 L774.0,667.8 L778.0,665.9 L782.0,664.0 L786.0,662.1 L790.0,660.1 L794.0,658.0 L798.0,656.0 L802.0,653.8 L806.0,651.6 L810.0,649.1 L814.0,646.3 L818.0,643.1 L822.0,639.7 L826.0,636.2 L830.0,632.7 L834.0,628.9 L838.0,625.1 L842.0,621.5 L846.0,618.1 L850.0,614.9 L854.0,611.8 L858.0,609.2 L862.0,607.1 L866.0,605.2 L870.0,603.6 L874.0,602.4 L878.0,601.8 L882.0,601.4 L886.0,601.2 L890.0,601.0 L894.0,600.9 L898.0,601.0 L902.0,601.2 L906.0,601.5 L910.0,601.8 L914.0,602.2 L918.0,602.6 L922.0,602.9 L926.0,603.3 L930.0,603.7 L934.0,604.1 L938.0,604.5 L942.0,604.9 L946.0,605.4 L950.0,605.8 L954.0,606.2 L958.0,606.6 L962.0,607.0 L966.0,607.4 L970.0,607.7 L974.0,608.1 L978.0,608.4 L982.0,608.8 L986.0,609.1 L990.0,609.5 L994.0,609.8 L998.0,610.2 L1002.0,610.6 L1006.0,611.0 L1010.0,611.5 L1014.0,611.9 L1018.0,612.3 L1022.0,612.8 L1026.0,613.1 L1030.0,613.4 L1034.0,613.7 L1038.0,613.8 L1042.0,613.9 L1046.0,614.0 L1050.0,614.1 L1054.0,614.1 L1058.0,614.2 L1062.0,614.3 L1066.0,614.3 L1070.0,614.3 L1074.0,614.4 L1078.0,614.4 L1082.0,614.4 L1086.0,614.5 L1090.0,614.5 L1094.0,614.5 L1098.0,614.6 L1102.0,614.6 L1106.0,614.6 L1110.0,614.6 L1114.0,614.7 L1118.0,614.7 L1122.0,614.8 L1126.0,614.8 L1130.0,614.9 L1134.0,614.9 L1138.0,615.0 L1142.0,615.1 L1146.0,615.1 L1150.0,615.2 L1154.0,615.4 L1158.0,615.5 L1162.0,615.6 L1166.0,615.8 L1170.0,615.9 L1174.0,616.1 L1178.0,616.2 L1182.0,616.4 L1186.0,616.6 L1190.0,616.8 L1194.0,617.0 L1198.0,617.1 L1202.0,617.3 L1206.0,617.5 L1210.0,617.7 L1214.0,617.9 L1218.0,618.1 L1222.0,618.3 L1226.0,618.5 L1230.0,618.7 L1234.0,619.0 L1238.0,619.2 L1242.0,619.4 L1246.0,619.7 L1250.0,619.9 L1254.0,620.1 L1258.0,620.3 L1262.0,620.6 L1266.0,620.8 L1270.0,621.0 L1274.0,621.2 L1278.0,621.4 L1282.0,621.5 L1286.0,621.8 L1290.0,622.0 L1294.0,622.2 L1298.0,622.4 L1302.0,622.6 L1306.0,622.8 L1310.0,623.0 L1314.0,623.1 L1318.0,623.3 L1322.0,623.5 L1326.0,623.6 L1330.0,623.7 L1334.0,623.8 L1338.0,623.8 L1342.0,623.8 L1346.0,623.8 L1350.0,623.8 L1354.0,623.7 L1358.0,623.6 L1362.0,623.6 L1366.0,623.4 L1370.0,623.3 L1374.0,623.2 L1378.0,623.0 L1382.0,622.8 L1386.0,622.5 L1390.0,622.1 L1394.0,621.6 L1398.0,621.0 L1402.0,620.0 L1406.0,618.9 L1410.0,617.9 L1414.0,616.9 L1418.0,616.0 L1422.0,615.0 L1426.0,614.0 L1430.0,612.8 L1434.0,611.6 L1438.0,610.1 L1442.0,608.5 L1446.0,606.3 L1450.0,603.7 L1454.0,600.7 L1458.0,597.5 L1462.0,593.7 L1466.0,589.4 L1470.0,585.0 L1474.0,580.7 L1478.0,576.7 L1482.0,572.8 L1486.0,568.9 L1490.0,565.1 L1494.0,561.2 L1498.0,557.2 L1502.0,553.1 L1506.0,549.0 L1510.0,544.6 L1514.0,540.1 L1518.0,535.4 L1522.0,530.6 L1526.0,525.8 L1530.0,520.8 L1534.0,515.9 L1538.0,511.0 L1542.0,506.0 L1546.0,501.1 L1550.0,496.2 L1554.0,491.3 L1558.0,486.4 L1562.0,481.4 L1566.0,476.3 L1570.0,471.2 L1574.0,466.0 L1578.0,460.7 L1582.0,455.4 L1586.0,450.0 L1590.0,444.5 L1594.0,439.0 L1598.0,433.4 L1602.0,427.8 L1606.0,422.1 L1610.0,416.4 L1614.0,410.8 L1618.0,405.0 L1622.0,399.3 L1626.0,393.5 L1630.0,387.5 L1634.0,381.5 L1638.0,375.2 L1642.0,368.8 L1646.0,362.0 L1650.0,355.1 L1654.0,347.9 L1658.0,340.5 L1662.0,333.1 L1666.0,325.6 L1670.0,318.2 L1674.0,310.7 L1678.0,303.4 L1682.0,296.1 L1686.0,288.8 L1690.0,281.4 L1694.0,274.1 L1698.0,266.6 L1700.0,262.8 L1701.0,260.9 L1702.0,259.0 L1703.0,257.0 L1704.0,255.1 L1705.0,253.2 L1706.0,251.2 L1707.0,249.2 L1708.0,247.3 L1709.0,245.3 L1710.0,243.3 L1711.0,241.2 L1712.0,239.2 L1713.0,237.1 L1714.0,235.0 L1715.0,232.9 L1716.0,230.8 L1717.0,228.7 L1718.0,226.6 L1719.0,224.4 L1720.0,222.3 L1721.0,220.1 L1722.0,217.9 L1723.0,215.7 L1724.0,213.5 L1725.0,211.3 L1726.0,209.1 L1727.0,206.8 L1728.0,204.6 L1729.0,202.4 L1730.0,200.1 L1731.0,197.9 L1732.0,195.6 L1733.0,193.4 L1734.0,191.1 L1735.0,188.9 L1736.0,186.6 L1737.0,184.3 L1738.0,182.1 L1739.0,179.8 L1740.0,177.6 L1741.0,175.4 L1742.0,173.1 L1743.0,170.9 L1744.0,168.7 L1745.0,166.4 L1746.0,164.2 L1747.0,162.0 L1748.0,159.8 L1749.0,157.7 L1750.0,155.5 L1751.0,153.3 L1752.0,151.2 L1753.0,149.0 L1754.0,146.9 L1755.0,144.7 L1756.0,142.5 L1757.0,140.3 L1758.0,138.1 L1759.0,135.9 L1760.0,133.7 L1761.0,131.5 L1762.0,129.3 L1763.0,127.1 L1764.0,124.9 L1765.0,122.7 L1766.0,120.5 L1767.0,118.3 L1768.0,116.2 L1769.0,114.0 L1770.0,111.9 L1771.0,109.9 L1772.0,107.8 L1773.0,105.8 L1774.0,103.8 L1775.0,101.9 L1776.0,99.9 L1777.0,98.1 L1778.0,96.3 L1779.0,94.5 L1780.0,92.8 L1781.0,91.1 L1782.0,89.5 L1783.0,87.8 L1784.0,86.3 L1785.0,84.7 L1786.0,83.2 L1787.0,81.7 L1788.0,80.2 L1789.0,78.8 L1790.0,77.3 L1791.0,76.0 L1792.0,74.6 L1793.0,73.3 L1794.0,72.0 L1795.0,70.7 L1795.0,70.7 L1794.0,81.7 L1793.0,92.2 L1792.0,101.7 L1791.0,110.6 L1790.0,119.2 L1789.0,127.8 L1788.0,136.5 L1787.0,145.7 L1786.0,155.8 L1785.0,166.9 L1784.0,178.7 L1783.0,191.0 L1782.0,203.3 L1781.0,215.3 L1780.0,226.7 L1779.0,237.0 L1778.0,246.3 L1777.0,254.9 L1776.0,263.2 L1775.0,271.1 L1774.0,278.7 L1773.0,285.9 L1772.0,292.7 L1771.0,299.3 L1770.0,305.7 L1769.0,312.0 L1768.0,318.1 L1767.0,323.9 L1766.0,329.4 L1765.0,334.8 L1764.0,340.1 L1763.0,345.3 L1762.0,350.5 L1761.0,355.9 L1760.0,361.4 L1759.0,367.2 L1758.0,373.1 L1757.0,379.2 L1756.0,385.3 L1755.0,391.5 L1754.0,397.5 L1753.0,403.4 L1752.0,409.1 L1751.0,414.5 L1750.0,419.5 L1749.0,424.2 L1748.0,428.8 L1747.0,433.3 L1746.0,437.7 L1745.0,441.9 L1744.0,446.1 L1743.0,450.2 L1742.0,454.1 L1741.0,458.0 L1740.0,461.9 L1739.0,465.6 L1738.0,469.3 L1737.0,472.9 L1736.0,476.5 L1735.0,480.1 L1734.0,483.6 L1733.0,487.1 L1732.0,490.6 L1731.0,494.1 L1730.0,497.5 L1729.0,500.9 L1728.0,504.2 L1727.0,507.5 L1726.0,510.8 L1725.0,514.1 L1724.0,517.3 L1723.0,520.4 L1722.0,523.6 L1721.0,526.6 L1720.0,529.7 L1719.0,532.7 L1718.0,535.7 L1717.0,538.6 L1716.0,541.5 L1715.0,544.4 L1714.0,547.2 L1713.0,550.0 L1712.0,552.7 L1711.0,555.4 L1710.0,558.1 L1709.0,560.7 L1708.0,563.3 L1707.0,565.9 L1706.0,568.5 L1705.0,571.0 L1704.0,573.5 L1703.0,576.0 L1702.0,578.4 L1701.0,580.9 L1700.0,583.3 L1698.0,588.0 L1694.0,597.2 L1690.0,605.9 L1686.0,614.3 L1682.0,622.3 L1678.0,630.1 L1674.0,637.6 L1670.0,644.7 L1666.0,651.6 L1662.0,658.1 L1658.0,664.2 L1654.0,670.1 L1650.0,675.8 L1646.0,681.1 L1642.0,686.1 L1638.0,690.4 L1634.0,694.2 L1630.0,697.7 L1626.0,701.0 L1622.0,704.1 L1618.0,706.9 L1614.0,709.3 L1610.0,711.4 L1606.0,713.2 L1602.0,714.8 L1598.0,716.3 L1594.0,717.6 L1590.0,718.8 L1586.0,719.9 L1582.0,720.9 L1578.0,721.8 L1574.0,722.6 L1570.0,723.4 L1566.0,724.2 L1562.0,725.0 L1558.0,725.7 L1554.0,726.3 L1550.0,726.8 L1546.0,727.1 L1542.0,727.3 L1538.0,727.3 L1534.0,727.2 L1530.0,727.1 L1526.0,727.0 L1522.0,726.8 L1518.0,726.7 L1514.0,726.5 L1510.0,726.3 L1506.0,726.1 L1502.0,725.8 L1498.0,725.5 L1494.0,725.1 L1490.0,724.7 L1486.0,724.2 L1482.0,723.8 L1478.0,723.3 L1474.0,722.9 L1470.0,722.5 L1466.0,722.0 L1462.0,721.5 L1458.0,721.0 L1454.0,720.5 L1450.0,720.0 L1446.0,719.5 L1442.0,719.0 L1438.0,718.5 L1434.0,718.0 L1430.0,717.5 L1426.0,717.1 L1422.0,716.7 L1418.0,716.4 L1414.0,716.1 L1410.0,715.9 L1406.0,715.7 L1402.0,715.5 L1398.0,715.4 L1394.0,715.2 L1390.0,715.1 L1386.0,715.0 L1382.0,714.9 L1378.0,714.9 L1374.0,714.8 L1370.0,714.9 L1366.0,714.9 L1362.0,714.9 L1358.0,715.0 L1354.0,715.1 L1350.0,715.2 L1346.0,715.2 L1342.0,715.4 L1338.0,715.5 L1334.0,715.6 L1330.0,715.7 L1326.0,715.9 L1322.0,716.0 L1318.0,716.1 L1314.0,716.3 L1310.0,716.4 L1306.0,716.6 L1302.0,716.7 L1298.0,716.9 L1294.0,717.1 L1290.0,717.3 L1286.0,717.5 L1282.0,717.7 L1278.0,717.9 L1274.0,718.2 L1270.0,718.4 L1266.0,718.7 L1262.0,719.0 L1258.0,719.3 L1254.0,719.5 L1250.0,719.8 L1246.0,720.1 L1242.0,720.4 L1238.0,720.7 L1234.0,721.0 L1230.0,721.3 L1226.0,721.6 L1222.0,722.0 L1218.0,722.3 L1214.0,722.6 L1210.0,723.0 L1206.0,723.4 L1202.0,723.8 L1198.0,724.2 L1194.0,724.6 L1190.0,725.0 L1186.0,725.4 L1182.0,725.8 L1178.0,726.3 L1174.0,726.8 L1170.0,727.2 L1166.0,727.8 L1162.0,728.3 L1158.0,728.9 L1154.0,729.5 L1150.0,730.1 L1146.0,730.7 L1142.0,731.4 L1138.0,732.0 L1134.0,732.7 L1130.0,733.4 L1126.0,734.1 L1122.0,734.8 L1118.0,735.5 L1114.0,736.2 L1110.0,737.0 L1106.0,737.7 L1102.0,738.4 L1098.0,739.2 L1094.0,739.9 L1090.0,740.7 L1086.0,741.5 L1082.0,742.3 L1078.0,743.2 L1074.0,744.0 L1070.0,744.8 L1066.0,745.7 L1062.0,746.5 L1058.0,747.4 L1054.0,748.2 L1050.0,749.0 L1046.0,749.8 L1042.0,750.6 L1038.0,751.4 L1034.0,752.2 L1030.0,752.9 L1026.0,753.7 L1022.0,754.4 L1018.0,755.1 L1014.0,755.9 L1010.0,756.6 L1006.0,757.4 L1002.0,758.2 L998.0,759.0 L994.0,759.9 L990.0,760.8 L986.0,761.7 L982.0,762.7 L978.0,763.7 L974.0,764.8 L970.0,765.9 L966.0,767.0 L962.0,768.2 L958.0,769.5 L954.0,770.9 L950.0,772.4 L946.0,774.0 L942.0,775.7 L938.0,777.4 L934.0,779.1 L930.0,780.9 L926.0,782.5 L922.0,784.2 L918.0,785.9 L914.0,787.6 L910.0,789.4 L906.0,791.1 L902.0,792.8 L898.0,794.5 L894.0,796.2 L890.0,797.9 L886.0,799.7 L882.0,801.4 L878.0,803.1 L874.0,804.8 L870.0,806.5 L866.0,808.1 L862.0,809.7 L858.0,811.3 L854.0,812.9 L850.0,814.5 L846.0,816.0 L842.0,817.5 L838.0,819.0 L834.0,820.5 L830.0,822.0 L826.0,823.5 L822.0,825.0 L818.0,826.5 L814.0,827.9 L810.0,829.4 L806.0,830.9 L802.0,832.3 L798.0,833.8 L794.0,835.3 L790.0,836.8 L786.0,838.3 L782.0,839.9 L778.0,841.4 L774.0,843.0 L770.0,844.5 L766.0,846.0 L762.0,847.5 L758.0,849.0 L754.0,850.4 L750.0,851.8 L746.0,853.1 L742.0,854.5 L738.0,855.8 L734.0,857.1 L730.0,858.5 L726.0,859.8 L722.0,861.1 L718.0,862.5 L714.0,863.8 L710.0,865.1 L706.0,866.4 L702.0,867.7 L698.0,869.0 L694.0,870.3 L690.0,871.5 L686.0,872.8 L682.0,874.1 L678.0,875.4 L674.0,876.8 L670.0,878.2 L666.0,879.6 L662.0,881.0 L658.0,882.5 L654.0,883.9 L650.0,885.3 L646.0,886.8 L642.0,888.2 L638.0,889.7 L634.0,891.2 L630.0,892.8 L626.0,894.3 L622.0,895.7 L618.0,897.0 L614.0,898.3 L610.0,899.8 L606.0,901.4 L602.0,902.9 L598.0,903.8 L594.0,904.7 L590.0,905.4 L586.0,906.0 L582.0,906.5 L578.0,906.9 L574.0,907.2 L570.0,907.4 L566.0,907.7 L562.0,908.0 L558.0,908.3 L554.0,908.8 L550.0,909.2 L546.0,909.7 L542.0,910.3 L538.0,910.9 L534.0,911.6 L530.0,912.4 L526.0,913.3 L522.0,914.2 L518.0,915.1 L514.0,916.1 L510.0,917.1 L506.0,918.2 L502.0,919.5 L498.0,920.9 L494.0,922.4 L490.0,924.2 L486.0,926.1 L482.0,928.0 L478.0,929.9 L474.0,932.0 L470.0,934.1 L466.0,936.4 L462.0,938.6 L458.0,941.0 L454.0,943.4 L450.0,946.0 L446.0,948.6 L442.0,951.3 L438.0,954.0 L434.0,956.9 L430.0,959.8 L426.0,962.8 L422.0,965.9 L418.0,969.0 L414.0,972.2 L410.0,975.5 L406.0,978.8 L402.0,982.2 L398.0,985.6 L394.0,989.1 L390.0,992.7 L386.0,996.4 L382.0,1000.2 L378.0,1004.2 L374.0,1008.3 L370.0,1012.6 L366.0,1017.0 L362.0,1021.6 L358.0,1026.4 L354.0,1031.5 L350.0,1036.9 L346.0,1042.5 L342.0,1048.2 L338.0,1054.3 L334.0,1060.7 L330.0,1067.7 L329.0,1069.5 L328.0,1071.4 L327.0,1073.3 L326.0,1075.2 L325.0,1077.2 L324.0,1079.2 L323.0,1081.2 L322.0,1083.2 L321.0,1085.3 L320.0,1087.4 L319.0,1089.6 L318.0,1091.8 L317.0,1094.0 L316.0,1096.2 L315.0,1098.4 L314.0,1100.6 L313.0,1102.8 L312.0,1105.0 L311.0,1107.1 L310.0,1109.3 L309.0,1111.4 L308.0,1113.6 L307.0,1115.8 L306.0,1117.9 L304.8,1120.5" fill="none" stroke="#800000" stroke-width="7.5" stroke-linejoin="round" stroke-linecap="round" />
<path d="M304.8,1120.5 L306.0,1114.8 L307.0,1109.9 L308.0,1105.1 L309.0,1100.1 L310.0,1095.0 L311.0,1089.8 L312.0,1084.9 L313.0,1080.4 L314.0,1076.2 L315.0,1072.1 L316.0,1068.2 L317.0,1064.4 L318.0,1060.6 L319.0,1056.9 L320.0,1053.2 L321.0,1049.7 L322.0,1046.3 L323.0,1043.0 L324.0,1040.0 L325.0,1037.0 L326.0,1034.2 L327.0,1031.5 L328.0,1028.9 L329.0,1026.3 L330.0,1023.8 L334.0,1014.4 L338.0,1005.7 L342.0,996.9 L346.0,988.0 L350.0,979.5 L354.0,971.4 L358.0,963.5 L362.0,955.6 L366.0,947.9 L370.0,940.6 L374.0,933.5 L378.0,926.7 L382.0,919.9 L386.0,913.1 L390.0,906.4 L394.0,899.9 L398.0,893.5 L402.0,887.2 L406.0,880.9 L410.0,874.5 L414.0,868.3 L418.0,862.3 L422.0,856.8 L426.0,851.6 L430.0,846.7 L434.0,842.0 L438.0,837.4 L442.0,833.1 L446.0,829.0 L450.0,825.0 L454.0,821.3 L458.0,817.7 L462.0,814.3 L466.0,811.1 L470.0,808.0 L474.0,805.1 L478.0,802.3 L482.0,799.5 L486.0,796.7 L490.0,794.1 L494.0,791.5 L498.0,788.9 L502.0,786.5 L506.0,784.2 L510.0,782.0 L514.0,779.8 L518.0,777.7 L522.0,775.6 L526.0,773.6 L530.0,771.5 L534.0,769.5 L538.0,767.5 L542.0,765.6 L546.0,763.7 L550.0,761.9 L554.0,760.1 L558.0,758.4 L562.0,756.6 L566.0,755.0 L570.0,753.4 L574.0,751.8 L578.0,750.3 L582.0,748.7 L586.0,747.1 L590.0,745.5 L594.0,743.9 L598.0,742.2 L602.0,740.6 L606.0,739.0 L610.0,737.4 L614.0,735.9 L618.0,734.3 L622.0,732.7 L626.0,731.1 L630.0,729.5 L634.0,727.9 L638.0,726.3 L642.0,724.7 L646.0,723.1 L650.0,721.5 L654.0,719.9 L658.0,718.2 L662.0,716.6 L666.0,715.0 L670.0,713.4 L674.0,711.8 L678.0,710.2 L682.0,708.7 L686.0,707.2 L690.0,705.8 L694.0,704.3 L698.0,702.8 L702.0,701.2 L706.0,699.4 L710.0,697.4 L714.0,695.4 L718.0,693.3 L722.0,691.3 L726.0,689.3 L730.0,687.5 L734.0,685.7 L738.0,683.9 L742.0,682.2 L746.0,680.5 L750.0,678.8 L754.0,677.1 L758.0,675.4 L762.0,673.6 L766.0,671.7 L770.0,669.9 L774.0,668.1 L778.0,666.2 L782.0,664.3 L786.0,662.4 L790.0,660.4 L794.0,658.4 L798.0,656.3 L802.0,654.2 L806.0,651.9 L810.0,649.4 L814.0,646.6 L818.0,643.4 L822.0,640.1 L826.0,636.6 L830.0,633.1 L834.0,629.3 L838.0,625.6 L842.0,622.1 L846.0,618.8 L850.0,615.6 L854.0,612.6 L858.0,610.0 L862.0,608.0 L866.0,606.2 L870.0,604.6 L874.0,603.4 L878.0,602.9 L882.0,602.5 L886.0,602.2 L890.0,602.0 L894.0,602.0 L898.0,602.1 L902.0,602.3 L906.0,602.5 L910.0,602.9 L914.0,603.3 L918.0,603.7 L922.0,604.1 L926.0,604.4 L930.0,604.8 L934.0,605.2 L938.0,605.6 L942.0,606.1 L946.0,606.5 L950.0,607.0 L954.0,607.4 L958.0,607.8 L962.0,608.2 L966.0,608.6 L970.0,608.9 L974.0,609.3 L978.0,609.6 L982.0,610.0 L986.0,610.3 L990.0,610.7 L994.0,611.1 L998.0,611.5 L1002.0,611.9 L1006.0,612.3 L1010.0,612.8 L1014.0,613.3 L1018.0,613.7 L1022.0,614.1 L1026.0,614.5 L1030.0,614.8 L1034.0,615.1 L1038.0,615.2 L1042.0,615.3 L1046.0,615.4 L1050.0,615.5 L1054.0,615.5 L1058.0,615.6 L1062.0,615.6 L1066.0,615.7 L1070.0,615.7 L1074.0,615.7 L1078.0,615.8 L1082.0,615.8 L1086.0,615.8 L1090.0,615.8 L1094.0,615.9 L1098.0,615.9 L1102.0,615.9 L1106.0,615.9 L1110.0,616.0 L1114.0,616.0 L1118.0,616.0 L1122.0,616.1 L1126.0,616.1 L1130.0,616.2 L1134.0,616.2 L1138.0,616.3 L1142.0,616.3 L1146.0,616.4 L1150.0,616.5 L1154.0,616.6 L1158.0,616.7 L1162.0,616.9 L1166.0,617.0 L1170.0,617.2 L1174.0,617.3 L1178.0,617.5 L1182.0,617.6 L1186.0,617.8 L1190.0,618.0 L1194.0,618.2 L1198.0,618.3 L1202.0,618.5 L1206.0,618.7 L1210.0,618.8 L1214.0,619.0 L1218.0,619.2 L1222.0,619.4 L1226.0,619.6 L1230.0,619.8 L1234.0,620.0 L1238.0,620.3 L1242.0,620.5 L1246.0,620.7 L1250.0,620.9 L1254.0,621.1 L1258.0,621.3 L1262.0,621.5 L1266.0,621.7 L1270.0,621.9 L1274.0,622.0 L1278.0,622.2 L1282.0,622.4 L1286.0,622.6 L1290.0,622.7 L1294.0,622.9 L1298.0,623.1 L1302.0,623.3 L1306.0,623.5 L1310.0,623.6 L1314.0,623.8 L1318.0,623.9 L1322.0,624.0 L1326.0,624.1 L1330.0,624.2 L1334.0,624.3 L1338.0,624.3 L1342.0,624.3 L1346.0,624.3 L1350.0,624.2 L1354.0,624.1 L1358.0,624.0 L1362.0,623.9 L1366.0,623.8 L1370.0,623.6 L1374.0,623.5 L1378.0,623.2 L1382.0,623.0 L1386.0,622.6 L1390.0,622.2 L1394.0,621.6 L1398.0,620.9 L1402.0,619.7 L1406.0,618.5 L1410.0,617.4 L1414.0,616.4 L1418.0,615.3 L1422.0,614.3 L1426.0,613.2 L1430.0,612.0 L1434.0,610.7 L1438.0,609.1 L1442.0,607.3 L1446.0,605.0 L1450.0,602.1 L1454.0,599.0 L1458.0,595.5 L1462.0,591.4 L1466.0,586.8 L1470.0,582.0 L1474.0,577.5 L1478.0,573.3 L1482.0,569.1 L1486.0,565.0 L1490.0,560.9 L1494.0,556.8 L1498.0,552.6 L1502.0,548.4 L1506.0,544.0 L1510.0,539.4 L1514.0,534.6 L1518.0,529.7 L1522.0,524.7 L1526.0,519.7 L1530.0,514.5 L1534.0,509.4 L1538.0,504.2 L1542.0,499.1 L1546.0,494.0 L1550.0,488.9 L1554.0,483.8 L1558.0,478.7 L1562.0,473.5 L1566.0,468.3 L1570.0,463.0 L1574.0,457.6 L1578.0,452.2 L1582.0,446.8 L1586.0,441.2 L1590.0,435.7 L1594.0,430.0 L1598.0,424.4 L1602.0,418.7 L1606.0,412.9 L1610.0,407.1 L1614.0,401.3 L1618.0,395.6 L1622.0,389.8 L1626.0,383.9 L1630.0,377.9 L1634.0,371.7 L1638.0,365.4 L1642.0,358.8 L1646.0,352.0 L1650.0,344.8 L1654.0,337.5 L1658.0,330.0 L1662.0,322.3 L1666.0,314.6 L1670.0,307.0 L1674.0,299.3 L1678.0,291.8 L1682.0,284.3 L1686.0,276.8 L1690.0,269.3 L1694.0,261.7 L1698.0,254.0 L1700.0,250.1 L1701.0,248.2 L1702.0,246.2 L1703.0,244.2 L1704.0,242.2 L1705.0,240.2 L1706.0,238.2 L1707.0,236.2 L1708.0,234.1 L1709.0,232.1 L1710.0,230.0 L1711.0,227.9 L1712.0,225.8 L1713.0,223.7 L1714.0,221.5 L1715.0,219.4 L1716.0,217.2 L1717.0,215.0 L1718.0,212.8 L1719.0,210.5 L1720.0,208.3 L1721.0,206.0 L1722.0,203.8 L1723.0,201.5 L1724.0,199.2 L1725.0,196.9 L1726.0,194.6 L1727.0,192.3 L1728.0,190.0 L1729.0,187.7 L1730.0,185.3 L1731.0,183.0 L1732.0,180.7 L1733.0,178.3 L1734.0,176.0 L1735.0,173.6 L1736.0,171.3 L1737.0,169.0 L1738.0,166.6 L1739.0,164.3 L1740.0,162.0 L1741.0,159.6 L1742.0,157.3 L1743.0,155.0 L1744.0,152.7 L1745.0,150.4 L1746.0,148.1 L1747.0,145.8 L1748.0,143.5 L1749.0,141.3 L1750.0,139.0 L1751.0,136.8 L1752.0,134.5 L1753.0,132.3 L1754.0,130.1 L1755.0,127.9 L1756.0,125.6 L1757.0,123.3 L1758.0,121.0 L1759.0,118.8 L1760.0,116.5 L1761.0,114.2 L1762.0,111.9 L1763.0,109.6 L1764.0,107.3 L1765.0,105.0 L1766.0,102.7 L1767.0,100.5 L1768.0,98.3 L1769.0,96.1 L1770.0,93.9 L1771.0,91.7 L1772.0,89.6 L1773.0,87.5 L1774.0,85.5 L1775.0,83.5 L1776.0,81.5 L1777.0,79.6 L1778.0,77.8 L1779.0,76.0 L1780.0,74.2 L1781.0,72.5 L1782.0,70.8 L1783.0,69.2 L1784.0,67.6 L1785.0,66.0 L1786.0,64.5 L1787.0,62.9 L1788.0,61.5 L1789.0,60.0 L1790.0,58.6 L1791.0,57.2 L1792.0,55.9 L1793.0,54.5 L1794.0,53.3 L1795.0,52.0 L1795.0,52.0 L1794.0,63.3 L1793.0,74.0 L1792.0,83.8 L1791.0,92.9 L1790.0,101.6 L1789.0,110.3 L1788.0,119.3 L1787.0,128.9 L1786.0,139.5 L1785.0,151.2 L1784.0,163.8 L1783.0,176.8 L1782.0,189.9 L1781.0,202.5 L1780.0,214.5 L1779.0,225.2 L1778.0,234.5 L1777.0,243.2 L1776.0,251.4 L1775.0,259.2 L1774.0,266.6 L1773.0,273.7 L1772.0,280.5 L1771.0,287.2 L1770.0,293.6 L1769.0,300.0 L1768.0,306.1 L1767.0,312.0 L1766.0,317.6 L1765.0,323.0 L1764.0,328.3 L1763.0,333.6 L1762.0,338.9 L1761.0,344.4 L1760.0,350.0 L1759.0,355.9 L1758.0,362.0 L1757.0,368.3 L1756.0,374.7 L1755.0,381.0 L1754.0,387.3 L1753.0,393.4 L1752.0,399.3 L1751.0,404.8 L1750.0,410.0 L1749.0,414.9 L1748.0,419.6 L1747.0,424.2 L1746.0,428.7 L1745.0,433.0 L1744.0,437.3 L1743.0,441.5 L1742.0,445.5 L1741.0,449.5 L1740.0,453.5 L1739.0,457.3 L1738.0,461.1 L1737.0,464.8 L1736.0,468.5 L1735.0,472.2 L1734.0,475.8 L1733.0,479.4 L1732.0,483.0 L1731.0,486.6 L1730.0,490.1 L1729.0,493.6 L1728.0,497.1 L1727.0,500.5 L1726.0,503.9 L1725.0,507.2 L1724.0,510.5 L1723.0,513.8 L1722.0,517.1 L1721.0,520.3 L1720.0,523.4 L1719.0,526.5 L1718.0,529.6 L1717.0,532.7 L1716.0,535.7 L1715.0,538.6 L1714.0,541.5 L1713.0,544.4 L1712.0,547.2 L1711.0,550.0 L1710.0,552.7 L1709.0,555.5 L1708.0,558.2 L1707.0,560.8 L1706.0,563.5 L1705.0,566.1 L1704.0,568.7 L1703.0,571.2 L1702.0,573.8 L1701.0,576.3 L1700.0,578.7 L1698.0,583.6 L1694.0,593.1 L1690.0,602.1 L1686.0,610.8 L1682.0,619.1 L1678.0,627.1 L1674.0,634.8 L1670.0,642.2 L1666.0,649.3 L1662.0,656.0 L1658.0,662.5 L1654.0,668.6 L1650.0,674.6 L1646.0,680.2 L1642.0,685.4 L1638.0,690.0 L1634.0,693.9 L1630.0,697.7 L1626.0,701.2 L1622.0,704.4 L1618.0,707.3 L1614.0,709.9 L1610.0,712.0 L1606.0,713.8 L1602.0,715.5 L1598.0,717.0 L1594.0,718.4 L1590.0,719.7 L1586.0,720.9 L1582.0,721.9 L1578.0,722.9 L1574.0,723.7 L1570.0,724.6 L1566.0,725.4 L1562.0,726.2 L1558.0,727.0 L1554.0,727.6 L1550.0,728.2 L1546.0,728.5 L1542.0,728.7 L1538.0,728.7 L1534.0,728.6 L1530.0,728.5 L1526.0,728.4 L1522.0,728.2 L1518.0,728.0 L1514.0,727.8 L1510.0,727.6 L1506.0,727.4 L1502.0,727.1 L1498.0,726.7 L1494.0,726.3 L1490.0,725.8 L1486.0,725.3 L1482.0,724.8 L1478.0,724.3 L1474.0,723.9 L1470.0,723.4 L1466.0,722.9 L1462.0,722.4 L1458.0,721.8 L1454.0,721.2 L1450.0,720.7 L1446.0,720.1 L1442.0,719.5 L1438.0,719.0 L1434.0,718.4 L1430.0,717.9 L1426.0,717.5 L1422.0,717.1 L1418.0,716.7 L1414.0,716.4 L1410.0,716.1 L1406.0,715.9 L1402.0,715.7 L1398.0,715.5 L1394.0,715.4 L1390.0,715.2 L1386.0,715.1 L1382.0,715.0 L1378.0,714.9 L1374.0,714.9 L1370.0,714.9 L1366.0,714.9 L1362.0,715.0 L1358.0,715.0 L1354.0,715.1 L1350.0,715.2 L1346.0,715.3 L1342.0,715.4 L1338.0,715.5 L1334.0,715.6 L1330.0,715.8 L1326.0,715.9 L1322.0,716.0 L1318.0,716.2 L1314.0,716.3 L1310.0,716.5 L1306.0,716.6 L1302.0,716.8 L1298.0,717.0 L1294.0,717.1 L1290.0,717.3 L1286.0,717.5 L1282.0,717.8 L1278.0,718.0 L1274.0,718.2 L1270.0,718.5 L1266.0,718.8 L1262.0,719.0 L1258.0,719.3 L1254.0,719.6 L1250.0,719.9 L1246.0,720.2 L1242.0,720.5 L1238.0,720.7 L1234.0,721.0 L1230.0,721.4 L1226.0,721.7 L1222.0,722.0 L1218.0,722.4 L1214.0,722.7 L1210.0,723.1 L1206.0,723.4 L1202.0,723.8 L1198.0,724.2 L1194.0,724.6 L1190.0,725.0 L1186.0,725.5 L1182.0,725.9 L1178.0,726.4 L1174.0,726.8 L1170.0,727.3 L1166.0,727.8 L1162.0,728.4 L1158.0,728.9 L1154.0,729.5 L1150.0,730.1 L1146.0,730.8 L1142.0,731.4 L1138.0,732.1 L1134.0,732.8 L1130.0,733.5 L1126.0,734.2 L1122.0,734.9 L1118.0,735.6 L1114.0,736.3 L1110.0,737.0 L1106.0,737.7 L1102.0,738.5 L1098.0,739.2 L1094.0,740.0 L1090.0,740.8 L1086.0,741.6 L1082.0,742.4 L1078.0,743.2 L1074.0,744.1 L1070.0,744.9 L1066.0,745.7 L1062.0,746.6 L1058.0,747.4 L1054.0,748.3 L1050.0,749.1 L1046.0,749.9 L1042.0,750.7 L1038.0,751.5 L1034.0,752.3 L1030.0,753.0 L1026.0,753.7 L1022.0,754.5 L1018.0,755.2 L1014.0,755.9 L1010.0,756.7 L1006.0,757.4 L1002.0,758.2 L998.0,759.1 L994.0,759.9 L990.0,760.9 L986.0,761.8 L982.0,762.8 L978.0,763.8 L974.0,764.8 L970.0,765.9 L966.0,767.1 L962.0,768.3 L958.0,769.6 L954.0,771.0 L950.0,772.5 L946.0,774.1 L942.0,775.8 L938.0,777.5 L934.0,779.2 L930.0,780.9 L926.0,782.6 L922.0,784.3 L918.0,786.0 L914.0,787.7 L910.0,789.4 L906.0,791.1 L902.0,792.9 L898.0,794.6 L894.0,796.3 L890.0,798.0 L886.0,799.7 L882.0,801.4 L878.0,803.1 L874.0,804.8 L870.0,806.5 L866.0,808.2 L862.0,809.8 L858.0,811.4 L854.0,813.0 L850.0,814.5 L846.0,816.0 L842.0,817.6 L838.0,819.1 L834.0,820.6 L830.0,822.1 L826.0,823.6 L822.0,825.0 L818.0,826.5 L814.0,828.0 L810.0,829.5 L806.0,830.9 L802.0,832.4 L798.0,833.9 L794.0,835.3 L790.0,836.8 L786.0,838.4 L782.0,839.9 L778.0,841.5 L774.0,843.0 L770.0,844.6 L766.0,846.1 L762.0,847.6 L758.0,849.0 L754.0,850.4 L750.0,851.8 L746.0,853.2 L742.0,854.5 L738.0,855.8 L734.0,857.2 L730.0,858.5 L726.0,859.8 L722.0,861.2 L718.0,862.5 L714.0,863.8 L710.0,865.1 L706.0,866.4 L702.0,867.7 L698.0,869.0 L694.0,870.3 L690.0,871.5 L686.0,872.8 L682.0,874.1 L678.0,875.4 L674.0,876.8 L670.0,878.2 L666.0,879.6 L662.0,881.0 L658.0,882.5 L654.0,883.9 L650.0,885.3 L646.0,886.8 L642.0,888.2 L638.0,889.7 L634.0,891.2 L630.0,892.8 L626.0,894.3 L622.0,895.7 L618.0,897.0 L614.0,898.3 L610.0,899.7 L606.0,901.4 L602.0,902.8 L598.0,903.8 L594.0,904.6 L590.0,905.3 L586.0,905.9 L582.0,906.4 L578.0,906.8 L574.0,907.1 L570.0,907.4 L566.0,907.6 L562.0,907.9 L558.0,908.3 L554.0,908.7 L550.0,909.1 L546.0,909.7 L542.0,910.2 L538.0,910.8 L534.0,911.5 L530.0,912.3 L526.0,913.2 L522.0,914.1 L518.0,915.0 L514.0,916.0 L510.0,917.0 L506.0,918.1 L502.0,919.4 L498.0,920.7 L494.0,922.3 L490.0,924.1 L486.0,925.9 L482.0,927.8 L478.0,929.8 L474.0,931.8 L470.0,934.0 L466.0,936.2 L462.0,938.5 L458.0,940.9 L454.0,943.3 L450.0,945.8 L446.0,948.4 L442.0,951.1 L438.0,953.9 L434.0,956.7 L430.0,959.7 L426.0,962.7 L422.0,965.8 L418.0,968.9 L414.0,972.1 L410.0,975.3 L406.0,978.6 L402.0,982.0 L398.0,985.5 L394.0,989.0 L390.0,992.6 L386.0,996.3 L382.0,1000.1 L378.0,1004.1 L374.0,1008.2 L370.0,1012.5 L366.0,1016.9 L362.0,1021.5 L358.0,1026.4 L354.0,1031.5 L350.0,1036.8 L346.0,1042.4 L342.0,1048.2 L338.0,1054.2 L334.0,1060.7 L330.0,1067.6 L329.0,1069.5 L328.0,1071.4 L327.0,1073.3 L326.0,1075.2 L325.0,1077.2 L324.0,1079.1 L323.0,1081.2 L322.0,1083.2 L321.0,1085.3 L320.0,1087.4 L319.0,1089.6 L318.0,1091.8 L317.0,1094.0 L316.0,1096.2 L315.0,1098.4 L314.0,1100.6 L313.0,1102.8 L312.0,1104.9 L311.0,1107.1 L310.0,1109.3 L309.0,1111.4 L308.0,1113.6 L307.0,1115.8 L306.0,1117.9 L304.8,1120.5" fill="none" stroke="#ff0080" stroke-width="7.5" stroke-linejoin="round" stroke-linecap="round" />
</g>
<rect x="290.80" y="13.20" width="1517.40" height="5.40" fill="#000"/>
<rect x="290.80" y="1136.10" width="1517.40" height="5.40" fill="#000"/>
<rect x="290.80" y="13.20" width="5.40" height="1128.30" fill="#000"/>
<rect x="1802.80" y="13.20" width="5.40" height="1128.30" fill="#000"/>
<rect x="267.00" y="92.50" width="25.00" height="5.40" rx="2.2" fill="#000"/>
<rect x="267.00" y="291.50" width="25.00" height="5.40" rx="2.2" fill="#000"/>
<rect x="267.00" y="490.50" width="25.00" height="5.40" rx="2.2" fill="#000"/>
<rect x="267.00" y="689.50" width="25.00" height="5.40" rx="2.2" fill="#000"/>
<rect x="267.00" y="888.50" width="25.00" height="5.40" rx="2.2" fill="#000"/>
<rect x="267.00" y="1087.50" width="25.00" height="5.40" rx="2.2" fill="#000"/>
<rect x="278.60" y="192.00" width="13.50" height="5.40" rx="2.2" fill="#000"/>
<rect x="278.60" y="391.00" width="13.50" height="5.40" rx="2.2" fill="#000"/>
<rect x="278.60" y="590.00" width="13.50" height="5.40" rx="2.2" fill="#000"/>
<rect x="278.60" y="789.00" width="13.50" height="5.40" rx="2.2" fill="#000"/>
<rect x="278.60" y="988.00" width="13.50" height="5.40" rx="2.2" fill="#000"/>
<rect x="301.90" y="1140.00" width="5.40" height="22.50" rx="2.2" fill="#000"/>
<rect x="600.00" y="1140.00" width="5.40" height="22.50" rx="2.2" fill="#000"/>
<rect x="898.10" y="1140.00" width="5.40" height="22.50" rx="2.2" fill="#000"/>
<rect x="1196.20" y="1140.00" width="5.40" height="22.50" rx="2.2" fill="#000"/>
<rect x="1494.30" y="1140.00" width="5.40" height="22.50" rx="2.2" fill="#000"/>
<rect x="1792.40" y="1140.00" width="5.40" height="22.50" rx="2.2" fill="#000"/>
<rect x="450.95" y="1140.00" width="5.40" height="13.00" rx="2.2" fill="#000"/>
<rect x="749.05" y="1140.00" width="5.40" height="13.00" rx="2.2" fill="#000"/>
<rect x="1047.15" y="1140.00" width="5.40" height="13.00" rx="2.2" fill="#000"/>
<rect x="1345.25" y="1140.00" width="5.40" height="13.00" rx="2.2" fill="#000"/>
<rect x="1643.35" y="1140.00" width="5.40" height="13.00" rx="2.2" fill="#000"/>
<text transform="translate(176.44,107.92) scale(1.0946,1)" font-family='"Liberation Sans", sans-serif' font-weight="normal" font-size="42.83" fill="#000"  stroke="#000" stroke-width="0.7" stroke-linejoin="round">600</text>
<text transform="translate(176.43,306.92) scale(1.0948,1)" font-family='"Liberation Sans", sans-serif' font-weight="normal" font-size="42.83" fill="#000"  stroke="#000" stroke-width="0.7" stroke-linejoin="round">400</text>
<text transform="translate(176.44,505.92) scale(1.0946,1)" font-family='"Liberation Sans", sans-serif' font-weight="normal" font-size="42.83" fill="#000"  stroke="#000" stroke-width="0.7" stroke-linejoin="round">200</text>
<text transform="translate(229.12,704.92) scale(1.0707,1)" font-family='"Liberation Sans", sans-serif' font-weight="normal" font-size="42.83" fill="#000"  stroke="#000" stroke-width="0.7" stroke-linejoin="round">0</text>
<text transform="translate(160.70,903.92) scale(1.0964,1)" font-family='"Liberation Sans", sans-serif' font-weight="normal" font-size="42.83" fill="#000"  stroke="#000" stroke-width="0.7" stroke-linejoin="round">-200</text>
<text transform="translate(160.70,1102.92) scale(1.0964,1)" font-family='"Liberation Sans", sans-serif' font-weight="normal" font-size="42.83" fill="#000"  stroke="#000" stroke-width="0.7" stroke-linejoin="round">-400</text>
<text transform="translate(264.10,1207.48) scale(1.0953,1)" font-family='"Liberation Sans", sans-serif' font-weight="normal" font-size="42.81" fill="#000"  stroke="#000" stroke-width="0.7" stroke-linejoin="round">-1.5</text>
<text transform="translate(562.14,1207.92) scale(1.0950,1)" font-family='"Liberation Sans", sans-serif' font-weight="normal" font-size="42.83" fill="#000"  stroke="#000" stroke-width="0.7" stroke-linejoin="round">-1.0</text>
<text transform="translate(860.30,1207.92) scale(1.0950,1)" font-family='"Liberation Sans", sans-serif' font-weight="normal" font-size="42.83" fill="#000"  stroke="#000" stroke-width="0.7" stroke-linejoin="round">-0.5</text>
<text transform="translate(1166.32,1207.92) scale(1.0925,1)" font-family='"Liberation Sans", sans-serif' font-weight="normal" font-size="42.83" fill="#000"  stroke="#000" stroke-width="0.7" stroke-linejoin="round">0.0</text>
<text transform="translate(1464.48,1207.92) scale(1.0925,1)" font-family='"Liberation Sans", sans-serif' font-weight="normal" font-size="42.83" fill="#000"  stroke="#000" stroke-width="0.7" stroke-linejoin="round">0.5</text>
<text transform="translate(1761.72,1207.92) scale(1.0922,1)" font-family='"Liberation Sans", sans-serif' font-weight="normal" font-size="42.83" fill="#000"  stroke="#000" stroke-width="0.7" stroke-linejoin="round">1.0</text>
<text transform="translate(885.15,1293.33) scale(1.0985,1)" font-family='"Liberation Sans", sans-serif' font-weight="normal" font-size="51.84" fill="#000"  stroke="#000" stroke-width="0.7" stroke-linejoin="round">E / V vs.SCE</text>
<text transform="translate(71.60,645.49) rotate(-90) scale(1.0054,1)" font-family='"Liberation Sans", sans-serif' font-weight="normal" font-size="49.87" fill="#000"  stroke="#000" stroke-width="0.7" stroke-linejoin="round">I / µA</text>
<text transform="translate(1299.52,150.09) scale(1.1120,1)" font-family='"Liberation Sans", sans-serif' font-weight="normal" font-size="46.12" fill="#000"  stroke="#000" stroke-width="0.7" stroke-linejoin="round">AMX concentration</text>
<text transform="translate(1385.47,205.96) scale(1.1632,1)" font-family='"Liberation Sans", sans-serif' font-weight="normal" font-size="44.29" fill="#000"  stroke="#000" stroke-width="0.7" stroke-linejoin="round">increasing</text>
<line x1="1507.00" y1="521.70" x2="1507.00" y2="273.00" stroke="#000" stroke-width="2.2" stroke-linecap="butt" />
<polygon points="1507.0,245.0 1515.0,275.0 1499.0,275.0" fill="#000"/>
<line x1="1455.00" y1="594.30" x2="1351.28" y2="531.76" stroke="#000" stroke-width="2.9" stroke-linecap="butt" />
<polygon points="1327.3,517.3 1357.1,525.9 1348.9,539.6" fill="#000"/>
<line x1="590.00" y1="934.70" x2="771.68" y2="1012.93" stroke="#000" stroke-width="2.9" stroke-linecap="butt" />
<polygon points="797.4,1024.0 766.7,1019.5 773.0,1004.8" fill="#000"/>
<line x1="1512.20" y1="738.80" x2="1543.38" y2="766.40" stroke="#000" stroke-width="3.0" stroke-linecap="butt" />
<polygon points="1563.6,784.3 1536.4,771.3 1547.4,758.9" fill="#000"/>
<clipPath id="c1"><rect x="446.7" y="25.0" width="827.5999999999999" height="473.3"/></clipPath>
<rect x="445.20" y="23.50" width="830.60" height="476.30" fill="#fff"/>
<g clip-path="url(#c1)">
<path d="M446.7,492.7 L450.7,492.4 L454.7,492.1 L458.7,491.8 L462.7,491.4 L466.7,491.1 L470.7,490.7 L474.7,490.3 L478.7,489.9 L482.7,489.5 L486.7,489.0 L490.7,488.6 L494.7,488.1 L498.7,487.7 L502.7,487.2 L506.7,486.7 L510.7,486.2 L514.7,485.7 L518.7,485.1 L522.7,484.6 L526.7,484.0 L530.7,483.5 L534.7,482.9 L538.7,482.4 L542.7,481.8 L546.7,481.2 L550.7,480.6 L554.7,480.0 L558.7,479.4 L562.7,478.7 L566.7,478.0 L570.7,477.3 L574.7,476.6 L578.7,475.9 L582.7,475.2 L586.7,474.4 L590.7,473.6 L594.7,472.8 L598.7,472.0 L602.7,471.2 L606.7,470.3 L610.7,469.4 L614.7,468.5 L618.7,467.6 L622.7,466.7 L626.7,465.8 L630.7,464.9 L634.7,463.9 L638.7,462.9 L642.7,462.0 L646.7,461.0 L650.7,460.0 L654.7,458.9 L658.7,457.9 L662.7,456.8 L666.7,455.7 L670.7,454.6 L674.7,453.4 L678.7,452.2 L682.7,451.0 L686.7,449.8 L690.7,448.5 L694.7,447.2 L698.7,445.9 L702.7,444.6 L706.7,443.2 L710.7,441.8 L714.7,440.5 L718.7,439.0 L722.7,437.6 L726.7,436.2 L730.7,434.7 L734.7,433.3 L738.7,431.8 L742.7,430.3 L746.7,428.8 L750.7,427.3 L754.7,425.8 L758.7,424.2 L762.7,422.7 L766.7,421.1 L770.7,419.5 L774.7,417.9 L778.7,416.2 L782.7,414.6 L786.7,412.9 L790.7,411.2 L794.7,409.4 L798.7,407.7 L802.7,405.9 L806.7,404.1 L810.7,402.3 L814.7,400.4 L818.7,398.6 L822.7,396.7 L826.7,394.8 L830.7,392.8 L834.7,390.9 L838.7,388.9 L842.7,387.0 L846.7,385.0 L850.7,382.9 L854.7,380.9 L858.7,378.8 L862.7,376.7 L866.7,374.6 L870.7,372.5 L874.7,370.3 L878.7,368.1 L882.7,365.9 L886.7,363.6 L890.7,361.4 L894.7,359.1 L898.7,356.8 L902.7,354.4 L906.7,352.1 L910.7,349.7 L914.7,347.4 L918.7,345.0 L922.7,342.6 L926.7,340.1 L930.7,337.7 L934.7,335.2 L938.7,332.8 L942.7,330.3 L946.7,327.8 L950.7,325.3 L954.7,322.8 L958.7,320.3 L962.7,317.7 L966.7,315.2 L970.7,312.7 L974.7,310.1 L978.7,307.6 L982.7,305.0 L986.7,302.5 L990.7,299.9 L994.7,297.4 L998.7,294.8 L1002.7,292.2 L1006.7,289.7 L1010.7,287.1 L1014.7,284.6 L1018.7,282.0 L1022.7,279.5 L1026.7,276.9 L1030.7,274.3 L1034.7,271.7 L1038.7,269.1 L1042.7,266.5 L1046.7,263.9 L1050.7,261.3 L1054.7,258.7 L1058.7,256.0 L1062.7,253.4 L1066.7,250.7 L1070.7,248.0 L1074.7,245.4 L1078.7,242.7 L1082.7,240.0 L1086.7,237.3 L1090.7,234.6 L1094.7,231.8 L1098.7,229.1 L1102.7,226.3 L1106.7,223.6 L1110.7,220.8 L1114.7,218.0 L1118.7,215.2 L1122.7,212.4 L1126.7,209.6 L1130.7,206.8 L1134.7,204.0 L1138.7,201.1 L1142.7,198.2 L1146.7,195.4 L1150.7,192.5 L1154.7,189.6 L1158.7,186.7 L1162.7,183.7 L1166.7,180.8 L1170.7,177.8 L1174.7,174.8 L1178.7,171.8 L1182.7,168.8 L1186.7,165.7 L1190.7,162.7 L1194.7,159.6 L1198.7,156.5 L1202.7,153.4 L1206.7,150.3 L1210.7,147.2 L1214.7,144.1 L1218.7,141.0 L1222.7,137.8 L1226.7,134.7 L1230.7,131.6 L1234.7,128.4 L1238.7,125.3 L1242.7,122.1 L1246.7,119.0 L1250.7,115.8 L1254.7,112.7 L1258.7,109.5 L1262.7,106.4 L1266.7,103.3 L1270.7,100.1 L1274.7,97.0 L1278.7,93.9 L1282.7,90.7 L1286.7,87.5 L1290.7,84.4 L1294.7,81.2 L1298.7,78.0" fill="none" stroke="#000000" stroke-width="3.6" stroke-linejoin="round" stroke-linecap="round" />
<path d="M446.7,487.3 L450.7,486.8 L454.7,486.3 L458.7,485.8 L462.7,485.2 L466.7,484.6 L470.7,484.0 L474.7,483.3 L478.7,482.6 L482.7,481.9 L486.7,481.2 L490.7,480.4 L494.7,479.6 L498.7,478.8 L502.7,478.0 L506.7,477.1 L510.7,476.2 L514.7,475.3 L518.7,474.4 L522.7,473.5 L526.7,472.5 L530.7,471.6 L534.7,470.6 L538.7,469.6 L542.7,468.6 L546.7,467.6 L550.7,466.5 L554.7,465.4 L558.7,464.3 L562.7,463.1 L566.7,461.9 L570.7,460.6 L574.7,459.2 L578.7,457.8 L582.7,456.4 L586.7,455.0 L590.7,453.5 L594.7,451.9 L598.7,450.4 L602.7,448.8 L606.7,447.2 L610.7,445.6 L614.7,444.0 L618.7,442.4 L622.7,440.7 L626.7,439.1 L630.7,437.4 L634.7,435.8 L638.7,434.2 L642.7,432.5 L646.7,430.9 L650.7,429.3 L654.7,427.7 L658.7,426.2 L662.7,424.6 L666.7,423.0 L670.7,421.4 L674.7,419.8 L678.7,418.2 L682.7,416.6 L686.7,414.9 L690.7,413.3 L694.7,411.7 L698.7,410.0 L702.7,408.4 L706.7,406.7 L710.7,405.0 L714.7,403.3 L718.7,401.6 L722.7,399.9 L726.7,398.2 L730.7,396.5 L734.7,394.8 L738.7,393.0 L742.7,391.3 L746.7,389.5 L750.7,387.7 L754.7,385.9 L758.7,384.1 L762.7,382.3 L766.7,380.5 L770.7,378.6 L774.7,376.8 L778.7,375.0 L782.7,373.1 L786.7,371.2 L790.7,369.4 L794.7,367.5 L798.7,365.6 L802.7,363.6 L806.7,361.7 L810.7,359.7 L814.7,357.8 L818.7,355.8 L822.7,353.8 L826.7,351.7 L830.7,349.6 L834.7,347.6 L838.7,345.4 L842.7,343.3 L846.7,341.1 L850.7,338.9 L854.7,336.7 L858.7,334.4 L862.7,332.1 L866.7,329.8 L870.7,327.5 L874.7,325.1 L878.7,322.7 L882.7,320.3 L886.7,317.9 L890.7,315.4 L894.7,313.0 L898.7,310.5 L902.7,307.9 L906.7,305.4 L910.7,302.8 L914.7,300.3 L918.7,297.7 L922.7,295.0 L926.7,292.4 L930.7,289.8 L934.7,287.1 L938.7,284.4 L942.7,281.7 L946.7,279.0 L950.7,276.3 L954.7,273.6 L958.7,270.8 L962.7,268.1 L966.7,265.3 L970.7,262.5 L974.7,259.7 L978.7,256.9 L982.7,254.1 L986.7,251.3 L990.7,248.5 L994.7,245.7 L998.7,242.8 L1002.7,240.0 L1006.7,237.1 L1010.7,234.3 L1014.7,231.4 L1018.7,228.6 L1022.7,225.7 L1026.7,222.8 L1030.7,219.9 L1034.7,217.0 L1038.7,214.0 L1042.7,211.1 L1046.7,208.1 L1050.7,205.1 L1054.7,202.1 L1058.7,199.1 L1062.7,196.0 L1066.7,193.0 L1070.7,189.9 L1074.7,186.8 L1078.7,183.7 L1082.7,180.6 L1086.7,177.5 L1090.7,174.4 L1094.7,171.2 L1098.7,168.1 L1102.7,164.9 L1106.7,161.8 L1110.7,158.6 L1114.7,155.4 L1118.7,152.2 L1122.7,149.0 L1126.7,145.8 L1130.7,142.6 L1134.7,139.3 L1138.7,136.1 L1142.7,132.8 L1146.7,129.6 L1150.7,126.3 L1154.7,123.1 L1158.7,119.8 L1162.7,116.5 L1166.7,113.3 L1170.7,110.0 L1174.7,106.7 L1178.7,103.4 L1182.7,100.1 L1186.7,96.8 L1190.7,93.5 L1194.7,90.2 L1198.7,87.0 L1202.7,83.7 L1206.7,80.4 L1210.7,77.1 L1214.7,73.8 L1218.7,70.5 L1222.7,67.2 L1226.7,63.9 L1230.7,60.6 L1234.7,57.3 L1238.7,54.0 L1242.7,50.8 L1246.7,47.5 L1250.7,44.2 L1254.7,40.9 L1258.7,37.7 L1262.7,34.4 L1266.7,31.2 L1270.7,27.9 L1274.7,24.7 L1278.7,21.4 L1282.7,18.2 L1286.7,14.9 L1290.7,11.6 L1294.7,8.3 L1298.7,5.1" fill="none" stroke="#ff0000" stroke-width="3.6" stroke-linejoin="round" stroke-linecap="round" />
<path d="M446.7,481.0 L450.7,480.5 L454.7,480.0 L458.7,479.4 L462.7,478.8 L466.7,478.1 L470.7,477.4 L474.7,476.7 L478.7,475.9 L482.7,475.1 L486.7,474.3 L490.7,473.4 L494.7,472.5 L498.7,471.5 L502.7,470.6 L506.7,469.6 L510.7,468.5 L514.7,467.5 L518.7,466.4 L522.7,465.3 L526.7,464.2 L530.7,463.0 L534.7,461.9 L538.7,460.7 L542.7,459.5 L546.7,458.3 L550.7,457.1 L554.7,455.8 L558.7,454.4 L562.7,453.0 L566.7,451.4 L570.7,449.9 L574.7,448.2 L578.7,446.5 L582.7,444.7 L586.7,442.9 L590.7,441.0 L594.7,439.1 L598.7,437.1 L602.7,435.2 L606.7,433.2 L610.7,431.1 L614.7,429.1 L618.7,427.1 L622.7,425.1 L626.7,423.0 L630.7,421.0 L634.7,419.0 L638.7,417.0 L642.7,415.0 L646.7,413.1 L650.7,411.2 L654.7,409.4 L658.7,407.5 L662.7,405.7 L666.7,403.8 L670.7,402.0 L674.7,400.2 L678.7,398.3 L682.7,396.5 L686.7,394.7 L690.7,392.8 L694.7,391.0 L698.7,389.1 L702.7,387.3 L706.7,385.4 L710.7,383.6 L714.7,381.7 L718.7,379.9 L722.7,378.0 L726.7,376.1 L730.7,374.2 L734.7,372.3 L738.7,370.4 L742.7,368.5 L746.7,366.6 L750.7,364.6 L754.7,362.7 L758.7,360.7 L762.7,358.8 L766.7,356.8 L770.7,354.8 L774.7,352.9 L778.7,350.9 L782.7,348.9 L786.7,347.0 L790.7,345.0 L794.7,343.0 L798.7,341.0 L802.7,338.9 L806.7,336.9 L810.7,334.8 L814.7,332.8 L818.7,330.7 L822.7,328.6 L826.7,326.4 L830.7,324.2 L834.7,322.0 L838.7,319.8 L842.7,317.5 L846.7,315.2 L850.7,312.9 L854.7,310.5 L858.7,308.1 L862.7,305.7 L866.7,303.2 L870.7,300.7 L874.7,298.2 L878.7,295.6 L882.7,293.1 L886.7,290.5 L890.7,287.8 L894.7,285.2 L898.7,282.5 L902.7,279.8 L906.7,277.1 L910.7,274.3 L914.7,271.6 L918.7,268.8 L922.7,266.0 L926.7,263.2 L930.7,260.3 L934.7,257.5 L938.7,254.6 L942.7,251.7 L946.7,248.8 L950.7,245.9 L954.7,243.0 L958.7,240.1 L962.7,237.1 L966.7,234.2 L970.7,231.2 L974.7,228.2 L978.7,225.2 L982.7,222.2 L986.7,219.3 L990.7,216.3 L994.7,213.3 L998.7,210.2 L1002.7,207.2 L1006.7,204.2 L1010.7,201.2 L1014.7,198.2 L1018.7,195.2 L1022.7,192.2 L1026.7,189.1 L1030.7,186.1 L1034.7,183.0 L1038.7,179.9 L1042.7,176.8 L1046.7,173.6 L1050.7,170.5 L1054.7,167.3 L1058.7,164.2 L1062.7,161.0 L1066.7,157.8 L1070.7,154.6 L1074.7,151.4 L1078.7,148.1 L1082.7,144.9 L1086.7,141.6 L1090.7,138.4 L1094.7,135.1 L1098.7,131.8 L1102.7,128.5 L1106.7,125.2 L1110.7,121.9 L1114.7,118.6 L1118.7,115.2 L1122.7,111.9 L1126.7,108.6 L1130.7,105.2 L1134.7,101.9 L1138.7,98.5 L1142.7,95.2 L1146.7,91.8 L1150.7,88.4 L1154.7,85.1 L1158.7,81.7 L1162.7,78.3 L1166.7,74.9 L1170.7,71.6 L1174.7,68.2 L1178.7,64.8 L1182.7,61.4 L1186.7,58.1 L1190.7,54.7 L1194.7,51.3 L1198.7,47.9 L1202.7,44.6 L1206.7,41.2 L1210.7,37.8 L1214.7,34.5 L1218.7,31.1 L1222.7,27.8 L1226.7,24.4 L1230.7,21.1 L1234.7,17.7 L1238.7,14.3 L1242.7,10.9 L1246.7,7.5 L1250.7,4.1" fill="none" stroke="#0000ff" stroke-width="3.6" stroke-linejoin="round" stroke-linecap="round" />
<path d="M446.7,478.3 L450.7,477.5 L454.7,476.7 L458.7,475.8 L462.7,474.9 L466.7,473.9 L470.7,472.9 L474.7,471.9 L478.7,470.8 L482.7,469.7 L486.7,468.5 L490.7,467.4 L494.7,466.2 L498.7,464.9 L502.7,463.6 L506.7,462.3 L510.7,461.0 L514.7,459.7 L518.7,458.3 L522.7,456.9 L526.7,455.4 L530.7,454.0 L534.7,452.5 L538.7,451.0 L542.7,449.5 L546.7,448.0 L550.7,446.4 L554.7,444.8 L558.7,443.1 L562.7,441.3 L566.7,439.5 L570.7,437.5 L574.7,435.5 L578.7,433.5 L582.7,431.4 L586.7,429.2 L590.7,427.1 L594.7,424.8 L598.7,422.6 L602.7,420.3 L606.7,418.0 L610.7,415.7 L614.7,413.4 L618.7,411.0 L622.7,408.7 L626.7,406.4 L630.7,404.1 L634.7,401.8 L638.7,399.6 L642.7,397.4 L646.7,395.2 L650.7,393.1 L654.7,391.0 L658.7,388.9 L662.7,386.8 L666.7,384.8 L670.7,382.7 L674.7,380.7 L678.7,378.7 L682.7,376.6 L686.7,374.6 L690.7,372.6 L694.7,370.6 L698.7,368.5 L702.7,366.5 L706.7,364.5 L710.7,362.5 L714.7,360.5 L718.7,358.5 L722.7,356.5 L726.7,354.5 L730.7,352.4 L734.7,350.4 L738.7,348.4 L742.7,346.4 L746.7,344.4 L750.7,342.3 L754.7,340.3 L758.7,338.3 L762.7,336.3 L766.7,334.3 L770.7,332.3 L774.7,330.4 L778.7,328.4 L782.7,326.5 L786.7,324.6 L790.7,322.6 L794.7,320.7 L798.7,318.8 L802.7,316.8 L806.7,314.8 L810.7,312.9 L814.7,310.9 L818.7,308.8 L822.7,306.8 L826.7,304.7 L830.7,302.6 L834.7,300.4 L838.7,298.2 L842.7,295.9 L846.7,293.6 L850.7,291.3 L854.7,288.9 L858.7,286.4 L862.7,283.9 L866.7,281.4 L870.7,278.8 L874.7,276.2 L878.7,273.5 L882.7,270.8 L886.7,268.1 L890.7,265.3 L894.7,262.5 L898.7,259.6 L902.7,256.8 L906.7,253.9 L910.7,250.9 L914.7,248.0 L918.7,245.0 L922.7,242.0 L926.7,239.0 L930.7,235.9 L934.7,232.9 L938.7,229.8 L942.7,226.7 L946.7,223.6 L950.7,220.4 L954.7,217.3 L958.7,214.2 L962.7,211.0 L966.7,207.8 L970.7,204.7 L974.7,201.5 L978.7,198.3 L982.7,195.2 L986.7,192.0 L990.7,188.8 L994.7,185.6 L998.7,182.5 L1002.7,179.3 L1006.7,176.1 L1010.7,173.0 L1014.7,169.9 L1018.7,166.7 L1022.7,163.6 L1026.7,160.4 L1030.7,157.3 L1034.7,154.1 L1038.7,150.9 L1042.7,147.7 L1046.7,144.5 L1050.7,141.2 L1054.7,138.0 L1058.7,134.7 L1062.7,131.5 L1066.7,128.2 L1070.7,124.9 L1074.7,121.6 L1078.7,118.3 L1082.7,115.0 L1086.7,111.7 L1090.7,108.4 L1094.7,105.0 L1098.7,101.7 L1102.7,98.4 L1106.7,95.0 L1110.7,91.7 L1114.7,88.3 L1118.7,85.0 L1122.7,81.6 L1126.7,78.2 L1130.7,74.9 L1134.7,71.5 L1138.7,68.1 L1142.7,64.7 L1146.7,61.4 L1150.7,58.0 L1154.7,54.6 L1158.7,51.3 L1162.7,47.9 L1166.7,44.5 L1170.7,41.2 L1174.7,37.8 L1178.7,34.5 L1182.7,31.1 L1186.7,27.8 L1190.7,24.4 L1194.7,21.1 L1198.7,17.7 L1202.7,14.4 L1206.7,11.0 L1210.7,7.6 L1214.7,4.3" fill="none" stroke="#008080" stroke-width="3.6" stroke-linejoin="round" stroke-linecap="round" />
<path d="M446.7,477.3 L450.7,476.4 L454.7,475.5 L458.7,474.5 L462.7,473.5 L466.7,472.4 L470.7,471.3 L474.7,470.2 L478.7,469.0 L482.7,467.8 L486.7,466.5 L490.7,465.3 L494.7,463.9 L498.7,462.6 L502.7,461.2 L506.7,459.8 L510.7,458.3 L514.7,456.8 L518.7,455.3 L522.7,453.8 L526.7,452.2 L530.7,450.6 L534.7,449.0 L538.7,447.4 L542.7,445.8 L546.7,444.1 L550.7,442.4 L554.7,440.6 L558.7,438.8 L562.7,436.8 L566.7,434.8 L570.7,432.7 L574.7,430.6 L578.7,428.3 L582.7,426.1 L586.7,423.7 L590.7,421.3 L594.7,418.9 L598.7,416.5 L602.7,414.0 L606.7,411.5 L610.7,409.0 L614.7,406.5 L618.7,404.0 L622.7,401.5 L626.7,399.0 L630.7,396.6 L634.7,394.1 L638.7,391.7 L642.7,389.4 L646.7,387.0 L650.7,384.7 L654.7,382.5 L658.7,380.3 L662.7,378.1 L666.7,376.0 L670.7,373.8 L674.7,371.7 L678.7,369.5 L682.7,367.4 L686.7,365.3 L690.7,363.2 L694.7,361.1 L698.7,359.0 L702.7,356.9 L706.7,354.8 L710.7,352.7 L714.7,350.6 L718.7,348.5 L722.7,346.4 L726.7,344.3 L730.7,342.2 L734.7,340.1 L738.7,338.0 L742.7,335.8 L746.7,333.7 L750.7,331.5 L754.7,329.4 L758.7,327.2 L762.7,325.1 L766.7,322.9 L770.7,320.8 L774.7,318.7 L778.7,316.6 L782.7,314.4 L786.7,312.3 L790.7,310.2 L794.7,308.1 L798.7,305.9 L802.7,303.8 L806.7,301.7 L810.7,299.5 L814.7,297.3 L818.7,295.1 L822.7,292.8 L826.7,290.6 L830.7,288.3 L834.7,285.9 L838.7,283.6 L842.7,281.2 L846.7,278.7 L850.7,276.3 L854.7,273.7 L858.7,271.2 L862.7,268.6 L866.7,266.0 L870.7,263.3 L874.7,260.7 L878.7,258.0 L882.7,255.2 L886.7,252.5 L890.7,249.7 L894.7,246.9 L898.7,244.0 L902.7,241.2 L906.7,238.3 L910.7,235.4 L914.7,232.4 L918.7,229.5 L922.7,226.5 L926.7,223.5 L930.7,220.5 L934.7,217.5 L938.7,214.5 L942.7,211.4 L946.7,208.4 L950.7,205.3 L954.7,202.2 L958.7,199.1 L962.7,196.0 L966.7,192.9 L970.7,189.7 L974.7,186.6 L978.7,183.4 L982.7,180.3 L986.7,177.1 L990.7,173.9 L994.7,170.8 L998.7,167.6 L1002.7,164.4 L1006.7,161.2 L1010.7,158.1 L1014.7,154.9 L1018.7,151.7 L1022.7,148.5 L1026.7,145.3 L1030.7,142.0 L1034.7,138.8 L1038.7,135.5 L1042.7,132.2 L1046.7,128.8 L1050.7,125.5 L1054.7,122.1 L1058.7,118.7 L1062.7,115.4 L1066.7,111.9 L1070.7,108.5 L1074.7,105.1 L1078.7,101.6 L1082.7,98.2 L1086.7,94.7 L1090.7,91.3 L1094.7,87.8 L1098.7,84.3 L1102.7,80.8 L1106.7,77.3 L1110.7,73.8 L1114.7,70.3 L1118.7,66.8 L1122.7,63.3 L1126.7,59.8 L1130.7,56.3 L1134.7,52.8 L1138.7,49.3 L1142.7,45.8 L1146.7,42.3 L1150.7,38.8 L1154.7,35.4 L1158.7,31.9 L1162.7,28.4 L1166.7,25.0 L1170.7,21.6 L1174.7,18.1 L1178.7,14.6 L1182.7,11.2 L1186.7,7.7 L1190.7,4.3" fill="none" stroke="#ff00ff" stroke-width="3.6" stroke-linejoin="round" stroke-linecap="round" />
<path d="M446.7,476.7 L450.7,475.7 L454.7,474.7 L458.7,473.6 L462.7,472.5 L466.7,471.4 L470.7,470.2 L474.7,468.9 L478.7,467.7 L482.7,466.3 L486.7,465.0 L490.7,463.6 L494.7,462.2 L498.7,460.7 L502.7,459.2 L506.7,457.7 L510.7,456.1 L514.7,454.5 L518.7,452.9 L522.7,451.2 L526.7,449.5 L530.7,447.8 L534.7,446.1 L538.7,444.4 L542.7,442.6 L546.7,440.8 L550.7,439.0 L554.7,437.1 L558.7,435.1 L562.7,433.0 L566.7,430.9 L570.7,428.6 L574.7,426.3 L578.7,423.9 L582.7,421.5 L586.7,419.0 L590.7,416.4 L594.7,413.9 L598.7,411.3 L602.7,408.6 L606.7,406.0 L610.7,403.3 L614.7,400.6 L618.7,398.0 L622.7,395.3 L626.7,392.7 L630.7,390.1 L634.7,387.5 L638.7,384.9 L642.7,382.4 L646.7,379.9 L650.7,377.5 L654.7,375.2 L658.7,372.9 L662.7,370.6 L666.7,368.3 L670.7,366.0 L674.7,363.8 L678.7,361.5 L682.7,359.3 L686.7,357.1 L690.7,354.9 L694.7,352.7 L698.7,350.5 L702.7,348.3 L706.7,346.1 L710.7,343.9 L714.7,341.7 L718.7,339.5 L722.7,337.3 L726.7,335.1 L730.7,332.9 L734.7,330.7 L738.7,328.5 L742.7,326.2 L746.7,324.0 L750.7,321.7 L754.7,319.4 L758.7,317.2 L762.7,314.9 L766.7,312.6 L770.7,310.3 L774.7,308.1 L778.7,305.8 L782.7,303.5 L786.7,301.3 L790.7,299.0 L794.7,296.7 L798.7,294.4 L802.7,292.1 L806.7,289.8 L810.7,287.5 L814.7,285.1 L818.7,282.8 L822.7,280.4 L826.7,278.0 L830.7,275.5 L834.7,273.1 L838.7,270.6 L842.7,268.0 L846.7,265.5 L850.7,262.8 L854.7,260.2 L858.7,257.5 L862.7,254.8 L866.7,252.1 L870.7,249.4 L874.7,246.6 L878.7,243.8 L882.7,241.0 L886.7,238.1 L890.7,235.2 L894.7,232.4 L898.7,229.4 L902.7,226.5 L906.7,223.6 L910.7,220.6 L914.7,217.6 L918.7,214.6 L922.7,211.5 L926.7,208.5 L930.7,205.4 L934.7,202.4 L938.7,199.3 L942.7,196.2 L946.7,193.0 L950.7,189.9 L954.7,186.7 L958.7,183.6 L962.7,180.4 L966.7,177.2 L970.7,174.0 L974.7,170.8 L978.7,167.6 L982.7,164.4 L986.7,161.1 L990.7,157.9 L994.7,154.7 L998.7,151.4 L1002.7,148.1 L1006.7,144.9 L1010.7,141.6 L1014.7,138.3 L1018.7,135.1 L1022.7,131.8 L1026.7,128.4 L1030.7,125.1 L1034.7,121.7 L1038.7,118.2 L1042.7,114.8 L1046.7,111.3 L1050.7,107.9 L1054.7,104.4 L1058.7,100.9 L1062.7,97.3 L1066.7,93.8 L1070.7,90.2 L1074.7,86.6 L1078.7,83.1 L1082.7,79.5 L1086.7,75.9 L1090.7,72.3 L1094.7,68.6 L1098.7,65.0 L1102.7,61.4 L1106.7,57.8 L1110.7,54.2 L1114.7,50.6 L1118.7,47.0 L1122.7,43.4 L1126.7,39.8 L1130.7,36.2 L1134.7,32.6 L1138.7,29.1 L1142.7,25.5 L1146.7,22.0 L1150.7,18.4 L1154.7,14.9 L1158.7,11.4 L1162.7,7.8 L1166.7,4.3" fill="none" stroke="#808000" stroke-width="3.6" stroke-linejoin="round" stroke-linecap="round" />
<path d="M446.7,476.0 L450.7,475.0 L454.7,473.9 L458.7,472.8 L462.7,471.7 L466.7,470.5 L470.7,469.2 L474.7,467.9 L478.7,466.6 L482.7,465.2 L486.7,463.8 L490.7,462.3 L494.7,460.8 L498.7,459.3 L502.7,457.7 L506.7,456.1 L510.7,454.4 L514.7,452.7 L518.7,451.0 L522.7,449.3 L526.7,447.5 L530.7,445.7 L534.7,443.9 L538.7,442.0 L542.7,440.2 L546.7,438.3 L550.7,436.4 L554.7,434.4 L558.7,432.3 L562.7,430.0 L566.7,427.7 L570.7,425.4 L574.7,422.9 L578.7,420.4 L582.7,417.8 L586.7,415.1 L590.7,412.4 L594.7,409.6 L598.7,406.9 L602.7,404.1 L606.7,401.2 L610.7,398.4 L614.7,395.5 L618.7,392.7 L622.7,389.9 L626.7,387.0 L630.7,384.3 L634.7,381.5 L638.7,378.8 L642.7,376.1 L646.7,373.5 L650.7,370.9 L654.7,368.4 L658.7,366.0 L662.7,363.5 L666.7,361.1 L670.7,358.7 L674.7,356.3 L678.7,354.0 L682.7,351.6 L686.7,349.3 L690.7,347.0 L694.7,344.6 L698.7,342.3 L702.7,340.0 L706.7,337.7 L710.7,335.4 L714.7,333.1 L718.7,330.8 L722.7,328.5 L726.7,326.1 L730.7,323.8 L734.7,321.5 L738.7,319.1 L742.7,316.7 L746.7,314.3 L750.7,311.9 L754.7,309.5 L758.7,307.1 L762.7,304.6 L766.7,302.2 L770.7,299.8 L774.7,297.3 L778.7,294.9 L782.7,292.4 L786.7,290.0 L790.7,287.5 L794.7,285.1 L798.7,282.6 L802.7,280.1 L806.7,277.6 L810.7,275.1 L814.7,272.5 L818.7,270.0 L822.7,267.4 L826.7,264.8 L830.7,262.2 L834.7,259.6 L838.7,256.9 L842.7,254.3 L846.7,251.6 L850.7,248.8 L854.7,246.1 L858.7,243.3 L862.7,240.5 L866.7,237.7 L870.7,234.9 L874.7,232.0 L878.7,229.2 L882.7,226.3 L886.7,223.4 L890.7,220.5 L894.7,217.6 L898.7,214.7 L902.7,211.7 L906.7,208.7 L910.7,205.8 L914.7,202.8 L918.7,199.8 L922.7,196.7 L926.7,193.7 L930.7,190.6 L934.7,187.6 L938.7,184.5 L942.7,181.4 L946.7,178.3 L950.7,175.2 L954.7,172.0 L958.7,168.9 L962.7,165.7 L966.7,162.5 L970.7,159.3 L974.7,156.1 L978.7,152.9 L982.7,149.7 L986.7,146.4 L990.7,143.2 L994.7,139.9 L998.7,136.6 L1002.7,133.3 L1006.7,130.0 L1010.7,126.7 L1014.7,123.4 L1018.7,120.0 L1022.7,116.6 L1026.7,113.2 L1030.7,109.8 L1034.7,106.3 L1038.7,102.8 L1042.7,99.2 L1046.7,95.7 L1050.7,92.1 L1054.7,88.5 L1058.7,84.8 L1062.7,81.2 L1066.7,77.5 L1070.7,73.8 L1074.7,70.1 L1078.7,66.4 L1082.7,62.7 L1086.7,59.0 L1090.7,55.2 L1094.7,51.5 L1098.7,47.8 L1102.7,44.1 L1106.7,40.3 L1110.7,36.6 L1114.7,32.9 L1118.7,29.2 L1122.7,25.6 L1126.7,21.9 L1130.7,18.2 L1134.7,14.5 L1138.7,10.8 L1142.7,7.1" fill="none" stroke="#000080" stroke-width="3.6" stroke-linejoin="round" stroke-linecap="round" />
<path d="M446.7,475.3 L450.7,474.2 L454.7,473.1 L458.7,472.0 L462.7,470.7 L466.7,469.5 L470.7,468.2 L474.7,466.8 L478.7,465.4 L482.7,463.9 L486.7,462.4 L490.7,460.9 L494.7,459.3 L498.7,457.7 L502.7,456.0 L506.7,454.3 L510.7,452.6 L514.7,450.8 L518.7,449.1 L522.7,447.2 L526.7,445.4 L530.7,443.5 L534.7,441.6 L538.7,439.6 L542.7,437.6 L546.7,435.7 L550.7,433.6 L554.7,431.5 L558.7,429.3 L562.7,427.0 L566.7,424.6 L570.7,422.1 L574.7,419.5 L578.7,416.8 L582.7,414.1 L586.7,411.3 L590.7,408.5 L594.7,405.6 L598.7,402.7 L602.7,399.8 L606.7,396.8 L610.7,393.8 L614.7,390.8 L618.7,387.8 L622.7,384.9 L626.7,381.9 L630.7,379.0 L634.7,376.1 L638.7,373.2 L642.7,370.4 L646.7,367.7 L650.7,365.0 L654.7,362.4 L658.7,359.8 L662.7,357.3 L666.7,354.7 L670.7,352.2 L674.7,349.7 L678.7,347.3 L682.7,344.8 L686.7,342.4 L690.7,339.9 L694.7,337.5 L698.7,335.1 L702.7,332.7 L706.7,330.2 L710.7,327.8 L714.7,325.4 L718.7,323.0 L722.7,320.6 L726.7,318.1 L730.7,315.7 L734.7,313.2 L738.7,310.7 L742.7,308.2 L746.7,305.7 L750.7,303.2 L754.7,300.6 L758.7,298.0 L762.7,295.4 L766.7,292.8 L770.7,290.2 L774.7,287.6 L778.7,284.9 L782.7,282.3 L786.7,279.7 L790.7,277.0 L794.7,274.3 L798.7,271.7 L802.7,269.0 L806.7,266.3 L810.7,263.5 L814.7,260.8 L818.7,258.1 L822.7,255.3 L826.7,252.5 L830.7,249.7 L834.7,246.9 L838.7,244.1 L842.7,241.2 L846.7,238.4 L850.7,235.5 L854.7,232.6 L858.7,229.7 L862.7,226.8 L866.7,223.8 L870.7,220.9 L874.7,218.0 L878.7,215.0 L882.7,212.0 L886.7,209.1 L890.7,206.1 L894.7,203.1 L898.7,200.1 L902.7,197.0 L906.7,194.0 L910.7,190.9 L914.7,187.9 L918.7,184.8 L922.7,181.7 L926.7,178.6 L930.7,175.5 L934.7,172.4 L938.7,169.3 L942.7,166.1 L946.7,162.9 L950.7,159.8 L954.7,156.6 L958.7,153.4 L962.7,150.1 L966.7,146.9 L970.7,143.6 L974.7,140.4 L978.7,137.1 L982.7,133.8 L986.7,130.4 L990.7,127.1 L994.7,123.8 L998.7,120.4 L1002.7,117.0 L1006.7,113.6 L1010.7,110.2 L1014.7,106.7 L1018.7,103.3 L1022.7,99.7 L1026.7,96.2 L1030.7,92.6 L1034.7,88.9 L1038.7,85.2 L1042.7,81.5 L1046.7,77.7 L1050.7,73.9 L1054.7,70.1 L1058.7,66.3 L1062.7,62.4 L1066.7,58.6 L1070.7,54.7 L1074.7,50.9 L1078.7,47.0 L1082.7,43.1 L1086.7,39.3 L1090.7,35.5 L1094.7,31.6 L1098.7,27.8 L1102.7,24.1 L1106.7,20.3 L1110.7,16.5 L1114.7,12.8 L1118.7,9.0 L1122.7,5.2" fill="none" stroke="#800000" stroke-width="3.6" stroke-linejoin="round" stroke-linecap="round" />
<path d="M446.7,474.3 L450.7,473.2 L454.7,472.1 L458.7,470.9 L462.7,469.6 L466.7,468.3 L470.7,467.0 L474.7,465.6 L478.7,464.1 L482.7,462.6 L486.7,461.1 L490.7,459.5 L494.7,457.9 L498.7,456.2 L502.7,454.5 L506.7,452.7 L510.7,450.9 L514.7,449.1 L518.7,447.3 L522.7,445.4 L526.7,443.4 L530.7,441.5 L534.7,439.5 L538.7,437.5 L542.7,435.5 L546.7,433.4 L550.7,431.3 L554.7,429.2 L558.7,426.9 L562.7,424.5 L566.7,422.0 L570.7,419.4 L574.7,416.7 L578.7,414.0 L582.7,411.2 L586.7,408.3 L590.7,405.4 L594.7,402.4 L598.7,399.4 L602.7,396.3 L606.7,393.3 L610.7,390.2 L614.7,387.1 L618.7,384.0 L622.7,380.9 L626.7,377.8 L630.7,374.8 L634.7,371.8 L638.7,368.8 L642.7,365.8 L646.7,362.9 L650.7,360.1 L654.7,357.3 L658.7,354.6 L662.7,351.9 L666.7,349.2 L670.7,346.5 L674.7,343.8 L678.7,341.1 L682.7,338.5 L686.7,335.8 L690.7,333.2 L694.7,330.5 L698.7,327.9 L702.7,325.3 L706.7,322.6 L710.7,320.0 L714.7,317.4 L718.7,314.7 L722.7,312.1 L726.7,309.4 L730.7,306.8 L734.7,304.1 L738.7,301.5 L742.7,298.8 L746.7,296.1 L750.7,293.4 L754.7,290.7 L758.7,287.9 L762.7,285.2 L766.7,282.5 L770.7,279.7 L774.7,277.0 L778.7,274.3 L782.7,271.6 L786.7,268.8 L790.7,266.1 L794.7,263.3 L798.7,260.6 L802.7,257.8 L806.7,255.0 L810.7,252.2 L814.7,249.4 L818.7,246.6 L822.7,243.8 L826.7,241.0 L830.7,238.1 L834.7,235.2 L838.7,232.3 L842.7,229.4 L846.7,226.4 L850.7,223.5 L854.7,220.5 L858.7,217.5 L862.7,214.5 L866.7,211.5 L870.7,208.5 L874.7,205.5 L878.7,202.4 L882.7,199.4 L886.7,196.3 L890.7,193.3 L894.7,190.2 L898.7,187.1 L902.7,184.0 L906.7,180.9 L910.7,177.8 L914.7,174.7 L918.7,171.5 L922.7,168.4 L926.7,165.2 L930.7,162.0 L934.7,158.8 L938.7,155.6 L942.7,152.4 L946.7,149.1 L950.7,145.9 L954.7,142.6 L958.7,139.3 L962.7,136.0 L966.7,132.7 L970.7,129.4 L974.7,126.1 L978.7,122.7 L982.7,119.3 L986.7,116.0 L990.7,112.6 L994.7,109.1 L998.7,105.7 L1002.7,102.2 L1006.7,98.8 L1010.7,95.3 L1014.7,91.8 L1018.7,88.2 L1022.7,84.6 L1026.7,81.0 L1030.7,77.3 L1034.7,73.6 L1038.7,69.8 L1042.7,66.0 L1046.7,62.1 L1050.7,58.3 L1054.7,54.4 L1058.7,50.5 L1062.7,46.6 L1066.7,42.7 L1070.7,38.8 L1074.7,34.9 L1078.7,31.0 L1082.7,27.2 L1086.7,23.4 L1090.7,19.6 L1094.7,15.7 L1098.7,11.9 L1102.7,8.1 L1106.7,4.3" fill="none" stroke="#ff0080" stroke-width="3.6" stroke-linejoin="round" stroke-linecap="round" />
</g>
<rect x="445.00" y="25.00" width="3.40" height="475.30" fill="#000"/>
<rect x="444.70" y="496.30" width="831.60" height="4.00" fill="#000"/>
<rect x="438.70" y="23.50" width="838.20" height="3.00" fill="#000"/>
<rect x="1273.70" y="25.00" width="3.20" height="475.30" fill="#000"/>
<rect x="431.70" y="229.10" width="13.00" height="3.20" fill="#000"/>
<rect x="436.70" y="436.70" width="8.00" height="3.20" fill="#000"/>
<rect x="444.90" y="498.30" width="3.60" height="11.00" fill="#000"/>
<rect x="548.35" y="498.30" width="3.60" height="11.00" fill="#000"/>
<rect x="651.80" y="498.30" width="3.60" height="11.00" fill="#000"/>
<rect x="755.25" y="498.30" width="3.60" height="11.00" fill="#000"/>
<rect x="858.70" y="498.30" width="3.60" height="11.00" fill="#000"/>
<rect x="962.15" y="498.30" width="3.60" height="11.00" fill="#000"/>
<rect x="1065.60" y="498.30" width="3.60" height="11.00" fill="#000"/>
<rect x="1169.05" y="498.30" width="3.60" height="11.00" fill="#000"/>
<rect x="1272.50" y="498.30" width="3.60" height="11.00" fill="#000"/>
<rect x="496.82" y="498.30" width="3.20" height="6.00" fill="#000"/>
<rect x="600.27" y="498.30" width="3.20" height="6.00" fill="#000"/>
<rect x="703.73" y="498.30" width="3.20" height="6.00" fill="#000"/>
<rect x="807.17" y="498.30" width="3.20" height="6.00" fill="#000"/>
<rect x="910.62" y="498.30" width="3.20" height="6.00" fill="#000"/>
<rect x="1014.07" y="498.30" width="3.20" height="6.00" fill="#000"/>
<rect x="1117.53" y="498.30" width="3.20" height="6.00" fill="#000"/>
<rect x="1220.98" y="498.30" width="3.20" height="6.00" fill="#000"/>
<text transform="translate(421.67,528.82) scale(1.4548,1)" font-family='"Liberation Sans", sans-serif' font-weight="normal" font-size="17.67" fill="#000" >0.40</text>
<text transform="translate(525.12,528.82) scale(1.4567,1)" font-family='"Liberation Sans", sans-serif' font-weight="normal" font-size="17.67" fill="#000" >0.45</text>
<text transform="translate(628.57,528.82) scale(1.4548,1)" font-family='"Liberation Sans", sans-serif' font-weight="normal" font-size="17.67" fill="#000" >0.50</text>
<text transform="translate(732.02,528.82) scale(1.4567,1)" font-family='"Liberation Sans", sans-serif' font-weight="normal" font-size="17.67" fill="#000" >0.55</text>
<text transform="translate(835.47,528.82) scale(1.4548,1)" font-family='"Liberation Sans", sans-serif' font-weight="normal" font-size="17.67" fill="#000" >0.60</text>
<text transform="translate(938.92,528.82) scale(1.4567,1)" font-family='"Liberation Sans", sans-serif' font-weight="normal" font-size="17.67" fill="#000" >0.65</text>
<text transform="translate(1042.37,528.82) scale(1.4548,1)" font-family='"Liberation Sans", sans-serif' font-weight="normal" font-size="17.67" fill="#000" >0.70</text>
<text transform="translate(1145.82,528.82) scale(1.4567,1)" font-family='"Liberation Sans", sans-serif' font-weight="normal" font-size="17.67" fill="#000" >0.75</text>
<text transform="translate(1249.27,528.82) scale(1.4548,1)" font-family='"Liberation Sans", sans-serif' font-weight="normal" font-size="17.67" fill="#000" >0.80</text>
<text transform="translate(382.55,236.63) scale(1.4863,1)" font-family='"Liberation Sans", sans-serif' font-weight="normal" font-size="16.82" fill="#000" >200</text>
<text transform="translate(334.22,284.88) rotate(-90) scale(1.0646,1)" font-family='"Liberation Sans", sans-serif' font-weight="normal" font-size="22.09" fill="#000" >I/µA</text>
<text transform="translate(779.12,565.08) scale(1.4349,1)" font-family='"Liberation Sans", sans-serif' font-weight="normal" font-size="21.77" fill="#000" >E/V vs.SCE</text>
<clipPath id="c2"><rect x="853.3" y="830.0" width="399.4000000000001" height="258.29999999999995"/></clipPath>
<rect x="853.30" y="830.00" width="399.40" height="258.30" fill="#fff"/>
<g clip-path="url(#c2)">
<path d="M853.3,953.3 L856.3,950.1 L859.3,946.9 L862.3,943.7 L865.3,940.7 L868.3,937.7 L871.3,934.9 L874.3,932.1 L877.3,929.4 L880.3,926.8 L883.3,924.3 L886.3,921.9 L889.3,919.6 L892.3,917.5 L895.3,915.4 L898.3,913.3 L901.3,911.4 L904.3,909.5 L907.3,907.6 L910.3,905.8 L913.3,904.0 L916.3,902.2 L919.3,900.4 L922.3,898.6 L925.3,896.9 L928.3,895.2 L931.3,893.5 L934.3,891.8 L937.3,890.2 L940.3,888.5 L943.3,886.9 L946.3,885.3 L949.3,883.8 L952.3,882.2 L955.3,880.6 L958.3,879.0 L961.3,877.5 L964.3,875.9 L967.3,874.4 L970.3,872.8 L973.3,871.3 L976.3,869.8 L979.3,868.4 L982.3,867.0 L985.3,865.6 L988.3,864.3 L991.3,863.0 L994.3,861.7 L997.3,860.5 L1000.3,859.3 L1003.3,858.1 L1006.3,856.9 L1009.3,855.8 L1012.3,854.6 L1015.3,853.5 L1018.3,852.3 L1021.3,851.2 L1024.3,850.0 L1027.3,848.9 L1030.3,847.7 L1033.3,846.6 L1036.3,845.5 L1039.3,844.4 L1042.3,843.3 L1045.3,842.2 L1048.3,841.1 L1051.3,840.1 L1054.3,839.0 L1057.3,837.9 L1060.3,836.8 L1063.3,835.8 L1066.3,834.7 L1069.3,833.6 L1072.3,832.6 L1075.3,831.6 L1078.3,830.6 L1081.3,829.6 L1084.3,828.6 L1087.3,827.6 L1090.3,826.7 L1093.3,825.7 L1096.3,824.8 L1099.3,823.9 L1102.3,823.0 L1105.3,822.1" fill="none" stroke="#000000" stroke-width="2.2" stroke-linejoin="round" stroke-linecap="round" />
<path d="M853.3,1028.3 L856.3,1025.7 L859.3,1023.2 L862.3,1020.6 L865.3,1018.1 L868.3,1015.7 L871.3,1013.3 L874.3,1010.9 L877.3,1008.6 L880.3,1006.3 L883.3,1004.1 L886.3,1001.9 L889.3,999.8 L892.3,997.7 L895.3,995.7 L898.3,993.7 L901.3,991.7 L904.3,989.8 L907.3,987.9 L910.3,986.0 L913.3,984.2 L916.3,982.3 L919.3,980.4 L922.3,978.5 L925.3,976.6 L928.3,974.8 L931.3,972.9 L934.3,971.0 L937.3,969.1 L940.3,967.3 L943.3,965.5 L946.3,963.8 L949.3,962.1 L952.3,960.5 L955.3,959.0 L958.3,957.5 L961.3,956.0 L964.3,954.6 L967.3,953.2 L970.3,951.8 L973.3,950.5 L976.3,949.2 L979.3,948.0 L982.3,946.7 L985.3,945.5 L988.3,944.3 L991.3,943.2 L994.3,942.1 L997.3,941.0 L1000.3,939.9 L1003.3,938.9 L1006.3,937.8 L1009.3,936.8 L1012.3,935.8 L1015.3,934.8 L1018.3,933.9 L1021.3,932.9 L1024.3,931.9 L1027.3,931.0 L1030.3,930.0 L1033.3,929.0 L1036.3,928.1 L1039.3,927.2 L1042.3,926.3 L1045.3,925.4 L1048.3,924.6 L1051.3,923.8 L1054.3,923.1 L1057.3,922.4 L1060.3,921.8 L1063.3,921.2 L1066.3,920.6 L1069.3,920.0 L1072.3,919.4 L1075.3,918.9 L1078.3,918.3 L1081.3,917.7 L1084.3,917.1 L1087.3,916.5 L1090.3,915.9 L1093.3,915.3 L1096.3,914.6 L1099.3,914.0 L1102.3,913.4 L1105.3,912.7 L1108.3,912.1 L1111.3,911.4 L1114.3,910.7 L1117.3,910.0 L1120.3,909.3 L1123.3,908.5 L1126.3,907.8 L1129.3,907.0 L1132.3,906.2 L1135.3,905.4 L1138.3,904.6 L1141.3,903.8 L1144.3,902.9 L1147.3,902.0 L1150.3,901.0 L1153.3,900.0 L1156.3,898.9 L1159.3,897.8 L1162.3,896.7 L1165.3,895.4 L1168.3,894.1 L1171.3,892.8 L1174.3,891.4 L1177.3,889.9 L1180.3,888.4 L1183.3,886.8 L1186.3,885.2 L1189.3,883.4 L1192.3,881.5 L1195.3,879.5 L1198.3,877.4 L1201.3,875.1 L1204.3,872.8 L1207.3,870.4 L1210.3,868.0 L1213.3,865.5 L1216.3,863.0 L1219.3,860.6 L1222.3,858.1 L1225.3,855.5 L1228.3,852.9 L1231.3,850.3 L1234.3,847.5 L1237.3,844.8 L1240.3,842.0 L1243.3,839.1 L1246.3,836.3 L1249.3,833.3 L1252.3,830.3" fill="none" stroke="#ff0000" stroke-width="2.2" stroke-linejoin="round" stroke-linecap="round" />
<path d="M853.3,1050.0 L856.3,1047.2 L859.3,1044.5 L862.3,1041.8 L865.3,1039.2 L868.3,1036.6 L871.3,1034.0 L874.3,1031.5 L877.3,1029.1 L880.3,1026.6 L883.3,1024.3 L886.3,1021.9 L889.3,1019.6 L892.3,1017.3 L895.3,1015.1 L898.3,1012.9 L901.3,1010.7 L904.3,1008.5 L907.3,1006.4 L910.3,1004.4 L913.3,1002.4 L916.3,1000.5 L919.3,998.7 L922.3,997.0 L925.3,995.3 L928.3,993.7 L931.3,992.2 L934.3,990.7 L937.3,989.2 L940.3,987.8 L943.3,986.4 L946.3,985.0 L949.3,983.5 L952.3,982.1 L955.3,980.7 L958.3,979.3 L961.3,977.9 L964.3,976.5 L967.3,975.1 L970.3,973.7 L973.3,972.3 L976.3,971.0 L979.3,969.7 L982.3,968.4 L985.3,967.2 L988.3,966.0 L991.3,964.9 L994.3,963.7 L997.3,962.7 L1000.3,961.6 L1003.3,960.5 L1006.3,959.5 L1009.3,958.5 L1012.3,957.5 L1015.3,956.5 L1018.3,955.5 L1021.3,954.6 L1024.3,953.6 L1027.3,952.7 L1030.3,951.7 L1033.3,950.8 L1036.3,949.9 L1039.3,949.0 L1042.3,948.1 L1045.3,947.2 L1048.3,946.4 L1051.3,945.5 L1054.3,944.7 L1057.3,943.9 L1060.3,943.2 L1063.3,942.4 L1066.3,941.6 L1069.3,940.9 L1072.3,940.2 L1075.3,939.4 L1078.3,938.7 L1081.3,938.0 L1084.3,937.2 L1087.3,936.5 L1090.3,935.8 L1093.3,935.1 L1096.3,934.4 L1099.3,933.7 L1102.3,933.0 L1105.3,932.3 L1108.3,931.5 L1111.3,930.8 L1114.3,930.0 L1117.3,929.1 L1120.3,928.2 L1123.3,927.3 L1126.3,926.2 L1129.3,925.2 L1132.3,924.0 L1135.3,922.9 L1138.3,921.6 L1141.3,920.4 L1144.3,919.1 L1147.3,917.7 L1150.3,916.4 L1153.3,915.0 L1156.3,913.6 L1159.3,912.2 L1162.3,910.7 L1165.3,909.2 L1168.3,907.6 L1171.3,906.0 L1174.3,904.3 L1177.3,902.6 L1180.3,900.8 L1183.3,898.9 L1186.3,896.9 L1189.3,894.8 L1192.3,892.5 L1195.3,890.0 L1198.3,887.4 L1201.3,884.7 L1204.3,881.9 L1207.3,879.0 L1210.3,876.1 L1213.3,873.1 L1216.3,870.2 L1219.3,867.3 L1222.3,864.4 L1225.3,861.5 L1228.3,858.6 L1231.3,855.6 L1234.3,852.5 L1237.3,849.5 L1240.3,846.4 L1243.3,843.3 L1246.3,840.1 L1249.3,836.9 L1252.3,833.7" fill="none" stroke="#0000ff" stroke-width="2.2" stroke-linejoin="round" stroke-linecap="round" />
<path d="M853.3,1081.7 L856.3,1079.3 L859.3,1077.0 L862.3,1074.8 L865.3,1072.5 L868.3,1070.2 L871.3,1068.0 L874.3,1065.7 L877.3,1063.5 L880.3,1061.3 L883.3,1059.1 L886.3,1056.9 L889.3,1054.7 L892.3,1052.5 L895.3,1050.3 L898.3,1048.2 L901.3,1046.0 L904.3,1043.8 L907.3,1041.7 L910.3,1039.6 L913.3,1037.6 L916.3,1035.6 L919.3,1033.7 L922.3,1031.9 L925.3,1030.1 L928.3,1028.4 L931.3,1026.6 L934.3,1024.9 L937.3,1023.3 L940.3,1021.7 L943.3,1020.1 L946.3,1018.5 L949.3,1017.0 L952.3,1015.5 L955.3,1014.0 L958.3,1012.6 L961.3,1011.1 L964.3,1009.7 L967.3,1008.3 L970.3,1006.9 L973.3,1005.6 L976.3,1004.3 L979.3,1003.0 L982.3,1001.7 L985.3,1000.5 L988.3,999.3 L991.3,998.2 L994.3,997.1 L997.3,996.0 L1000.3,994.9 L1003.3,993.9 L1006.3,992.8 L1009.3,991.8 L1012.3,990.8 L1015.3,989.8 L1018.3,988.9 L1021.3,987.9 L1024.3,987.0 L1027.3,986.0 L1030.3,985.1 L1033.3,984.2 L1036.3,983.3 L1039.3,982.5 L1042.3,981.6 L1045.3,980.7 L1048.3,979.8 L1051.3,978.9 L1054.3,978.0 L1057.3,977.1 L1060.3,976.3 L1063.3,975.4 L1066.3,974.5 L1069.3,973.6 L1072.3,972.7 L1075.3,971.8 L1078.3,970.9 L1081.3,970.0 L1084.3,969.1 L1087.3,968.1 L1090.3,967.2 L1093.3,966.2 L1096.3,965.2 L1099.3,964.2 L1102.3,963.2 L1105.3,962.2 L1108.3,961.2 L1111.3,960.1 L1114.3,958.9 L1117.3,957.8 L1120.3,956.5 L1123.3,955.2 L1126.3,953.8 L1129.3,952.3 L1132.3,950.8 L1135.3,949.1 L1138.3,947.3 L1141.3,945.4 L1144.3,943.4 L1147.3,941.2 L1150.3,938.9 L1153.3,936.6 L1156.3,934.2 L1159.3,931.8 L1162.3,929.4 L1165.3,927.0 L1168.3,924.6 L1171.3,922.3 L1174.3,920.0 L1177.3,917.6 L1180.3,915.2 L1183.3,912.8 L1186.3,910.4 L1189.3,908.0 L1192.3,905.5 L1195.3,903.1 L1198.3,900.7 L1201.3,898.3 L1204.3,895.9 L1207.3,893.5 L1210.3,891.1 L1213.3,888.7 L1216.3,886.3 L1219.3,883.9 L1222.3,881.6 L1225.3,879.2 L1228.3,876.8 L1231.3,874.3 L1234.3,871.9 L1237.3,869.5 L1240.3,867.0 L1243.3,864.5 L1246.3,862.0 L1249.3,859.5 L1252.3,856.9" fill="none" stroke="#008080" stroke-width="2.2" stroke-linejoin="round" stroke-linecap="round" />
<path d="M853.3,1086.0 L856.3,1083.8 L859.3,1081.5 L862.3,1079.3 L865.3,1077.1 L868.3,1074.9 L871.3,1072.7 L874.3,1070.6 L877.3,1068.4 L880.3,1066.2 L883.3,1064.1 L886.3,1061.9 L889.3,1059.8 L892.3,1057.6 L895.3,1055.4 L898.3,1053.2 L901.3,1051.0 L904.3,1048.9 L907.3,1046.7 L910.3,1044.7 L913.3,1042.6 L916.3,1040.7 L919.3,1038.7 L922.3,1036.9 L925.3,1035.1 L928.3,1033.4 L931.3,1031.6 L934.3,1029.9 L937.3,1028.3 L940.3,1026.7 L943.3,1025.1 L946.3,1023.5 L949.3,1022.0 L952.3,1020.5 L955.3,1019.0 L958.3,1017.6 L961.3,1016.1 L964.3,1014.7 L967.3,1013.3 L970.3,1011.9 L973.3,1010.6 L976.3,1009.3 L979.3,1008.0 L982.3,1006.7 L985.3,1005.5 L988.3,1004.3 L991.3,1003.2 L994.3,1002.1 L997.3,1001.0 L1000.3,999.9 L1003.3,998.9 L1006.3,997.8 L1009.3,996.8 L1012.3,995.8 L1015.3,994.8 L1018.3,993.9 L1021.3,992.9 L1024.3,991.9 L1027.3,991.0 L1030.3,990.1 L1033.3,989.1 L1036.3,988.2 L1039.3,987.3 L1042.3,986.4 L1045.3,985.6 L1048.3,984.7 L1051.3,983.9 L1054.3,983.1 L1057.3,982.3 L1060.3,981.5 L1063.3,980.8 L1066.3,980.1 L1069.3,979.4 L1072.3,978.7 L1075.3,978.0 L1078.3,977.2 L1081.3,976.5 L1084.3,975.7 L1087.3,974.8 L1090.3,973.9 L1093.3,973.0 L1096.3,972.1 L1099.3,971.1 L1102.3,970.1 L1105.3,969.1 L1108.3,968.0 L1111.3,966.9 L1114.3,965.7 L1117.3,964.5 L1120.3,963.2 L1123.3,961.8 L1126.3,960.3 L1129.3,958.7 L1132.3,957.0 L1135.3,955.2 L1138.3,953.3 L1141.3,951.4 L1144.3,949.4 L1147.3,947.4 L1150.3,945.4 L1153.3,943.3 L1156.3,941.2 L1159.3,939.1 L1162.3,936.9 L1165.3,934.6 L1168.3,932.3 L1171.3,929.9 L1174.3,927.5 L1177.3,925.0 L1180.3,922.4 L1183.3,919.7 L1186.3,917.0 L1189.3,914.1 L1192.3,911.2 L1195.3,908.1 L1198.3,905.0 L1201.3,901.7 L1204.3,898.4 L1207.3,895.0 L1210.3,891.5 L1213.3,888.0 L1216.3,884.4 L1219.3,880.8 L1222.3,877.2 L1225.3,873.5 L1228.3,869.7 L1231.3,865.9 L1234.3,861.9 L1237.3,858.0 L1240.3,853.9 L1243.3,849.8 L1246.3,845.7 L1249.3,841.4 L1252.3,837.1" fill="none" stroke="#ff00ff" stroke-width="2.2" stroke-linejoin="round" stroke-linecap="round" />
<path d="M853.3,1098.3 L856.3,1095.7 L859.3,1093.1 L862.3,1090.5 L865.3,1088.1 L868.3,1085.6 L871.3,1083.2 L874.3,1080.9 L877.3,1078.6 L880.3,1076.3 L883.3,1074.1 L886.3,1071.9 L889.3,1069.8 L892.3,1067.7 L895.3,1065.6 L898.3,1063.6 L901.3,1061.6 L904.3,1059.6 L907.3,1057.6 L910.3,1055.8 L913.3,1053.9 L916.3,1052.1 L919.3,1050.4 L922.3,1048.7 L925.3,1047.0 L928.3,1045.4 L931.3,1043.9 L934.3,1042.3 L937.3,1040.8 L940.3,1039.4 L943.3,1037.9 L946.3,1036.5 L949.3,1035.1 L952.3,1033.8 L955.3,1032.5 L958.3,1031.2 L961.3,1029.9 L964.3,1028.6 L967.3,1027.4 L970.3,1026.2 L973.3,1025.1 L976.3,1023.9 L979.3,1022.8 L982.3,1021.6 L985.3,1020.5 L988.3,1019.4 L991.3,1018.3 L994.3,1017.2 L997.3,1016.1 L1000.3,1015.0 L1003.3,1014.0 L1006.3,1012.9 L1009.3,1011.9 L1012.3,1010.9 L1015.3,1009.9 L1018.3,1008.9 L1021.3,1007.9 L1024.3,1007.0 L1027.3,1006.1 L1030.3,1005.2 L1033.3,1004.3 L1036.3,1003.4 L1039.3,1002.6 L1042.3,1001.7 L1045.3,1000.8 L1048.3,999.9 L1051.3,999.0 L1054.3,998.0 L1057.3,997.0 L1060.3,996.1 L1063.3,995.1 L1066.3,994.1 L1069.3,993.1 L1072.3,992.1 L1075.3,991.0 L1078.3,989.9 L1081.3,988.8 L1084.3,987.6 L1087.3,986.4 L1090.3,985.1 L1093.3,983.8 L1096.3,982.4 L1099.3,981.0 L1102.3,979.5 L1105.3,978.0 L1108.3,976.4 L1111.3,974.8 L1114.3,973.2 L1117.3,971.5 L1120.3,969.8 L1123.3,968.1 L1126.3,966.3 L1129.3,964.5 L1132.3,962.6 L1135.3,960.7 L1138.3,958.8 L1141.3,956.8 L1144.3,954.7 L1147.3,952.7 L1150.3,950.5 L1153.3,948.3 L1156.3,946.1 L1159.3,943.7 L1162.3,941.3 L1165.3,938.8 L1168.3,936.3 L1171.3,933.7 L1174.3,931.0 L1177.3,928.4 L1180.3,925.7 L1183.3,923.0 L1186.3,920.3 L1189.3,917.6 L1192.3,914.9 L1195.3,912.2 L1198.3,909.4 L1201.3,906.7 L1204.3,903.9 L1207.3,901.0 L1210.3,898.1 L1213.3,895.2 L1216.3,892.1 L1219.3,889.0 L1222.3,885.9 L1225.3,882.6 L1228.3,879.3 L1231.3,875.9 L1234.3,872.5 L1237.3,868.9 L1240.3,865.4 L1243.3,861.7 L1246.3,858.0 L1249.3,854.2 L1252.3,850.4" fill="none" stroke="#808000" stroke-width="2.2" stroke-linejoin="round" stroke-linecap="round" />
<path d="M853.3,1094.0 L856.3,1091.4 L859.3,1088.9 L862.3,1086.5 L865.3,1084.1 L868.3,1081.7 L871.3,1079.4 L874.3,1077.1 L877.3,1074.9 L880.3,1072.7 L883.3,1070.6 L886.3,1068.6 L889.3,1066.6 L892.3,1064.6 L895.3,1062.7 L898.3,1060.8 L901.3,1059.0 L904.3,1057.2 L907.3,1055.5 L910.3,1053.7 L913.3,1052.0 L916.3,1050.3 L919.3,1048.7 L922.3,1047.1 L925.3,1045.5 L928.3,1043.9 L931.3,1042.4 L934.3,1040.9 L937.3,1039.4 L940.3,1037.9 L943.3,1036.4 L946.3,1035.0 L949.3,1033.6 L952.3,1032.1 L955.3,1030.7 L958.3,1029.3 L961.3,1027.9 L964.3,1026.5 L967.3,1025.2 L970.3,1023.8 L973.3,1022.5 L976.3,1021.1 L979.3,1019.8 L982.3,1018.5 L985.3,1017.2 L988.3,1016.0 L991.3,1014.7 L994.3,1013.5 L997.3,1012.2 L1000.3,1011.0 L1003.3,1009.8 L1006.3,1008.6 L1009.3,1007.4 L1012.3,1006.2 L1015.3,1005.1 L1018.3,1004.0 L1021.3,1002.8 L1024.3,1001.8 L1027.3,1000.7 L1030.3,999.7 L1033.3,998.6 L1036.3,997.6 L1039.3,996.6 L1042.3,995.6 L1045.3,994.5 L1048.3,993.5 L1051.3,992.4 L1054.3,991.3 L1057.3,990.2 L1060.3,989.1 L1063.3,987.9 L1066.3,986.8 L1069.3,985.6 L1072.3,984.5 L1075.3,983.2 L1078.3,982.0 L1081.3,980.7 L1084.3,979.4 L1087.3,978.0 L1090.3,976.6 L1093.3,975.1 L1096.3,973.6 L1099.3,972.0 L1102.3,970.4 L1105.3,968.8 L1108.3,967.1 L1111.3,965.3 L1114.3,963.5 L1117.3,961.7 L1120.3,959.8 L1123.3,957.8 L1126.3,955.8 L1129.3,953.7 L1132.3,951.6 L1135.3,949.4 L1138.3,947.1 L1141.3,944.8 L1144.3,942.4 L1147.3,940.0 L1150.3,937.5 L1153.3,935.0 L1156.3,932.4 L1159.3,929.8 L1162.3,927.0 L1165.3,924.2 L1168.3,921.3 L1171.3,918.4 L1174.3,915.5 L1177.3,912.5 L1180.3,909.6 L1183.3,906.6 L1186.3,903.7 L1189.3,900.7 L1192.3,897.8 L1195.3,894.8 L1198.3,891.9 L1201.3,888.9 L1204.3,885.9 L1207.3,882.9 L1210.3,879.9 L1213.3,876.8 L1216.3,873.8 L1219.3,870.7 L1222.3,867.6 L1225.3,864.4 L1228.3,861.3 L1231.3,858.1 L1234.3,854.9 L1237.3,851.7 L1240.3,848.5 L1243.3,845.2 L1246.3,842.0 L1249.3,838.7 L1252.3,835.4" fill="none" stroke="#000080" stroke-width="2.2" stroke-linejoin="round" stroke-linecap="round" />
<path d="M853.3,1116.7 L856.3,1114.1 L859.3,1111.5 L862.3,1108.9 L865.3,1106.4 L868.3,1103.9 L871.3,1101.5 L874.3,1099.1 L877.3,1096.7 L880.3,1094.4 L883.3,1092.1 L886.3,1089.8 L889.3,1087.6 L892.3,1085.4 L895.3,1083.1 L898.3,1080.9 L901.3,1078.7 L904.3,1076.6 L907.3,1074.5 L910.3,1072.5 L913.3,1070.6 L916.3,1068.8 L919.3,1067.0 L922.3,1065.4 L925.3,1063.9 L928.3,1062.4 L931.3,1061.0 L934.3,1059.7 L937.3,1058.4 L940.3,1057.1 L943.3,1055.8 L946.3,1054.6 L949.3,1053.3 L952.3,1052.1 L955.3,1050.8 L958.3,1049.5 L961.3,1048.3 L964.3,1047.0 L967.3,1045.8 L970.3,1044.5 L973.3,1043.3 L976.3,1042.1 L979.3,1041.0 L982.3,1039.9 L985.3,1038.8 L988.3,1037.8 L991.3,1036.8 L994.3,1035.9 L997.3,1035.0 L1000.3,1034.1 L1003.3,1033.3 L1006.3,1032.4 L1009.3,1031.5 L1012.3,1030.7 L1015.3,1029.8 L1018.3,1028.9 L1021.3,1027.9 L1024.3,1026.9 L1027.3,1025.9 L1030.3,1024.9 L1033.3,1023.9 L1036.3,1022.9 L1039.3,1021.9 L1042.3,1020.8 L1045.3,1019.7 L1048.3,1018.6 L1051.3,1017.4 L1054.3,1016.3 L1057.3,1015.1 L1060.3,1013.9 L1063.3,1012.6 L1066.3,1011.3 L1069.3,1010.0 L1072.3,1008.7 L1075.3,1007.3 L1078.3,1005.9 L1081.3,1004.4 L1084.3,1002.9 L1087.3,1001.3 L1090.3,999.7 L1093.3,997.9 L1096.3,996.1 L1099.3,994.3 L1102.3,992.3 L1105.3,990.4 L1108.3,988.3 L1111.3,986.2 L1114.3,984.1 L1117.3,982.0 L1120.3,979.8 L1123.3,977.5 L1126.3,975.1 L1129.3,972.7 L1132.3,970.2 L1135.3,967.7 L1138.3,965.1 L1141.3,962.4 L1144.3,959.7 L1147.3,957.1 L1150.3,954.4 L1153.3,951.7 L1156.3,949.0 L1159.3,946.2 L1162.3,943.5 L1165.3,940.7 L1168.3,937.9 L1171.3,935.1 L1174.3,932.2 L1177.3,929.3 L1180.3,926.4 L1183.3,923.4 L1186.3,920.3 L1189.3,917.3 L1192.3,914.1 L1195.3,910.9 L1198.3,907.7 L1201.3,904.5 L1204.3,901.1 L1207.3,897.8 L1210.3,894.4 L1213.3,891.0 L1216.3,887.6 L1219.3,884.1 L1222.3,880.6 L1225.3,877.1 L1228.3,873.5 L1231.3,869.9 L1234.3,866.3 L1237.3,862.6 L1240.3,858.9 L1243.3,855.2 L1246.3,851.4 L1249.3,847.6 L1252.3,843.8" fill="none" stroke="#800000" stroke-width="2.2" stroke-linejoin="round" stroke-linecap="round" />
<path d="M853.3,1111.7 L856.3,1109.0 L859.3,1106.4 L862.3,1103.8 L865.3,1101.2 L868.3,1098.7 L871.3,1096.3 L874.3,1093.9 L877.3,1091.6 L880.3,1089.3 L883.3,1087.1 L886.3,1085.0 L889.3,1082.8 L892.3,1080.7 L895.3,1078.7 L898.3,1076.7 L901.3,1074.7 L904.3,1072.8 L907.3,1070.9 L910.3,1069.0 L913.3,1067.2 L916.3,1065.4 L919.3,1063.7 L922.3,1062.0 L925.3,1060.4 L928.3,1058.8 L931.3,1057.2 L934.3,1055.7 L937.3,1054.2 L940.3,1052.7 L943.3,1051.3 L946.3,1049.8 L949.3,1048.5 L952.3,1047.1 L955.3,1045.8 L958.3,1044.5 L961.3,1043.2 L964.3,1042.0 L967.3,1040.8 L970.3,1039.6 L973.3,1038.4 L976.3,1037.2 L979.3,1036.1 L982.3,1035.0 L985.3,1033.8 L988.3,1032.7 L991.3,1031.6 L994.3,1030.6 L997.3,1029.5 L1000.3,1028.5 L1003.3,1027.5 L1006.3,1026.5 L1009.3,1025.5 L1012.3,1024.4 L1015.3,1023.4 L1018.3,1022.3 L1021.3,1021.2 L1024.3,1020.1 L1027.3,1018.9 L1030.3,1017.8 L1033.3,1016.7 L1036.3,1015.5 L1039.3,1014.3 L1042.3,1013.1 L1045.3,1011.9 L1048.3,1010.6 L1051.3,1009.2 L1054.3,1007.9 L1057.3,1006.4 L1060.3,1005.0 L1063.3,1003.4 L1066.3,1001.9 L1069.3,1000.2 L1072.3,998.6 L1075.3,996.9 L1078.3,995.1 L1081.3,993.3 L1084.3,991.5 L1087.3,989.6 L1090.3,987.6 L1093.3,985.6 L1096.3,983.5 L1099.3,981.3 L1102.3,979.1 L1105.3,976.8 L1108.3,974.5 L1111.3,972.1 L1114.3,969.7 L1117.3,967.2 L1120.3,964.7 L1123.3,962.1 L1126.3,959.5 L1129.3,956.7 L1132.3,953.9 L1135.3,951.0 L1138.3,948.1 L1141.3,945.2 L1144.3,942.2 L1147.3,939.2 L1150.3,936.3 L1153.3,933.3 L1156.3,930.4 L1159.3,927.4 L1162.3,924.5 L1165.3,921.5 L1168.3,918.4 L1171.3,915.4 L1174.3,912.4 L1177.3,909.4 L1180.3,906.4 L1183.3,903.3 L1186.3,900.3 L1189.3,897.3 L1192.3,894.4 L1195.3,891.4 L1198.3,888.5 L1201.3,885.5 L1204.3,882.6 L1207.3,879.6 L1210.3,876.6 L1213.3,873.6 L1216.3,870.5 L1219.3,867.4 L1222.3,864.2 L1225.3,861.0 L1228.3,857.7 L1231.3,854.4 L1234.3,851.1 L1237.3,847.7 L1240.3,844.3 L1243.3,840.9 L1246.3,837.4 L1249.3,833.9 L1252.3,830.4" fill="none" stroke="#ff0080" stroke-width="2.2" stroke-linejoin="round" stroke-linecap="round" />
</g>
<rect x="852.40" y="828.90" width="1.90" height="260.50" fill="#000"/>
<rect x="1251.10" y="828.90" width="3.00" height="260.50" fill="#000"/>
<rect x="852.40" y="828.90" width="401.70" height="2.20" fill="#000"/>
<rect x="852.40" y="1087.20" width="401.70" height="2.20" fill="#000"/>
<rect x="846.40" y="930.85" width="6.00" height="2.10" fill="#000"/>
<rect x="846.40" y="1079.65" width="6.00" height="2.10" fill="#000"/>
<rect x="849.00" y="855.65" width="3.40" height="2.10" fill="#000"/>
<rect x="849.00" y="1004.95" width="3.40" height="2.10" fill="#000"/>
<rect x="920.80" y="1089.30" width="1.80" height="5.50" fill="#000"/>
<rect x="1060.80" y="1089.30" width="1.80" height="5.50" fill="#000"/>
<rect x="1201.40" y="1089.30" width="1.80" height="5.50" fill="#000"/>
<rect x="990.10" y="1089.30" width="1.80" height="3.00" fill="#000"/>
<rect x="1131.40" y="1089.30" width="1.80" height="3.00" fill="#000"/>
<text transform="translate(907.13,1105.78) scale(1.0874,1)" font-family='"Liberation Sans", sans-serif' font-weight="normal" font-size="11.73" fill="#000" >-1.10</text>
<text transform="translate(1047.13,1105.78) scale(1.0886,1)" font-family='"Liberation Sans", sans-serif' font-weight="normal" font-size="11.73" fill="#000" >-1.05</text>
<text transform="translate(1187.73,1105.78) scale(1.0874,1)" font-family='"Liberation Sans", sans-serif' font-weight="normal" font-size="11.73" fill="#000" >-1.00</text>
<text transform="translate(818.75,935.68) scale(1.0402,1)" font-family='"Liberation Sans", sans-serif' font-weight="normal" font-size="11.73" fill="#000" >-220</text>
<text transform="translate(818.75,1084.88) scale(1.0402,1)" font-family='"Liberation Sans", sans-serif' font-weight="normal" font-size="11.73" fill="#000" >-230</text>
<text transform="translate(794.61,972.46) rotate(-90) scale(1.0450,1)" font-family='"Liberation Sans", sans-serif' font-weight="normal" font-size="12.01" fill="#000" >I/µA</text>
<text transform="translate(1013.03,1124.86) scale(1.1299,1)" font-family='"Liberation Sans", sans-serif' font-weight="normal" font-size="13.61" fill="#000" >E/V vs.SCE</text>
<clipPath id="c3"><rect x="1325.9" y="794.1" width="446.0999999999999" height="284.9999999999999"/></clipPath>
<rect x="1325.90" y="794.10" width="446.10" height="285.00" fill="#fff"/>
<g clip-path="url(#c3)">
<path d="M1325.9,811.4 L1327.9,811.1 L1329.9,810.8 L1331.9,810.6 L1333.9,810.3 L1335.9,810.1 L1337.9,809.9 L1339.9,809.6 L1341.9,809.4 L1343.9,809.2 L1345.9,809.0 L1347.9,808.8 L1349.9,808.6 L1351.9,808.4 L1353.9,808.2 L1355.9,808.1 L1357.9,807.9 L1359.9,807.7 L1361.9,807.5 L1363.9,807.4 L1365.9,807.2 L1367.9,807.0 L1369.9,806.9 L1371.9,806.8 L1373.9,806.6 L1375.9,806.5 L1377.9,806.4 L1379.9,806.3 L1381.9,806.2 L1383.9,806.2 L1385.9,806.1 L1387.9,806.0 L1389.9,806.0 L1391.9,805.9 L1393.9,805.9 L1395.9,805.9 L1397.9,805.8 L1399.9,805.8 L1401.9,805.9 L1403.9,805.9 L1405.9,806.0 L1407.9,806.0 L1409.9,806.1 L1411.9,806.2 L1413.9,806.4 L1415.9,806.5 L1417.9,806.7 L1419.9,806.9 L1421.9,807.0 L1423.9,807.2 L1425.9,807.5 L1427.9,807.7 L1429.9,808.0 L1431.9,808.2 L1433.9,808.5 L1435.9,808.8 L1437.9,809.1 L1439.9,809.3 L1441.9,809.6 L1443.9,809.9 L1445.9,810.3 L1447.9,810.6 L1449.9,810.9 L1451.9,811.2 L1453.9,811.6 L1455.9,812.0 L1457.9,812.3 L1459.9,812.7 L1461.9,813.2 L1463.9,813.6 L1465.9,814.0 L1467.9,814.5 L1469.9,815.0 L1471.9,815.5 L1473.9,816.0 L1475.9,816.5 L1477.9,817.0 L1479.9,817.5 L1481.9,818.0 L1483.9,818.5 L1485.9,819.0 L1487.9,819.5 L1489.9,820.0 L1491.9,820.5 L1493.9,821.0 L1495.9,821.5 L1497.9,822.0 L1499.9,822.5 L1501.9,823.0 L1503.9,823.5 L1505.9,824.0 L1507.9,824.5 L1509.9,825.0 L1511.9,825.5 L1513.9,826.0 L1515.9,826.5 L1517.9,827.0 L1519.9,827.5 L1521.9,828.0 L1523.9,828.5 L1525.9,829.0 L1527.9,829.5 L1529.9,830.0 L1531.9,830.5 L1533.9,831.0 L1535.9,831.5 L1537.9,832.0 L1539.9,832.5 L1541.9,833.0 L1543.9,833.5 L1545.9,834.0 L1547.9,834.4 L1549.9,834.8 L1551.9,835.2 L1553.9,835.5 L1555.9,835.9 L1557.9,836.2 L1559.9,836.5 L1561.9,836.7 L1563.9,837.0 L1565.9,837.2 L1567.9,837.5 L1569.9,837.7 L1571.9,837.9 L1573.9,838.2 L1575.9,838.4 L1577.9,838.6 L1579.9,838.8 L1581.9,839.1 L1583.9,839.3 L1585.9,839.5 L1587.9,839.6 L1589.9,839.8 L1591.9,839.9 L1593.9,840.1 L1595.9,840.2 L1597.9,840.3 L1599.9,840.3 L1601.9,840.4 L1603.9,840.5 L1605.9,840.5 L1607.9,840.6 L1609.9,840.6 L1611.9,840.7 L1613.9,840.7 L1615.9,840.7 L1617.9,840.7 L1619.9,840.7 L1621.9,840.6 L1623.9,840.5 L1625.9,840.3 L1627.9,840.1 L1629.9,839.9 L1631.9,839.6 L1633.9,839.3 L1635.9,839.0 L1637.9,838.6 L1639.9,838.2 L1641.9,837.8 L1643.9,837.4 L1645.9,837.0 L1647.9,836.5 L1649.9,836.1 L1651.9,835.6 L1653.9,835.1 L1655.9,834.5 L1657.9,833.9 L1659.9,833.2 L1661.9,832.5 L1663.9,831.6 L1665.9,830.7 L1667.9,829.7 L1669.9,828.6 L1671.9,827.4 L1673.9,826.1 L1675.9,824.8 L1677.9,823.3 L1679.9,821.7 L1681.9,820.1 L1683.9,818.4 L1685.9,816.6 L1687.9,814.7 L1689.9,812.7 L1691.9,810.7 L1693.9,808.6 L1695.9,806.5 L1697.9,804.3 L1699.9,802.1 L1701.9,799.7 L1703.9,797.4 L1705.9,795.0 L1707.9,792.6 L1709.9,790.1 L1711.9,787.5 L1713.9,784.7 L1715.9,782.0" fill="none" stroke="#000000" stroke-width="2.7" stroke-linejoin="round" stroke-linecap="round" />
<path d="M1325.9,852.8 L1327.9,852.9 L1329.9,853.1 L1331.9,853.2 L1333.9,853.3 L1335.9,853.5 L1337.9,853.6 L1339.9,853.8 L1341.9,853.9 L1343.9,854.1 L1345.9,854.2 L1347.9,854.4 L1349.9,854.6 L1351.9,854.7 L1353.9,854.9 L1355.9,855.0 L1357.9,855.2 L1359.9,855.4 L1361.9,855.5 L1363.9,855.7 L1365.9,855.8 L1367.9,856.0 L1369.9,856.1 L1371.9,856.3 L1373.9,856.5 L1375.9,856.7 L1377.9,856.8 L1379.9,857.0 L1381.9,857.2 L1383.9,857.4 L1385.9,857.6 L1387.9,857.9 L1389.9,858.1 L1391.9,858.4 L1393.9,858.6 L1395.9,858.9 L1397.9,859.2 L1399.9,859.6 L1401.9,859.9 L1403.9,860.3 L1405.9,860.8 L1407.9,861.2 L1409.9,861.7 L1411.9,862.2 L1413.9,862.7 L1415.9,863.3 L1417.9,863.8 L1419.9,864.4 L1421.9,864.9 L1423.9,865.5 L1425.9,866.1 L1427.9,866.6 L1429.9,867.2 L1431.9,867.8 L1433.9,868.4 L1435.9,868.9 L1437.9,869.4 L1439.9,870.0 L1441.9,870.5 L1443.9,871.0 L1445.9,871.6 L1447.9,872.1 L1449.9,872.7 L1451.9,873.2 L1453.9,873.8 L1455.9,874.4 L1457.9,875.0 L1459.9,875.6 L1461.9,876.2 L1463.9,876.9 L1465.9,877.6 L1467.9,878.4 L1469.9,879.1 L1471.9,879.9 L1473.9,880.7 L1475.9,881.5 L1477.9,882.3 L1479.9,883.1 L1481.9,883.9 L1483.9,884.7 L1485.9,885.5 L1487.9,886.3 L1489.9,887.1 L1491.9,887.9 L1493.9,888.7 L1495.9,889.5 L1497.9,890.3 L1499.9,891.1 L1501.9,891.9 L1503.9,892.7 L1505.9,893.5 L1507.9,894.3 L1509.9,895.1 L1511.9,895.9 L1513.9,896.7 L1515.9,897.5 L1517.9,898.3 L1519.9,899.1 L1521.9,899.9 L1523.9,900.7 L1525.9,901.5 L1527.9,902.3 L1529.9,903.1 L1531.9,903.9 L1533.9,904.7 L1535.9,905.5 L1537.9,906.3 L1539.9,907.1 L1541.9,907.9 L1543.9,908.7 L1545.9,909.5 L1547.9,910.3 L1549.9,911.1 L1551.9,911.8 L1553.9,912.6 L1555.9,913.3 L1557.9,914.0 L1559.9,914.7 L1561.9,915.4 L1563.9,916.1 L1565.9,916.7 L1567.9,917.4 L1569.9,918.1 L1571.9,918.7 L1573.9,919.4 L1575.9,920.0 L1577.9,920.7 L1579.9,921.3 L1581.9,921.9 L1583.9,922.5 L1585.9,923.0 L1587.9,923.5 L1589.9,923.9 L1591.9,924.3 L1593.9,924.6 L1595.9,924.9 L1597.9,925.2 L1599.9,925.5 L1601.9,925.7 L1603.9,925.9 L1605.9,926.1 L1607.9,926.2 L1609.9,926.4 L1611.9,926.6 L1613.9,926.7 L1615.9,926.8 L1617.9,927.0 L1619.9,927.0 L1621.9,927.1 L1623.9,927.0 L1625.9,926.9 L1627.9,926.8 L1629.9,926.6 L1631.9,926.3 L1633.9,926.0 L1635.9,925.7 L1637.9,925.3 L1639.9,924.9 L1641.9,924.5 L1643.9,924.0 L1645.9,923.5 L1647.9,923.0 L1649.9,922.4 L1651.9,921.9 L1653.9,921.3 L1655.9,920.6 L1657.9,919.9 L1659.9,919.0 L1661.9,918.1 L1663.9,917.1 L1665.9,916.1 L1667.9,914.9 L1669.9,913.7 L1671.9,912.3 L1673.9,910.9 L1675.9,909.4 L1677.9,907.7 L1679.9,906.0 L1681.9,904.2 L1683.9,902.3 L1685.9,900.3 L1687.9,898.2 L1689.9,896.0 L1691.9,893.7 L1693.9,891.3 L1695.9,888.8 L1697.9,886.3 L1699.9,883.6 L1701.9,880.9 L1703.9,878.1 L1705.9,875.3 L1707.9,872.3 L1709.9,869.3 L1711.9,866.2 L1713.9,863.0 L1715.9,859.8 L1717.9,856.4 L1719.9,853.0 L1721.9,849.5 L1723.9,846.0 L1725.9,842.4 L1727.9,838.7 L1729.9,835.0 L1731.9,831.2 L1733.9,827.5 L1735.9,823.6 L1737.9,819.8 L1739.9,815.9 L1741.9,812.0 L1743.9,808.0 L1745.9,804.0 L1747.9,799.9 L1749.9,795.7 L1751.9,791.5 L1753.9,787.1 L1755.9,782.6" fill="none" stroke="#ff0000" stroke-width="2.7" stroke-linejoin="round" stroke-linecap="round" />
<path d="M1325.9,863.8 L1327.9,864.0 L1329.9,864.2 L1331.9,864.4 L1333.9,864.6 L1335.9,864.9 L1337.9,865.1 L1339.9,865.3 L1341.9,865.6 L1343.9,865.9 L1345.9,866.1 L1347.9,866.4 L1349.9,866.7 L1351.9,867.0 L1353.9,867.3 L1355.9,867.6 L1357.9,867.9 L1359.9,868.2 L1361.9,868.5 L1363.9,868.8 L1365.9,869.2 L1367.9,869.5 L1369.9,869.9 L1371.9,870.2 L1373.9,870.6 L1375.9,871.0 L1377.9,871.4 L1379.9,871.8 L1381.9,872.2 L1383.9,872.6 L1385.9,873.1 L1387.9,873.5 L1389.9,874.0 L1391.9,874.4 L1393.9,874.9 L1395.9,875.4 L1397.9,875.8 L1399.9,876.3 L1401.9,876.8 L1403.9,877.4 L1405.9,877.9 L1407.9,878.4 L1409.9,879.0 L1411.9,879.6 L1413.9,880.1 L1415.9,880.7 L1417.9,881.3 L1419.9,882.0 L1421.9,882.6 L1423.9,883.3 L1425.9,883.9 L1427.9,884.6 L1429.9,885.3 L1431.9,886.0 L1433.9,886.7 L1435.9,887.5 L1437.9,888.2 L1439.9,889.0 L1441.9,889.7 L1443.9,890.5 L1445.9,891.2 L1447.9,892.0 L1449.9,892.8 L1451.9,893.6 L1453.9,894.4 L1455.9,895.2 L1457.9,896.0 L1459.9,896.8 L1461.9,897.7 L1463.9,898.5 L1465.9,899.4 L1467.9,900.3 L1469.9,901.1 L1471.9,902.0 L1473.9,902.9 L1475.9,903.8 L1477.9,904.7 L1479.9,905.6 L1481.9,906.5 L1483.9,907.4 L1485.9,908.3 L1487.9,909.2 L1489.9,910.1 L1491.9,911.0 L1493.9,911.9 L1495.9,912.8 L1497.9,913.7 L1499.9,914.6 L1501.9,915.5 L1503.9,916.4 L1505.9,917.3 L1507.9,918.2 L1509.9,919.1 L1511.9,920.0 L1513.9,920.9 L1515.9,921.8 L1517.9,922.7 L1519.9,923.6 L1521.9,924.5 L1523.9,925.4 L1525.9,926.3 L1527.9,927.2 L1529.9,928.1 L1531.9,929.0 L1533.9,929.9 L1535.9,930.8 L1537.9,931.7 L1539.9,932.6 L1541.9,933.5 L1543.9,934.4 L1545.9,935.3 L1547.9,936.2 L1549.9,937.0 L1551.9,937.9 L1553.9,938.7 L1555.9,939.4 L1557.9,940.2 L1559.9,941.0 L1561.9,941.7 L1563.9,942.4 L1565.9,943.1 L1567.9,943.8 L1569.9,944.5 L1571.9,945.2 L1573.9,945.8 L1575.9,946.5 L1577.9,947.1 L1579.9,947.7 L1581.9,948.3 L1583.9,948.9 L1585.9,949.4 L1587.9,949.8 L1589.9,950.2 L1591.9,950.5 L1593.9,950.8 L1595.9,951.1 L1597.9,951.3 L1599.9,951.5 L1601.9,951.7 L1603.9,951.8 L1605.9,952.0 L1607.9,952.1 L1609.9,952.2 L1611.9,952.3 L1613.9,952.4 L1615.9,952.5 L1617.9,952.6 L1619.9,952.7 L1621.9,952.7 L1623.9,952.6 L1625.9,952.5 L1627.9,952.3 L1629.9,952.1 L1631.9,951.8 L1633.9,951.5 L1635.9,951.1 L1637.9,950.8 L1639.9,950.3 L1641.9,949.9 L1643.9,949.4 L1645.9,949.0 L1647.9,948.4 L1649.9,947.8 L1651.9,947.1 L1653.9,946.3 L1655.9,945.4 L1657.9,944.5 L1659.9,943.4 L1661.9,942.3 L1663.9,941.1 L1665.9,939.8 L1667.9,938.5 L1669.9,937.0 L1671.9,935.5 L1673.9,933.8 L1675.9,932.1 L1677.9,930.4 L1679.9,928.5 L1681.9,926.6 L1683.9,924.5 L1685.9,922.4 L1687.9,920.3 L1689.9,918.0 L1691.9,915.6 L1693.9,913.2 L1695.9,910.7 L1697.9,908.0 L1699.9,905.3 L1701.9,902.5 L1703.9,899.5 L1705.9,896.5 L1707.9,893.3 L1709.9,890.1 L1711.9,886.7 L1713.9,883.1 L1715.9,879.5 L1717.9,875.7 L1719.9,871.8 L1721.9,867.7 L1723.9,863.6 L1725.9,859.2 L1727.9,854.8 L1729.9,850.2 L1731.9,845.7 L1733.9,841.1 L1735.9,836.4 L1737.9,831.8 L1739.9,827.1 L1741.9,822.5 L1743.9,817.8 L1745.9,813.2 L1747.9,808.6 L1749.9,804.0 L1751.9,799.5 L1753.9,795.0 L1755.9,790.6 L1757.9,786.2 L1759.9,782.0" fill="none" stroke="#0000ff" stroke-width="2.7" stroke-linejoin="round" stroke-linecap="round" />
<path d="M1325.9,874.4 L1327.9,874.8 L1329.9,875.1 L1331.9,875.5 L1333.9,875.8 L1335.9,876.2 L1337.9,876.6 L1339.9,876.9 L1341.9,877.3 L1343.9,877.7 L1345.9,878.1 L1347.9,878.5 L1349.9,878.9 L1351.9,879.3 L1353.9,879.7 L1355.9,880.2 L1357.9,880.6 L1359.9,881.0 L1361.9,881.5 L1363.9,881.9 L1365.9,882.3 L1367.9,882.8 L1369.9,883.3 L1371.9,883.7 L1373.9,884.2 L1375.9,884.7 L1377.9,885.1 L1379.9,885.6 L1381.9,886.1 L1383.9,886.7 L1385.9,887.2 L1387.9,887.7 L1389.9,888.3 L1391.9,888.8 L1393.9,889.4 L1395.9,890.0 L1397.9,890.6 L1399.9,891.2 L1401.9,891.8 L1403.9,892.5 L1405.9,893.2 L1407.9,893.9 L1409.9,894.6 L1411.9,895.3 L1413.9,896.1 L1415.9,896.8 L1417.9,897.6 L1419.9,898.4 L1421.9,899.2 L1423.9,900.0 L1425.9,900.8 L1427.9,901.6 L1429.9,902.4 L1431.9,903.2 L1433.9,904.0 L1435.9,904.8 L1437.9,905.7 L1439.9,906.5 L1441.9,907.4 L1443.9,908.3 L1445.9,909.1 L1447.9,910.0 L1449.9,910.9 L1451.9,911.9 L1453.9,912.8 L1455.9,913.7 L1457.9,914.6 L1459.9,915.6 L1461.9,916.5 L1463.9,917.4 L1465.9,918.4 L1467.9,919.3 L1469.9,920.2 L1471.9,921.2 L1473.9,922.1 L1475.9,923.0 L1477.9,924.0 L1479.9,924.9 L1481.9,925.9 L1483.9,926.9 L1485.9,927.8 L1487.9,928.8 L1489.9,929.8 L1491.9,930.7 L1493.9,931.7 L1495.9,932.7 L1497.9,933.7 L1499.9,934.6 L1501.9,935.6 L1503.9,936.5 L1505.9,937.5 L1507.9,938.5 L1509.9,939.4 L1511.9,940.4 L1513.9,941.4 L1515.9,942.3 L1517.9,943.3 L1519.9,944.3 L1521.9,945.3 L1523.9,946.3 L1525.9,947.2 L1527.9,948.2 L1529.9,949.1 L1531.9,950.1 L1533.9,951.0 L1535.9,951.9 L1537.9,952.8 L1539.9,953.7 L1541.9,954.5 L1543.9,955.3 L1545.9,956.2 L1547.9,957.0 L1549.9,957.8 L1551.9,958.7 L1553.9,959.5 L1555.9,960.3 L1557.9,961.2 L1559.9,962.0 L1561.9,962.7 L1563.9,963.5 L1565.9,964.2 L1567.9,964.9 L1569.9,965.6 L1571.9,966.2 L1573.9,966.8 L1575.9,967.4 L1577.9,967.9 L1579.9,968.3 L1581.9,968.7 L1583.9,969.1 L1585.9,969.5 L1587.9,969.9 L1589.9,970.3 L1591.9,970.7 L1593.9,971.1 L1595.9,971.4 L1597.9,971.7 L1599.9,972.1 L1601.9,972.4 L1603.9,972.6 L1605.9,972.8 L1607.9,973.0 L1609.9,973.2 L1611.9,973.3 L1613.9,973.4 L1615.9,973.5 L1617.9,973.5 L1619.9,973.4 L1621.9,973.3 L1623.9,973.1 L1625.9,972.5 L1627.9,971.0 L1629.9,969.6 L1631.9,969.0 L1633.9,968.8 L1635.9,968.7 L1637.9,968.7 L1639.9,968.6 L1641.9,968.4 L1643.9,967.9 L1645.9,966.7 L1647.9,965.0 L1649.9,963.1 L1651.9,961.2 L1653.9,959.6 L1655.9,958.1 L1657.9,956.7 L1659.9,955.3 L1661.9,954.0 L1663.9,952.7 L1665.9,951.4 L1667.9,950.1 L1669.9,948.8 L1671.9,947.4 L1673.9,946.1 L1675.9,944.7 L1677.9,943.2 L1679.9,941.7 L1681.9,940.1 L1683.9,938.4 L1685.9,936.6 L1687.9,934.7 L1689.9,932.6 L1691.9,930.4 L1693.9,928.0 L1695.9,925.4 L1697.9,922.5 L1699.9,919.5 L1701.9,916.3 L1703.9,913.0 L1705.9,909.4 L1707.9,905.8 L1709.9,902.0 L1711.9,898.1 L1713.9,894.1 L1715.9,890.0 L1717.9,885.8 L1719.9,881.5 L1721.9,877.2 L1723.9,872.8 L1725.9,868.4 L1727.9,863.9 L1729.9,859.0 L1731.9,853.6 L1733.9,848.0 L1735.9,842.2 L1737.9,836.2 L1739.9,830.1 L1741.9,823.9 L1743.9,817.8 L1745.9,811.9 L1747.9,806.2 L1749.9,800.7 L1751.9,795.5 L1753.9,790.8 L1755.9,786.4 L1757.9,782.2" fill="none" stroke="#008080" stroke-width="2.7" stroke-linejoin="round" stroke-linecap="round" />
<path d="M1325.9,880.3 L1327.9,880.7 L1329.9,881.1 L1331.9,881.6 L1333.9,882.0 L1335.9,882.5 L1337.9,882.9 L1339.9,883.4 L1341.9,883.9 L1343.9,884.3 L1345.9,884.8 L1347.9,885.3 L1349.9,885.8 L1351.9,886.3 L1353.9,886.8 L1355.9,887.3 L1357.9,887.8 L1359.9,888.3 L1361.9,888.9 L1363.9,889.4 L1365.9,889.9 L1367.9,890.5 L1369.9,891.0 L1371.9,891.6 L1373.9,892.2 L1375.9,892.7 L1377.9,893.3 L1379.9,893.9 L1381.9,894.5 L1383.9,895.1 L1385.9,895.8 L1387.9,896.4 L1389.9,897.1 L1391.9,897.7 L1393.9,898.4 L1395.9,899.1 L1397.9,899.8 L1399.9,900.5 L1401.9,901.3 L1403.9,902.0 L1405.9,902.8 L1407.9,903.5 L1409.9,904.3 L1411.9,905.1 L1413.9,905.8 L1415.9,906.6 L1417.9,907.4 L1419.9,908.3 L1421.9,909.1 L1423.9,909.9 L1425.9,910.8 L1427.9,911.6 L1429.9,912.5 L1431.9,913.4 L1433.9,914.3 L1435.9,915.2 L1437.9,916.1 L1439.9,917.0 L1441.9,917.9 L1443.9,918.8 L1445.9,919.7 L1447.9,920.6 L1449.9,921.5 L1451.9,922.4 L1453.9,923.3 L1455.9,924.2 L1457.9,925.1 L1459.9,926.0 L1461.9,926.9 L1463.9,927.8 L1465.9,928.7 L1467.9,929.6 L1469.9,930.5 L1471.9,931.4 L1473.9,932.3 L1475.9,933.2 L1477.9,934.1 L1479.9,935.0 L1481.9,935.9 L1483.9,936.8 L1485.9,937.7 L1487.9,938.6 L1489.9,939.5 L1491.9,940.4 L1493.9,941.3 L1495.9,942.2 L1497.9,943.1 L1499.9,944.0 L1501.9,944.9 L1503.9,945.8 L1505.9,946.7 L1507.9,947.6 L1509.9,948.5 L1511.9,949.5 L1513.9,950.4 L1515.9,951.4 L1517.9,952.4 L1519.9,953.4 L1521.9,954.5 L1523.9,955.5 L1525.9,956.5 L1527.9,957.6 L1529.9,958.6 L1531.9,959.6 L1533.9,960.7 L1535.9,961.7 L1537.9,962.7 L1539.9,963.7 L1541.9,964.7 L1543.9,965.6 L1545.9,966.6 L1547.9,967.5 L1549.9,968.4 L1551.9,969.2 L1553.9,970.1 L1555.9,970.9 L1557.9,971.7 L1559.9,972.5 L1561.9,973.2 L1563.9,973.9 L1565.9,974.7 L1567.9,975.4 L1569.9,976.0 L1571.9,976.7 L1573.9,977.4 L1575.9,978.0 L1577.9,978.7 L1579.9,979.3 L1581.9,979.9 L1583.9,980.4 L1585.9,980.9 L1587.9,981.3 L1589.9,981.7 L1591.9,982.0 L1593.9,982.2 L1595.9,982.4 L1597.9,982.6 L1599.9,982.7 L1601.9,982.8 L1603.9,982.9 L1605.9,983.0 L1607.9,983.0 L1609.9,983.0 L1611.9,983.0 L1613.9,983.0 L1615.9,983.0 L1617.9,983.0 L1619.9,982.9 L1621.9,982.7 L1623.9,982.5 L1625.9,982.2 L1627.9,981.9 L1629.9,981.5 L1631.9,981.0 L1633.9,980.5 L1635.9,979.9 L1637.9,979.2 L1639.9,978.6 L1641.9,977.8 L1643.9,977.0 L1645.9,976.2 L1647.9,975.3 L1649.9,974.4 L1651.9,973.5 L1653.9,972.5 L1655.9,971.4 L1657.9,970.2 L1659.9,968.9 L1661.9,967.5 L1663.9,965.9 L1665.9,964.2 L1667.9,962.4 L1669.9,960.5 L1671.9,958.5 L1673.9,956.4 L1675.9,954.2 L1677.9,951.9 L1679.9,949.5 L1681.9,947.1 L1683.9,944.5 L1685.9,941.9 L1687.9,939.2 L1689.9,936.4 L1691.9,933.5 L1693.9,930.6 L1695.9,927.6 L1697.9,924.5 L1699.9,921.4 L1701.9,918.1 L1703.9,914.7 L1705.9,911.2 L1707.9,907.6 L1709.9,903.9 L1711.9,900.0 L1713.9,896.0 L1715.9,891.9 L1717.9,887.6 L1719.9,883.1 L1721.9,878.5 L1723.9,873.7 L1725.9,868.7 L1727.9,863.5 L1729.9,858.2 L1731.9,852.8 L1733.9,847.3 L1735.9,841.8 L1737.9,836.2 L1739.9,830.5 L1741.9,824.9 L1743.9,819.3 L1745.9,813.7 L1747.9,808.3 L1749.9,802.8 L1751.9,797.5 L1753.9,792.4 L1755.9,787.2 L1757.9,782.2" fill="none" stroke="#ff00ff" stroke-width="2.7" stroke-linejoin="round" stroke-linecap="round" />
<path d="M1325.9,884.0 L1327.9,884.4 L1329.9,884.9 L1331.9,885.3 L1333.9,885.8 L1335.9,886.3 L1337.9,886.8 L1339.9,887.3 L1341.9,887.8 L1343.9,888.3 L1345.9,888.8 L1347.9,889.4 L1349.9,889.9 L1351.9,890.5 L1353.9,891.0 L1355.9,891.6 L1357.9,892.2 L1359.9,892.7 L1361.9,893.3 L1363.9,893.9 L1365.9,894.5 L1367.9,895.2 L1369.9,895.8 L1371.9,896.4 L1373.9,897.0 L1375.9,897.7 L1377.9,898.3 L1379.9,899.0 L1381.9,899.7 L1383.9,900.3 L1385.9,901.0 L1387.9,901.7 L1389.9,902.4 L1391.9,903.1 L1393.9,903.9 L1395.9,904.6 L1397.9,905.3 L1399.9,906.1 L1401.9,906.8 L1403.9,907.6 L1405.9,908.4 L1407.9,909.1 L1409.9,909.9 L1411.9,910.7 L1413.9,911.5 L1415.9,912.3 L1417.9,913.1 L1419.9,913.9 L1421.9,914.7 L1423.9,915.5 L1425.9,916.4 L1427.9,917.2 L1429.9,918.1 L1431.9,918.9 L1433.9,919.8 L1435.9,920.7 L1437.9,921.5 L1439.9,922.4 L1441.9,923.3 L1443.9,924.2 L1445.9,925.1 L1447.9,925.9 L1449.9,926.8 L1451.9,927.7 L1453.9,928.6 L1455.9,929.5 L1457.9,930.4 L1459.9,931.4 L1461.9,932.3 L1463.9,933.2 L1465.9,934.1 L1467.9,935.1 L1469.9,936.0 L1471.9,936.9 L1473.9,937.9 L1475.9,938.8 L1477.9,939.8 L1479.9,940.7 L1481.9,941.7 L1483.9,942.7 L1485.9,943.6 L1487.9,944.6 L1489.9,945.5 L1491.9,946.5 L1493.9,947.5 L1495.9,948.4 L1497.9,949.4 L1499.9,950.4 L1501.9,951.3 L1503.9,952.3 L1505.9,953.3 L1507.9,954.2 L1509.9,955.2 L1511.9,956.2 L1513.9,957.2 L1515.9,958.2 L1517.9,959.2 L1519.9,960.2 L1521.9,961.2 L1523.9,962.2 L1525.9,963.2 L1527.9,964.2 L1529.9,965.3 L1531.9,966.3 L1533.9,967.3 L1535.9,968.3 L1537.9,969.3 L1539.9,970.3 L1541.9,971.3 L1543.9,972.2 L1545.9,973.2 L1547.9,974.1 L1549.9,975.0 L1551.9,975.9 L1553.9,976.7 L1555.9,977.5 L1557.9,978.2 L1559.9,979.0 L1561.9,979.7 L1563.9,980.4 L1565.9,981.1 L1567.9,981.8 L1569.9,982.4 L1571.9,983.0 L1573.9,983.7 L1575.9,984.3 L1577.9,984.9 L1579.9,985.5 L1581.9,986.1 L1583.9,986.6 L1585.9,987.1 L1587.9,987.5 L1589.9,987.8 L1591.9,988.1 L1593.9,988.4 L1595.9,988.6 L1597.9,988.8 L1599.9,988.9 L1601.9,989.0 L1603.9,989.1 L1605.9,989.2 L1607.9,989.2 L1609.9,989.3 L1611.9,989.3 L1613.9,989.3 L1615.9,989.3 L1617.9,989.2 L1619.9,989.1 L1621.9,989.0 L1623.9,988.7 L1625.9,988.4 L1627.9,988.0 L1629.9,987.5 L1631.9,987.0 L1633.9,986.4 L1635.9,985.8 L1637.9,985.1 L1639.9,984.4 L1641.9,983.6 L1643.9,982.7 L1645.9,981.9 L1647.9,980.9 L1649.9,980.0 L1651.9,979.0 L1653.9,978.0 L1655.9,976.9 L1657.9,975.7 L1659.9,974.3 L1661.9,972.8 L1663.9,971.2 L1665.9,969.4 L1667.9,967.6 L1669.9,965.6 L1671.9,963.5 L1673.9,961.3 L1675.9,959.0 L1677.9,956.6 L1679.9,954.1 L1681.9,951.5 L1683.9,948.8 L1685.9,946.0 L1687.9,943.1 L1689.9,940.1 L1691.9,937.0 L1693.9,933.8 L1695.9,930.5 L1697.9,927.0 L1699.9,923.5 L1701.9,919.8 L1703.9,915.9 L1705.9,912.0 L1707.9,907.9 L1709.9,903.7 L1711.9,899.4 L1713.9,894.9 L1715.9,890.3 L1717.9,885.6 L1719.9,880.7 L1721.9,875.7 L1723.9,870.5 L1725.9,865.2 L1727.9,859.7 L1729.9,853.9 L1731.9,848.0 L1733.9,841.8 L1735.9,835.5 L1737.9,829.2 L1739.9,822.9 L1741.9,816.6 L1743.9,810.5 L1745.9,804.5 L1747.9,798.7 L1749.9,793.2 L1751.9,787.9 L1753.9,783.0" fill="none" stroke="#808000" stroke-width="2.7" stroke-linejoin="round" stroke-linecap="round" />
<path d="M1325.9,892.8 L1327.9,893.4 L1329.9,894.0 L1331.9,894.7 L1333.9,895.3 L1335.9,896.0 L1337.9,896.6 L1339.9,897.3 L1341.9,898.0 L1343.9,898.7 L1345.9,899.4 L1347.9,900.1 L1349.9,900.9 L1351.9,901.6 L1353.9,902.4 L1355.9,903.2 L1357.9,904.0 L1359.9,904.8 L1361.9,905.7 L1363.9,906.5 L1365.9,907.4 L1367.9,908.2 L1369.9,909.1 L1371.9,909.9 L1373.9,910.8 L1375.9,911.7 L1377.9,912.6 L1379.9,913.5 L1381.9,914.4 L1383.9,915.3 L1385.9,916.2 L1387.9,917.1 L1389.9,918.1 L1391.9,919.0 L1393.9,920.0 L1395.9,921.0 L1397.9,922.0 L1399.9,923.0 L1401.9,924.0 L1403.9,925.0 L1405.9,926.0 L1407.9,927.0 L1409.9,928.0 L1411.9,929.0 L1413.9,930.0 L1415.9,931.0 L1417.9,932.0 L1419.9,933.0 L1421.9,934.0 L1423.9,935.0 L1425.9,936.0 L1427.9,937.0 L1429.9,938.0 L1431.9,939.0 L1433.9,940.0 L1435.9,941.0 L1437.9,942.0 L1439.9,943.0 L1441.9,944.0 L1443.9,945.0 L1445.9,946.0 L1447.9,947.0 L1449.9,948.0 L1451.9,949.0 L1453.9,950.0 L1455.9,951.0 L1457.9,952.0 L1459.9,953.0 L1461.9,954.0 L1463.9,955.0 L1465.9,956.0 L1467.9,957.0 L1469.9,958.0 L1471.9,959.0 L1473.9,960.0 L1475.9,961.0 L1477.9,962.0 L1479.9,963.0 L1481.9,964.0 L1483.9,965.0 L1485.9,966.0 L1487.9,967.0 L1489.9,968.0 L1491.9,969.0 L1493.9,970.0 L1495.9,971.0 L1497.9,972.0 L1499.9,973.0 L1501.9,974.0 L1503.9,975.0 L1505.9,976.0 L1507.9,977.0 L1509.9,978.0 L1511.9,979.0 L1513.9,980.0 L1515.9,981.0 L1517.9,982.0 L1519.9,983.0 L1521.9,984.0 L1523.9,985.0 L1525.9,986.0 L1527.9,987.0 L1529.9,988.0 L1531.9,989.0 L1533.9,990.0 L1535.9,991.0 L1537.9,992.0 L1539.9,993.0 L1541.9,994.0 L1543.9,995.0 L1545.9,996.0 L1547.9,996.9 L1549.9,997.8 L1551.9,998.6 L1553.9,999.4 L1555.9,1000.2 L1557.9,1000.9 L1559.9,1001.6 L1561.9,1002.3 L1563.9,1002.9 L1565.9,1003.5 L1567.9,1004.1 L1569.9,1004.7 L1571.9,1005.3 L1573.9,1005.9 L1575.9,1006.4 L1577.9,1007.0 L1579.9,1007.5 L1581.9,1008.1 L1583.9,1008.5 L1585.9,1008.9 L1587.9,1009.3 L1589.9,1009.5 L1591.9,1009.8 L1593.9,1010.0 L1595.9,1010.1 L1597.9,1010.3 L1599.9,1010.4 L1601.9,1010.4 L1603.9,1010.4 L1605.9,1010.4 L1607.9,1010.4 L1609.9,1010.4 L1611.9,1010.3 L1613.9,1010.3 L1615.9,1010.2 L1617.9,1010.1 L1619.9,1009.9 L1621.9,1009.7 L1623.9,1009.4 L1625.9,1009.0 L1627.9,1008.6 L1629.9,1008.1 L1631.9,1007.5 L1633.9,1006.9 L1635.9,1006.2 L1637.9,1005.5 L1639.9,1004.7 L1641.9,1003.9 L1643.9,1003.0 L1645.9,1002.1 L1647.9,1001.2 L1649.9,1000.2 L1651.9,999.2 L1653.9,998.2 L1655.9,997.1 L1657.9,995.8 L1659.9,994.5 L1661.9,993.0 L1663.9,991.4 L1665.9,989.7 L1667.9,987.8 L1669.9,985.9 L1671.9,983.8 L1673.9,981.6 L1675.9,979.3 L1677.9,976.9 L1679.9,974.4 L1681.9,971.8 L1683.9,969.0 L1685.9,966.2 L1687.9,963.3 L1689.9,960.3 L1691.9,957.1 L1693.9,953.9 L1695.9,950.5 L1697.9,947.0 L1699.9,943.4 L1701.9,939.7 L1703.9,935.8 L1705.9,931.8 L1707.9,927.7 L1709.9,923.4 L1711.9,919.0 L1713.9,914.4 L1715.9,909.7 L1717.9,904.8 L1719.9,899.7 L1721.9,894.5 L1723.9,889.2 L1725.9,883.6 L1727.9,877.9 L1729.9,872.0 L1731.9,866.0 L1733.9,860.0 L1735.9,853.8 L1737.9,847.5 L1739.9,841.3 L1741.9,835.0 L1743.9,828.7 L1745.9,822.5 L1747.9,816.3 L1749.9,810.3 L1751.9,804.3 L1753.9,798.4 L1755.9,792.8 L1757.9,787.2 L1759.9,782.0" fill="none" stroke="#000080" stroke-width="2.7" stroke-linejoin="round" stroke-linecap="round" />
<path d="M1325.9,907.5 L1327.9,908.1 L1329.9,908.8 L1331.9,909.5 L1333.9,910.2 L1335.9,911.0 L1337.9,911.7 L1339.9,912.5 L1341.9,913.3 L1343.9,914.1 L1345.9,914.9 L1347.9,915.7 L1349.9,916.6 L1351.9,917.5 L1353.9,918.4 L1355.9,919.3 L1357.9,920.3 L1359.9,921.3 L1361.9,922.4 L1363.9,923.4 L1365.9,924.4 L1367.9,925.5 L1369.9,926.5 L1371.9,927.6 L1373.9,928.7 L1375.9,929.7 L1377.9,930.8 L1379.9,931.9 L1381.9,933.0 L1383.9,934.2 L1385.9,935.3 L1387.9,936.4 L1389.9,937.6 L1391.9,938.7 L1393.9,939.9 L1395.9,941.1 L1397.9,942.3 L1399.9,943.5 L1401.9,944.7 L1403.9,945.9 L1405.9,947.1 L1407.9,948.3 L1409.9,949.5 L1411.9,950.7 L1413.9,951.9 L1415.9,953.1 L1417.9,954.3 L1419.9,955.5 L1421.9,956.7 L1423.9,957.9 L1425.9,959.1 L1427.9,960.3 L1429.9,961.5 L1431.9,962.7 L1433.9,963.9 L1435.9,965.1 L1437.9,966.3 L1439.9,967.5 L1441.9,968.7 L1443.9,969.9 L1445.9,971.1 L1447.9,972.3 L1449.9,973.5 L1451.9,974.7 L1453.9,975.9 L1455.9,977.1 L1457.9,978.3 L1459.9,979.5 L1461.9,980.7 L1463.9,981.9 L1465.9,983.1 L1467.9,984.3 L1469.9,985.5 L1471.9,986.7 L1473.9,987.9 L1475.9,989.0 L1477.9,990.1 L1479.9,991.3 L1481.9,992.4 L1483.9,993.5 L1485.9,994.6 L1487.9,995.7 L1489.9,996.7 L1491.9,997.8 L1493.9,998.9 L1495.9,999.9 L1497.9,1001.0 L1499.9,1002.1 L1501.9,1003.2 L1503.9,1004.2 L1505.9,1005.3 L1507.9,1006.4 L1509.9,1007.5 L1511.9,1008.5 L1513.9,1009.6 L1515.9,1010.7 L1517.9,1011.7 L1519.9,1012.8 L1521.9,1013.8 L1523.9,1014.9 L1525.9,1015.9 L1527.9,1016.9 L1529.9,1018.0 L1531.9,1019.0 L1533.9,1020.0 L1535.9,1021.0 L1537.9,1022.0 L1539.9,1023.1 L1541.9,1024.1 L1543.9,1025.1 L1545.9,1026.1 L1547.9,1027.0 L1549.9,1027.9 L1551.9,1028.7 L1553.9,1029.6 L1555.9,1030.3 L1557.9,1031.1 L1559.9,1031.8 L1561.9,1032.5 L1563.9,1033.2 L1565.9,1033.8 L1567.9,1034.5 L1569.9,1035.1 L1571.9,1035.7 L1573.9,1036.3 L1575.9,1036.8 L1577.9,1037.4 L1579.9,1038.0 L1581.9,1038.5 L1583.9,1039.0 L1585.9,1039.4 L1587.9,1039.7 L1589.9,1040.0 L1591.9,1040.3 L1593.9,1040.5 L1595.9,1040.7 L1597.9,1040.8 L1599.9,1040.9 L1601.9,1040.9 L1603.9,1040.9 L1605.9,1040.9 L1607.9,1040.9 L1609.9,1040.9 L1611.9,1040.8 L1613.9,1040.7 L1615.9,1040.6 L1617.9,1040.5 L1619.9,1040.3 L1621.9,1040.1 L1623.9,1039.7 L1625.9,1039.3 L1627.9,1038.8 L1629.9,1038.2 L1631.9,1037.6 L1633.9,1036.9 L1635.9,1036.1 L1637.9,1035.3 L1639.9,1034.4 L1641.9,1033.6 L1643.9,1032.6 L1645.9,1031.7 L1647.9,1030.7 L1649.9,1029.6 L1651.9,1028.6 L1653.9,1027.5 L1655.9,1026.4 L1657.9,1025.1 L1659.9,1023.6 L1661.9,1022.1 L1663.9,1020.4 L1665.9,1018.6 L1667.9,1016.6 L1669.9,1014.6 L1671.9,1012.4 L1673.9,1010.1 L1675.9,1007.7 L1677.9,1005.1 L1679.9,1002.5 L1681.9,999.8 L1683.9,996.9 L1685.9,994.0 L1687.9,990.9 L1689.9,987.8 L1691.9,984.5 L1693.9,981.0 L1695.9,977.4 L1697.9,973.5 L1699.9,969.5 L1701.9,965.3 L1703.9,961.0 L1705.9,956.4 L1707.9,951.7 L1709.9,946.9 L1711.9,941.8 L1713.9,936.6 L1715.9,931.3 L1717.9,925.8 L1719.9,920.1 L1721.9,914.3 L1723.9,908.3 L1725.9,902.2 L1727.9,895.9 L1729.9,889.3 L1731.9,882.4 L1733.9,875.2 L1735.9,867.8 L1737.9,860.3 L1739.9,852.7 L1741.9,845.1 L1743.9,837.4 L1745.9,829.8 L1747.9,822.4 L1749.9,815.1 L1751.9,808.1 L1753.9,801.3 L1755.9,794.9 L1757.9,788.9 L1759.9,783.6" fill="none" stroke="#800000" stroke-width="2.7" stroke-linejoin="round" stroke-linecap="round" />
<path d="M1325.9,917.7 L1327.9,918.7 L1329.9,919.7 L1331.9,920.6 L1333.9,921.6 L1335.9,922.6 L1337.9,923.6 L1339.9,924.6 L1341.9,925.6 L1343.9,926.7 L1345.9,927.7 L1347.9,928.8 L1349.9,929.9 L1351.9,931.1 L1353.9,932.3 L1355.9,933.5 L1357.9,934.7 L1359.9,936.0 L1361.9,937.3 L1363.9,938.6 L1365.9,939.9 L1367.9,941.2 L1369.9,942.5 L1371.9,943.8 L1373.9,945.1 L1375.9,946.4 L1377.9,947.7 L1379.9,949.0 L1381.9,950.3 L1383.9,951.6 L1385.9,952.9 L1387.9,954.2 L1389.9,955.5 L1391.9,956.8 L1393.9,958.1 L1395.9,959.4 L1397.9,960.7 L1399.9,962.0 L1401.9,963.3 L1403.9,964.6 L1405.9,965.9 L1407.9,967.2 L1409.9,968.5 L1411.9,969.8 L1413.9,971.1 L1415.9,972.4 L1417.9,973.7 L1419.9,975.0 L1421.9,976.3 L1423.9,977.6 L1425.9,978.9 L1427.9,980.2 L1429.9,981.5 L1431.9,982.8 L1433.9,984.1 L1435.9,985.4 L1437.9,986.7 L1439.9,988.0 L1441.9,989.3 L1443.9,990.6 L1445.9,991.9 L1447.9,993.2 L1449.9,994.5 L1451.9,995.8 L1453.9,997.1 L1455.9,998.4 L1457.9,999.7 L1459.9,1001.0 L1461.9,1002.3 L1463.9,1003.6 L1465.9,1004.9 L1467.9,1006.2 L1469.9,1007.5 L1471.9,1008.8 L1473.9,1010.1 L1475.9,1011.3 L1477.9,1012.6 L1479.9,1013.8 L1481.9,1015.0 L1483.9,1016.2 L1485.9,1017.4 L1487.9,1018.6 L1489.9,1019.8 L1491.9,1021.0 L1493.9,1022.2 L1495.9,1023.3 L1497.9,1024.5 L1499.9,1025.6 L1501.9,1026.8 L1503.9,1028.0 L1505.9,1029.1 L1507.9,1030.3 L1509.9,1031.4 L1511.9,1032.5 L1513.9,1033.6 L1515.9,1034.7 L1517.9,1035.7 L1519.9,1036.8 L1521.9,1037.8 L1523.9,1038.8 L1525.9,1039.8 L1527.9,1040.8 L1529.9,1041.7 L1531.9,1042.7 L1533.9,1043.6 L1535.9,1044.5 L1537.9,1045.5 L1539.9,1046.4 L1541.9,1047.3 L1543.9,1048.2 L1545.9,1049.0 L1547.9,1049.8 L1549.9,1050.6 L1551.9,1051.3 L1553.9,1052.1 L1555.9,1052.7 L1557.9,1053.4 L1559.9,1054.0 L1561.9,1054.6 L1563.9,1055.1 L1565.9,1055.6 L1567.9,1056.2 L1569.9,1056.7 L1571.9,1057.1 L1573.9,1057.6 L1575.9,1058.0 L1577.9,1058.5 L1579.9,1058.9 L1581.9,1059.3 L1583.9,1059.6 L1585.9,1059.9 L1587.9,1060.2 L1589.9,1060.4 L1591.9,1060.5 L1593.9,1060.7 L1595.9,1060.7 L1597.9,1060.8 L1599.9,1060.8 L1601.9,1060.8 L1603.9,1060.7 L1605.9,1060.7 L1607.9,1060.6 L1609.9,1060.5 L1611.9,1060.4 L1613.9,1060.2 L1615.9,1060.1 L1617.9,1059.9 L1619.9,1059.7 L1621.9,1059.4 L1623.9,1059.0 L1625.9,1058.5 L1627.9,1057.9 L1629.9,1057.3 L1631.9,1056.6 L1633.9,1055.8 L1635.9,1055.0 L1637.9,1054.1 L1639.9,1053.2 L1641.9,1052.3 L1643.9,1051.3 L1645.9,1050.2 L1647.9,1049.2 L1649.9,1048.1 L1651.9,1047.0 L1653.9,1045.8 L1655.9,1044.6 L1657.9,1043.2 L1659.9,1041.7 L1661.9,1040.0 L1663.9,1038.1 L1665.9,1036.2 L1667.9,1034.1 L1669.9,1031.8 L1671.9,1029.4 L1673.9,1026.9 L1675.9,1024.3 L1677.9,1021.5 L1679.9,1018.6 L1681.9,1015.6 L1683.9,1012.5 L1685.9,1009.3 L1687.9,1005.9 L1689.9,1002.5 L1691.9,998.9 L1693.9,995.1 L1695.9,991.1 L1697.9,986.9 L1699.9,982.4 L1701.9,977.8 L1703.9,973.1 L1705.9,968.1 L1707.9,963.0 L1709.9,957.6 L1711.9,952.2 L1713.9,946.5 L1715.9,940.8 L1717.9,934.8 L1719.9,928.7 L1721.9,922.5 L1723.9,916.2 L1725.9,909.7 L1727.9,903.1 L1729.9,896.0 L1731.9,888.6 L1733.9,881.0 L1735.9,873.1 L1737.9,865.0 L1739.9,856.8 L1741.9,848.6 L1743.9,840.3 L1745.9,832.2 L1747.9,824.2 L1749.9,816.4 L1751.9,808.9 L1753.9,801.7 L1755.9,794.9 L1757.9,788.8 L1759.9,783.5" fill="none" stroke="#ff0080" stroke-width="2.7" stroke-linejoin="round" stroke-linecap="round" />
</g>
<rect x="1324.40" y="793.00" width="2.90" height="287.20" fill="#000"/>
<rect x="1770.80" y="793.00" width="2.40" height="287.20" fill="#000"/>
<rect x="1324.40" y="793.00" width="448.80" height="2.20" fill="#000"/>
<rect x="1324.40" y="1078.00" width="448.80" height="2.40" fill="#000"/>
<rect x="1318.90" y="812.90" width="6.00" height="2.00" fill="#000"/>
<rect x="1320.90" y="957.10" width="4.00" height="2.00" fill="#000"/>
<rect x="1381.00" y="1080.10" width="2.00" height="6.00" fill="#000"/>
<rect x="1446.22" y="1080.10" width="2.00" height="6.00" fill="#000"/>
<rect x="1511.44" y="1080.10" width="2.00" height="6.00" fill="#000"/>
<rect x="1576.66" y="1080.10" width="2.00" height="6.00" fill="#000"/>
<rect x="1641.88" y="1080.10" width="2.00" height="6.00" fill="#000"/>
<rect x="1707.10" y="1080.10" width="2.00" height="6.00" fill="#000"/>
<rect x="1348.39" y="1080.10" width="2.00" height="3.50" fill="#000"/>
<rect x="1413.61" y="1080.10" width="2.00" height="3.50" fill="#000"/>
<rect x="1478.83" y="1080.10" width="2.00" height="3.50" fill="#000"/>
<rect x="1544.05" y="1080.10" width="2.00" height="3.50" fill="#000"/>
<rect x="1609.27" y="1080.10" width="2.00" height="3.50" fill="#000"/>
<rect x="1674.49" y="1080.10" width="2.00" height="3.50" fill="#000"/>
<rect x="1739.71" y="1080.10" width="2.00" height="3.50" fill="#000"/>
<text transform="translate(1370.78,1097.48) scale(1.1273,1)" font-family='"Liberation Sans", sans-serif' font-weight="normal" font-size="11.59" fill="#000" >0.40</text>
<text transform="translate(1436.00,1097.48) scale(1.1288,1)" font-family='"Liberation Sans", sans-serif' font-weight="normal" font-size="11.59" fill="#000" >0.45</text>
<text transform="translate(1501.22,1097.48) scale(1.1273,1)" font-family='"Liberation Sans", sans-serif' font-weight="normal" font-size="11.59" fill="#000" >0.50</text>
<text transform="translate(1566.44,1097.48) scale(1.1288,1)" font-family='"Liberation Sans", sans-serif' font-weight="normal" font-size="11.59" fill="#000" >0.55</text>
<text transform="translate(1631.66,1097.48) scale(1.1273,1)" font-family='"Liberation Sans", sans-serif' font-weight="normal" font-size="11.59" fill="#000" >0.60</text>
<text transform="translate(1696.88,1097.48) scale(1.1288,1)" font-family='"Liberation Sans", sans-serif' font-weight="normal" font-size="11.59" fill="#000" >0.65</text>
<text transform="translate(1294.02,817.89) scale(1.3371,1)" font-family='"Liberation Sans", sans-serif' font-weight="normal" font-size="11.31" fill="#000" >-20</text>
<text transform="translate(1268.01,951.41) rotate(-90) scale(1.0181,1)" font-family='"Liberation Sans", sans-serif' font-weight="normal" font-size="13.94" fill="#000" >I/µA</text>
<text transform="translate(1504.30,1119.35) scale(1.1333,1)" font-family='"Liberation Sans", sans-serif' font-weight="normal" font-size="14.97" fill="#000" >E/V vs.SCE</text>
<text fill="#000"><tspan x="940.45" y="1422.63" font-family='"Liberation Serif", serif' font-weight="normal" font-size="84.08">(</tspan><tspan x="972.59" y="1420.94" font-family='"Liberation Serif", serif' font-weight="bold" font-size="85.53">b</tspan><tspan x="1019.19" y="1422.63" font-family='"Liberation Serif", serif' font-weight="normal" font-size="84.08">)</tspan></text>
<clipPath id="cc"><rect x="383.90" y="1623.0" width="1405.0" height="1132.20"/></clipPath>
<rect x="370.40" y="1620.20" width="1421.60" height="5.60" fill="#000"/>
<rect x="381.40" y="2751.00" width="1410.60" height="5.60" fill="#000"/>
<rect x="381.40" y="1620.20" width="5.60" height="1136.40" fill="#000"/>
<rect x="1786.40" y="1620.20" width="5.60" height="1136.40" fill="#000"/>
<rect x="359.10" y="2751.00" width="23.30" height="5.6" rx="2" fill="#000"/>
<rect x="359.10" y="2577.02" width="23.30" height="5.6" rx="2" fill="#000"/>
<rect x="359.10" y="2403.04" width="23.30" height="5.6" rx="2" fill="#000"/>
<rect x="359.10" y="2229.06" width="23.30" height="5.6" rx="2" fill="#000"/>
<rect x="359.10" y="2055.08" width="23.30" height="5.6" rx="2" fill="#000"/>
<rect x="359.10" y="1881.10" width="23.30" height="5.6" rx="2" fill="#000"/>
<rect x="359.10" y="1707.12" width="23.30" height="5.6" rx="2" fill="#000"/>
<rect x="370.40" y="2664.01" width="12.00" height="5.6" rx="2" fill="#000"/>
<rect x="370.40" y="2490.03" width="12.00" height="5.6" rx="2" fill="#000"/>
<rect x="370.40" y="2316.05" width="12.00" height="5.6" rx="2" fill="#000"/>
<rect x="370.40" y="2142.07" width="12.00" height="5.6" rx="2" fill="#000"/>
<rect x="370.40" y="1968.09" width="12.00" height="5.6" rx="2" fill="#000"/>
<rect x="370.40" y="1794.11" width="12.00" height="5.6" rx="2" fill="#000"/>
<rect x="381.80" y="2755.60" width="4.6" height="23.00" rx="2" fill="#000"/>
<rect x="557.46" y="2755.60" width="4.6" height="23.00" rx="2" fill="#000"/>
<rect x="733.12" y="2755.60" width="4.6" height="23.00" rx="2" fill="#000"/>
<rect x="908.78" y="2755.60" width="4.6" height="23.00" rx="2" fill="#000"/>
<rect x="1084.44" y="2755.60" width="4.6" height="23.00" rx="2" fill="#000"/>
<rect x="1260.10" y="2755.60" width="4.6" height="23.00" rx="2" fill="#000"/>
<rect x="1435.76" y="2755.60" width="4.6" height="23.00" rx="2" fill="#000"/>
<rect x="1611.42" y="2755.60" width="4.6" height="23.00" rx="2" fill="#000"/>
<rect x="1787.08" y="2755.60" width="4.6" height="23.00" rx="2" fill="#000"/>
<rect x="469.63" y="2755.60" width="4.6" height="11.50" rx="2" fill="#000"/>
<rect x="645.29" y="2755.60" width="4.6" height="11.50" rx="2" fill="#000"/>
<rect x="820.95" y="2755.60" width="4.6" height="11.50" rx="2" fill="#000"/>
<rect x="996.61" y="2755.60" width="4.6" height="11.50" rx="2" fill="#000"/>
<rect x="1172.27" y="2755.60" width="4.6" height="11.50" rx="2" fill="#000"/>
<rect x="1347.93" y="2755.60" width="4.6" height="11.50" rx="2" fill="#000"/>
<rect x="1523.59" y="2755.60" width="4.6" height="11.50" rx="2" fill="#000"/>
<rect x="1699.25" y="2755.60" width="4.6" height="11.50" rx="2" fill="#000"/>
<g clip-path="url(#cc)">
<rect x="371.30" y="2741.20" width="25.60" height="25.20" fill="#000"/>
<line x1="559.76" y1="2698.70" x2="559.76" y2="2704.70" stroke="#000" stroke-width="2.7" stroke-linecap="butt" />
<line x1="547.51" y1="2698.70" x2="572.01" y2="2698.70" stroke="#000" stroke-width="2.7" stroke-linecap="butt" />
<line x1="547.51" y1="2704.70" x2="572.01" y2="2704.70" stroke="#000" stroke-width="2.7" stroke-linecap="butt" />
<rect x="546.96" y="2689.10" width="25.60" height="25.20" fill="#000"/>
<line x1="735.42" y1="2655.60" x2="735.42" y2="2665.60" stroke="#000" stroke-width="2.7" stroke-linecap="butt" />
<line x1="723.17" y1="2655.60" x2="747.67" y2="2655.60" stroke="#000" stroke-width="2.7" stroke-linecap="butt" />
<line x1="723.17" y1="2665.60" x2="747.67" y2="2665.60" stroke="#000" stroke-width="2.7" stroke-linecap="butt" />
<rect x="722.62" y="2648.00" width="25.60" height="25.20" fill="#000"/>
<line x1="911.08" y1="2614.50" x2="911.08" y2="2641.50" stroke="#000" stroke-width="2.7" stroke-linecap="butt" />
<line x1="898.83" y1="2614.50" x2="923.33" y2="2614.50" stroke="#000" stroke-width="2.7" stroke-linecap="butt" />
<line x1="898.83" y1="2641.50" x2="923.33" y2="2641.50" stroke="#000" stroke-width="2.7" stroke-linecap="butt" />
<rect x="898.28" y="2615.40" width="25.60" height="25.20" fill="#000"/>
<line x1="1086.74" y1="2580.50" x2="1086.74" y2="2612.50" stroke="#000" stroke-width="2.7" stroke-linecap="butt" />
<line x1="1074.49" y1="2580.50" x2="1098.99" y2="2580.50" stroke="#000" stroke-width="2.7" stroke-linecap="butt" />
<line x1="1074.49" y1="2612.50" x2="1098.99" y2="2612.50" stroke="#000" stroke-width="2.7" stroke-linecap="butt" />
<rect x="1073.94" y="2583.90" width="25.60" height="25.20" fill="#000"/>
<line x1="1262.40" y1="2548.40" x2="1262.40" y2="2586.20" stroke="#000" stroke-width="2.7" stroke-linecap="butt" />
<line x1="1250.15" y1="2548.40" x2="1274.65" y2="2548.40" stroke="#000" stroke-width="2.7" stroke-linecap="butt" />
<line x1="1250.15" y1="2586.20" x2="1274.65" y2="2586.20" stroke="#000" stroke-width="2.7" stroke-linecap="butt" />
<rect x="1249.60" y="2554.70" width="25.60" height="25.20" fill="#000"/>
<line x1="1438.06" y1="2516.80" x2="1438.06" y2="2560.40" stroke="#000" stroke-width="2.7" stroke-linecap="butt" />
<line x1="1425.81" y1="2516.80" x2="1450.31" y2="2516.80" stroke="#000" stroke-width="2.7" stroke-linecap="butt" />
<line x1="1425.81" y1="2560.40" x2="1450.31" y2="2560.40" stroke="#000" stroke-width="2.7" stroke-linecap="butt" />
<rect x="1425.26" y="2526.00" width="25.60" height="25.20" fill="#000"/>
<line x1="1613.72" y1="2486.70" x2="1613.72" y2="2534.70" stroke="#000" stroke-width="2.7" stroke-linecap="butt" />
<line x1="1601.47" y1="2486.70" x2="1625.97" y2="2486.70" stroke="#000" stroke-width="2.7" stroke-linecap="butt" />
<line x1="1601.47" y1="2534.70" x2="1625.97" y2="2534.70" stroke="#000" stroke-width="2.7" stroke-linecap="butt" />
<rect x="1600.92" y="2498.10" width="25.60" height="25.20" fill="#000"/>
<line x1="382.10" y1="2619.50" x2="1613.72" y2="1676.50" stroke="#ff0000" stroke-width="3.1" stroke-linecap="butt" />
<line x1="382.10" y1="2738.20" x2="1613.72" y2="2501.60" stroke="#ff0000" stroke-width="3.1" stroke-linecap="butt" />
<line x1="559.76" y1="2447.70" x2="559.76" y2="2477.10" stroke="#ff0000" stroke-width="2.7" stroke-linecap="butt" />
<line x1="547.51" y1="2447.70" x2="572.01" y2="2447.70" stroke="#ff0000" stroke-width="2.7" stroke-linecap="butt" />
<line x1="547.51" y1="2477.10" x2="572.01" y2="2477.10" stroke="#ff0000" stroke-width="2.7" stroke-linecap="butt" />
<circle cx="559.8" cy="2462.4" r="14.4" fill="#ff0000"/>
<line x1="735.42" y1="2261.70" x2="735.42" y2="2308.90" stroke="#ff0000" stroke-width="2.7" stroke-linecap="butt" />
<line x1="723.17" y1="2261.70" x2="747.67" y2="2261.70" stroke="#ff0000" stroke-width="2.7" stroke-linecap="butt" />
<line x1="723.17" y1="2308.90" x2="747.67" y2="2308.90" stroke="#ff0000" stroke-width="2.7" stroke-linecap="butt" />
<circle cx="735.4" cy="2285.3" r="14.4" fill="#ff0000"/>
<line x1="911.08" y1="2103.60" x2="911.08" y2="2165.00" stroke="#ff0000" stroke-width="2.7" stroke-linecap="butt" />
<line x1="898.83" y1="2103.60" x2="923.33" y2="2103.60" stroke="#ff0000" stroke-width="2.7" stroke-linecap="butt" />
<line x1="898.83" y1="2165.00" x2="923.33" y2="2165.00" stroke="#ff0000" stroke-width="2.7" stroke-linecap="butt" />
<circle cx="911.1" cy="2134.3" r="14.4" fill="#ff0000"/>
<line x1="1086.74" y1="1991.20" x2="1086.74" y2="2063.80" stroke="#ff0000" stroke-width="2.7" stroke-linecap="butt" />
<line x1="1074.49" y1="1991.20" x2="1098.99" y2="1991.20" stroke="#ff0000" stroke-width="2.7" stroke-linecap="butt" />
<line x1="1074.49" y1="2063.80" x2="1098.99" y2="2063.80" stroke="#ff0000" stroke-width="2.7" stroke-linecap="butt" />
<circle cx="1086.7" cy="2027.5" r="14.4" fill="#ff0000"/>
<line x1="1262.40" y1="1880.50" x2="1262.40" y2="1963.50" stroke="#ff0000" stroke-width="2.7" stroke-linecap="butt" />
<line x1="1250.15" y1="1880.50" x2="1274.65" y2="1880.50" stroke="#ff0000" stroke-width="2.7" stroke-linecap="butt" />
<line x1="1250.15" y1="1963.50" x2="1274.65" y2="1963.50" stroke="#ff0000" stroke-width="2.7" stroke-linecap="butt" />
<circle cx="1262.4" cy="1922.0" r="14.4" fill="#ff0000"/>
<line x1="1438.06" y1="1797.10" x2="1438.06" y2="1887.90" stroke="#ff0000" stroke-width="2.7" stroke-linecap="butt" />
<line x1="1425.81" y1="1797.10" x2="1450.31" y2="1797.10" stroke="#ff0000" stroke-width="2.7" stroke-linecap="butt" />
<line x1="1425.81" y1="1887.90" x2="1450.31" y2="1887.90" stroke="#ff0000" stroke-width="2.7" stroke-linecap="butt" />
<circle cx="1438.1" cy="1842.5" r="14.4" fill="#ff0000"/>
<line x1="1613.72" y1="1703.10" x2="1613.72" y2="1803.90" stroke="#ff0000" stroke-width="2.7" stroke-linecap="butt" />
<line x1="1601.47" y1="1703.10" x2="1625.97" y2="1703.10" stroke="#ff0000" stroke-width="2.7" stroke-linecap="butt" />
<line x1="1601.47" y1="1803.90" x2="1625.97" y2="1803.90" stroke="#ff0000" stroke-width="2.7" stroke-linecap="butt" />
<circle cx="1613.7" cy="1753.5" r="14.4" fill="#ff0000"/>
<circle cx="384.1" cy="2753.8" r="14.4" fill="#ff0000"/>
</g>
<text transform="translate(323.39,2766.10) scale(0.9281,1)" font-family='"Liberation Sans", sans-serif' font-weight="normal" font-size="45.09" fill="#000"  stroke="#000" stroke-width="0.7" stroke-linejoin="round">0</text>
<text transform="translate(299.35,2592.12) scale(0.9451,1)" font-family='"Liberation Sans", sans-serif' font-weight="normal" font-size="45.09" fill="#000"  stroke="#000" stroke-width="0.7" stroke-linejoin="round">10</text>
<text transform="translate(299.33,2418.14) scale(0.9454,1)" font-family='"Liberation Sans", sans-serif' font-weight="normal" font-size="45.09" fill="#000"  stroke="#000" stroke-width="0.7" stroke-linejoin="round">20</text>
<text transform="translate(299.32,2244.16) scale(0.9456,1)" font-family='"Liberation Sans", sans-serif' font-weight="normal" font-size="45.09" fill="#000"  stroke="#000" stroke-width="0.7" stroke-linejoin="round">30</text>
<text transform="translate(299.31,2070.18) scale(0.9458,1)" font-family='"Liberation Sans", sans-serif' font-weight="normal" font-size="45.09" fill="#000"  stroke="#000" stroke-width="0.7" stroke-linejoin="round">40</text>
<text transform="translate(299.32,1896.20) scale(0.9456,1)" font-family='"Liberation Sans", sans-serif' font-weight="normal" font-size="45.09" fill="#000"  stroke="#000" stroke-width="0.7" stroke-linejoin="round">50</text>
<text transform="translate(299.33,1722.22) scale(0.9454,1)" font-family='"Liberation Sans", sans-serif' font-weight="normal" font-size="45.09" fill="#000"  stroke="#000" stroke-width="0.7" stroke-linejoin="round">60</text>
<text transform="translate(354.80,2826.20) scale(0.9489,1)" font-family='"Liberation Sans", sans-serif' font-weight="normal" font-size="44.81" fill="#000"  stroke="#000" stroke-width="0.7" stroke-linejoin="round">0.0</text>
<text transform="translate(530.73,2826.20) scale(0.9487,1)" font-family='"Liberation Sans", sans-serif' font-weight="normal" font-size="44.81" fill="#000"  stroke="#000" stroke-width="0.7" stroke-linejoin="round">0.2</text>
<text transform="translate(705.90,2826.20) scale(0.9489,1)" font-family='"Liberation Sans", sans-serif' font-weight="normal" font-size="44.81" fill="#000"  stroke="#000" stroke-width="0.7" stroke-linejoin="round">0.4</text>
<text transform="translate(881.89,2826.20) scale(0.9488,1)" font-family='"Liberation Sans", sans-serif' font-weight="normal" font-size="44.81" fill="#000"  stroke="#000" stroke-width="0.7" stroke-linejoin="round">0.6</text>
<text transform="translate(1057.55,2826.20) scale(0.9488,1)" font-family='"Liberation Sans", sans-serif' font-weight="normal" font-size="44.81" fill="#000"  stroke="#000" stroke-width="0.7" stroke-linejoin="round">0.8</text>
<text transform="translate(1233.07,2826.20) scale(0.9485,1)" font-family='"Liberation Sans", sans-serif' font-weight="normal" font-size="44.81" fill="#000"  stroke="#000" stroke-width="0.7" stroke-linejoin="round">1.0</text>
<text transform="translate(1409.00,2826.19) scale(0.9487,1)" font-family='"Liberation Sans", sans-serif' font-weight="normal" font-size="44.79" fill="#000"  stroke="#000" stroke-width="0.7" stroke-linejoin="round">1.2</text>
<text transform="translate(1584.17,2825.73) scale(0.9492,1)" font-family='"Liberation Sans", sans-serif' font-weight="normal" font-size="44.78" fill="#000"  stroke="#000" stroke-width="0.7" stroke-linejoin="round">1.4</text>
<text transform="translate(1760.15,2826.20) scale(0.9485,1)" font-family='"Liberation Sans", sans-serif' font-weight="normal" font-size="44.81" fill="#000"  stroke="#000" stroke-width="0.7" stroke-linejoin="round">1.6</text>
<text transform="translate(808.41,2911.12) scale(1.0134,1)" font-family='"Liberation Sans", sans-serif' font-weight="normal" font-size="53.33" fill="#000"  stroke="#000" stroke-width="0.7" stroke-linejoin="round">AMX concentration/mM</text>
<text transform="translate(1119.19,1816.89) scale(0.9553,1)" font-family='"Liberation Sans", sans-serif' font-weight="normal" font-size="55.78" fill="#000"  stroke="#000" stroke-width="0.7" stroke-linejoin="round">CuBi/CNF</text>
<text transform="translate(1502.68,2455.18) scale(0.9437,1)" font-family='"Liberation Sans", sans-serif' font-weight="normal" font-size="56.68" fill="#000"  stroke="#000" stroke-width="0.7" stroke-linejoin="round">CNF</text>
<text transform="translate(253.34,2327.11) rotate(-90) scale(1.0107,1)" font-family='"Liberation Sans", sans-serif' font-weight="normal" font-size="52.12" fill="#000"  stroke="#000" stroke-width="0.7" stroke-linejoin="round">i/µAcm</text>
<text transform="translate(225.50,2162.72) rotate(-90) scale(0.8543,1)" font-family='"Liberation Sans", sans-serif' font-weight="normal" font-size="34.27" fill="#000" >-2</text>
<text fill="#000"><tspan x="947.27" y="3101.35" font-family='"Liberation Serif", serif' font-weight="normal" font-size="85.40">(</tspan><tspan x="976.62" y="3102.12" font-family='"Liberation Serif", serif' font-weight="bold" font-size="77.92">c</tspan><tspan x="1012.13" y="3101.35" font-family='"Liberation Serif", serif' font-weight="normal" font-size="85.40">)</tspan></text>
</svg>
</body></html>
